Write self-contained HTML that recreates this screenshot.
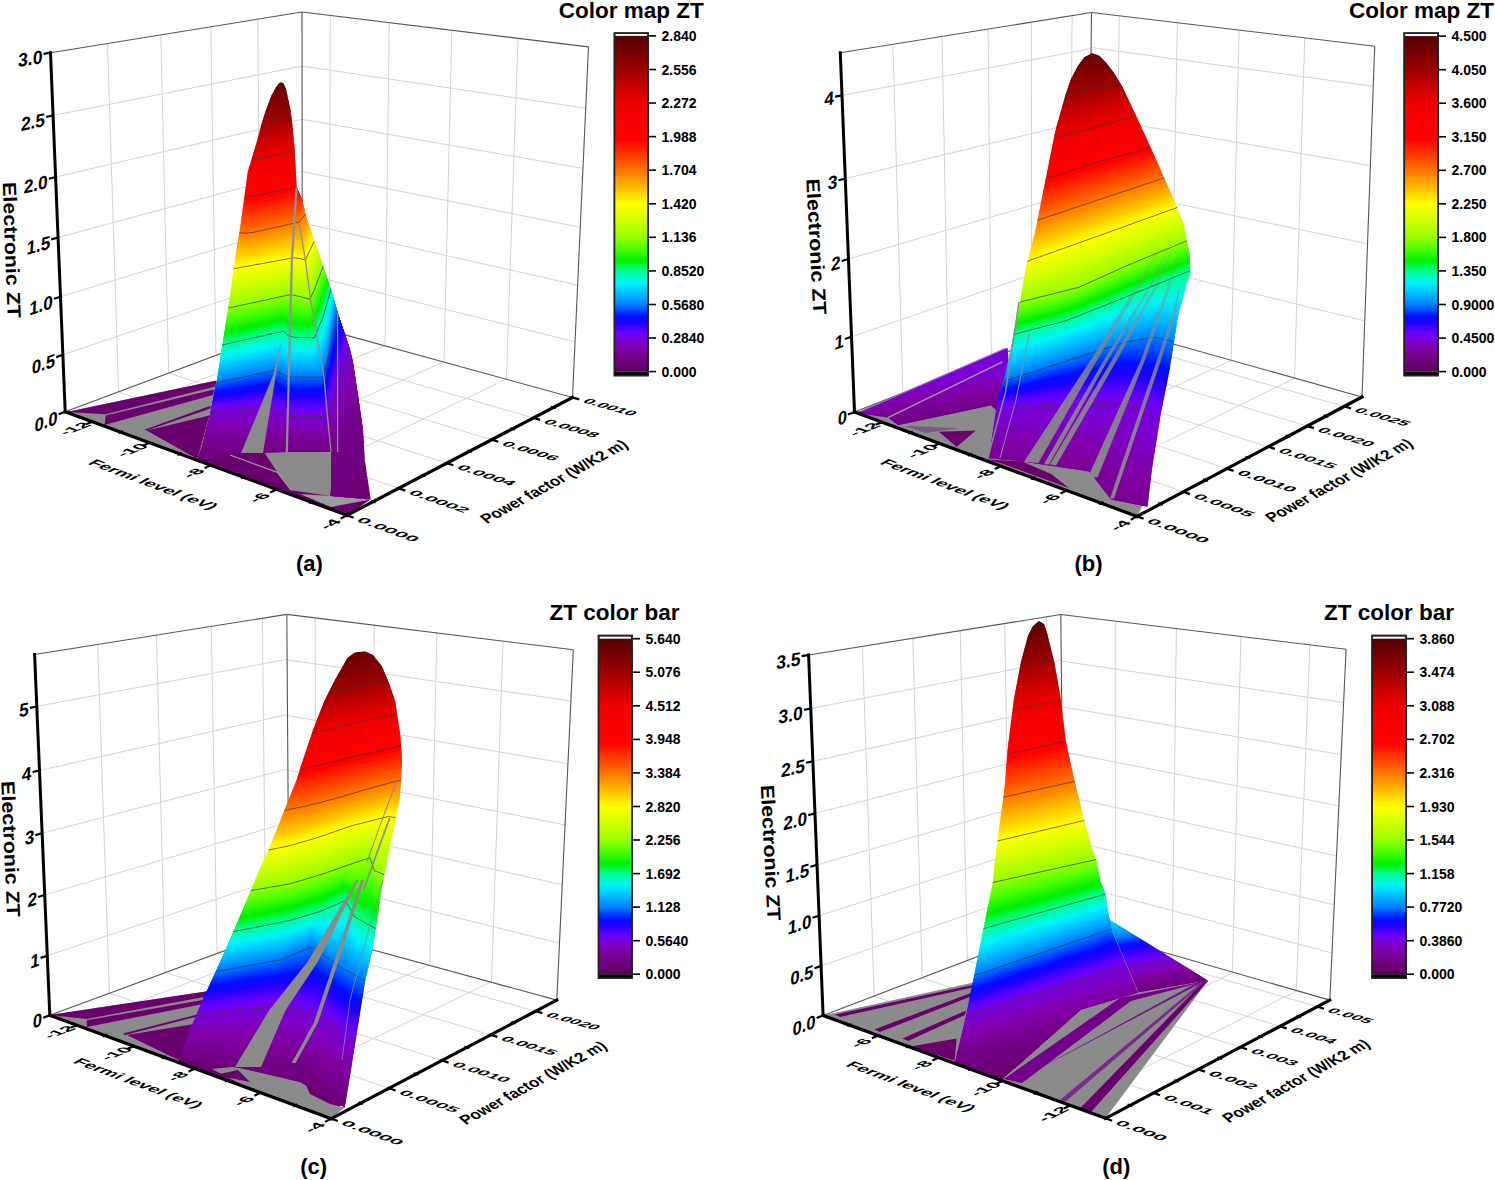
<!DOCTYPE html>
<html><head><meta charset="utf-8"><style>
html,body{margin:0;padding:0;background:#fff;width:1495px;height:1180px;overflow:hidden}
svg{display:block}
</style></head><body>
<svg width="1495" height="1180" viewBox="0 0 1495 1180">
<defs><clipPath id="cp1"><polygon points="197.0,461.0 202.0,446.4 210.5,412.5 217.3,378.6 222.4,344.7 229.2,302.4 234.2,265.0 240.2,227.6 244.4,197.1 247.8,171.7 252.9,154.7 258.0,138.0 261.4,124.2 266.0,110.0 271.5,95.4 275.5,88.0 279.0,83.2 281.0,82.2 283.5,83.5 286.0,89.0 288.5,100.5 290.5,110.0 291.9,120.8 294.4,146.3 295.8,171.7 296.6,187.0 302.0,198.8 305.4,214.3 310.0,228.0 314.3,241.0 318.5,252.0 323.2,266.4 327.0,278.0 330.8,289.3 334.0,300.0 337.6,312.5 343.5,330.0 349.5,348.0 352.9,361.7 358.0,395.6 363.0,429.5 364.7,460.0 370.7,499.5 331.0,496.0 331.0,452.0 286.8,452.0 241.0,453.0"/></clipPath><linearGradient id="acb" x1="0" y1="1" x2="0" y2="0"><stop offset="0.000" stop-color="#5a005c"/><stop offset="0.030" stop-color="#6e0078"/><stop offset="0.070" stop-color="#8000a8"/><stop offset="0.100" stop-color="#7a00e0"/><stop offset="0.120" stop-color="#6000ff"/><stop offset="0.145" stop-color="#2000ff"/><stop offset="0.165" stop-color="#0010ff"/><stop offset="0.200" stop-color="#0080ff"/><stop offset="0.235" stop-color="#00c0ff"/><stop offset="0.265" stop-color="#00f4f8"/><stop offset="0.300" stop-color="#00ff90"/><stop offset="0.330" stop-color="#00f000"/><stop offset="0.360" stop-color="#40ff00"/><stop offset="0.400" stop-color="#98ff00"/><stop offset="0.450" stop-color="#d0ff00"/><stop offset="0.500" stop-color="#ffff00"/><stop offset="0.550" stop-color="#ffb800"/><stop offset="0.600" stop-color="#ff7400"/><stop offset="0.650" stop-color="#ff3400"/><stop offset="0.690" stop-color="#ff0000"/><stop offset="0.800" stop-color="#ee0000"/><stop offset="0.850" stop-color="#c80000"/><stop offset="0.900" stop-color="#9c0000"/><stop offset="0.950" stop-color="#780000"/><stop offset="1.000" stop-color="#560000"/></linearGradient><linearGradient id="stripeB" gradientUnits="userSpaceOnUse" x1="0" y1="245" x2="0" y2="470"><stop offset="0" stop-color="#8b8b8b" stop-opacity="0.1"/><stop offset="0.3" stop-color="#8b8b8b" stop-opacity="0.55"/><stop offset="0.6" stop-color="#8b8b8b" stop-opacity="0.85"/><stop offset="1" stop-color="#8b8b8b" stop-opacity="0.95"/></linearGradient><linearGradient id="zg1" gradientUnits="userSpaceOnUse" x1="930.0" y1="382.0" x2="938.0" y2="430.0"><stop offset="0.000" stop-color="#7b00d4"/><stop offset="0.017" stop-color="#7c00d1"/><stop offset="0.033" stop-color="#7c00cf"/><stop offset="0.050" stop-color="#7c00cc"/><stop offset="0.067" stop-color="#7c00ca"/><stop offset="0.083" stop-color="#7d00c8"/><stop offset="0.100" stop-color="#7d00c5"/><stop offset="0.117" stop-color="#7d00c3"/><stop offset="0.133" stop-color="#7d00c1"/><stop offset="0.150" stop-color="#7e00be"/><stop offset="0.167" stop-color="#7e00bc"/><stop offset="0.183" stop-color="#7e00b9"/><stop offset="0.200" stop-color="#7e00b7"/><stop offset="0.217" stop-color="#7f00b5"/><stop offset="0.233" stop-color="#7f00b2"/><stop offset="0.250" stop-color="#7f00b0"/><stop offset="0.267" stop-color="#7f00ae"/><stop offset="0.283" stop-color="#8000ab"/><stop offset="0.300" stop-color="#8000a9"/><stop offset="0.317" stop-color="#8000a7"/><stop offset="0.333" stop-color="#7f00a6"/><stop offset="0.350" stop-color="#7e00a4"/><stop offset="0.367" stop-color="#7e00a3"/><stop offset="0.383" stop-color="#7d00a1"/><stop offset="0.400" stop-color="#7d00a0"/><stop offset="0.417" stop-color="#7c009f"/><stop offset="0.433" stop-color="#7c009d"/><stop offset="0.450" stop-color="#7b009c"/><stop offset="0.467" stop-color="#7b009a"/><stop offset="0.483" stop-color="#7a0099"/><stop offset="0.500" stop-color="#7a0098"/><stop offset="0.517" stop-color="#790096"/><stop offset="0.533" stop-color="#790095"/><stop offset="0.550" stop-color="#780094"/><stop offset="0.567" stop-color="#780092"/><stop offset="0.583" stop-color="#770091"/><stop offset="0.600" stop-color="#77008f"/><stop offset="0.617" stop-color="#76008e"/><stop offset="0.633" stop-color="#76008d"/><stop offset="0.650" stop-color="#75008b"/><stop offset="0.667" stop-color="#75008a"/><stop offset="0.683" stop-color="#740089"/><stop offset="0.700" stop-color="#740087"/><stop offset="0.717" stop-color="#730086"/><stop offset="0.733" stop-color="#730085"/><stop offset="0.750" stop-color="#720083"/><stop offset="0.767" stop-color="#720082"/><stop offset="0.783" stop-color="#710080"/><stop offset="0.800" stop-color="#71007f"/><stop offset="0.817" stop-color="#70007e"/><stop offset="0.833" stop-color="#70007c"/><stop offset="0.850" stop-color="#6f007b"/><stop offset="0.867" stop-color="#6f007a"/><stop offset="0.883" stop-color="#6e0078"/><stop offset="0.900" stop-color="#6d0077"/><stop offset="0.917" stop-color="#6d0076"/><stop offset="0.933" stop-color="#6c0075"/><stop offset="0.950" stop-color="#6b0074"/><stop offset="0.967" stop-color="#6a0073"/><stop offset="0.983" stop-color="#6a0072"/><stop offset="1.000" stop-color="#690071"/></linearGradient><clipPath id="cp2"><polygon points="988.8,458.3 997.6,403.3 1006.4,370.2 1015.3,326.0 1019.7,304.0 1023.7,280.0 1026.8,263.7 1034.9,233.2 1041.0,202.7 1047.1,172.2 1055.2,131.5 1065.4,94.9 1071.0,79.0 1077.6,66.4 1084.0,57.5 1091.9,53.2 1099.0,55.5 1106.0,62.4 1114.0,73.0 1122.4,86.8 1138.6,121.3 1159.0,166.0 1173.2,198.6 1183.4,223.0 1189.5,253.5 1190.5,273.9 1187.2,282.0 1178.3,315.0 1169.5,370.2 1160.7,414.3 1151.9,469.4 1147.5,506.8 1111.0,499.5 1089.3,471.5 1022.0,461.4"/></clipPath><linearGradient id="bcb" x1="0" y1="1" x2="0" y2="0"><stop offset="0.000" stop-color="#5a005c"/><stop offset="0.030" stop-color="#6e0078"/><stop offset="0.070" stop-color="#8000a8"/><stop offset="0.100" stop-color="#7a00e0"/><stop offset="0.120" stop-color="#6000ff"/><stop offset="0.145" stop-color="#2000ff"/><stop offset="0.165" stop-color="#0010ff"/><stop offset="0.200" stop-color="#0080ff"/><stop offset="0.235" stop-color="#00c0ff"/><stop offset="0.265" stop-color="#00f4f8"/><stop offset="0.300" stop-color="#00ff90"/><stop offset="0.330" stop-color="#00f000"/><stop offset="0.360" stop-color="#40ff00"/><stop offset="0.400" stop-color="#98ff00"/><stop offset="0.450" stop-color="#d0ff00"/><stop offset="0.500" stop-color="#ffff00"/><stop offset="0.550" stop-color="#ffb800"/><stop offset="0.600" stop-color="#ff7400"/><stop offset="0.650" stop-color="#ff3400"/><stop offset="0.690" stop-color="#ff0000"/><stop offset="0.800" stop-color="#ee0000"/><stop offset="0.850" stop-color="#c80000"/><stop offset="0.900" stop-color="#9c0000"/><stop offset="0.950" stop-color="#780000"/><stop offset="1.000" stop-color="#560000"/></linearGradient><clipPath id="cp3"><polygon points="179.0,1059.6 190.0,1030.0 203.4,998.6 223.7,953.9 244.0,907.1 260.0,868.5 269.2,848.6 284.4,810.5 296.6,780.0 300.3,768.0 313.0,730.0 324.0,701.7 336.0,678.0 347.8,657.6 355.0,652.5 364.7,651.5 373.0,655.0 381.7,666.0 389.0,683.0 395.3,701.7 400.3,735.6 402.0,760.0 401.1,780.0 399.6,799.8 394.2,825.8 388.1,856.3 382.0,886.8 377.5,917.3 372.9,947.8 365.1,981.3 356.9,1032.2 348.8,1083.0 344.7,1107.4 300.0,1082.0 240.0,1068.0"/></clipPath><linearGradient id="ccb" x1="0" y1="1" x2="0" y2="0"><stop offset="0.000" stop-color="#5a005c"/><stop offset="0.030" stop-color="#6e0078"/><stop offset="0.070" stop-color="#8000a8"/><stop offset="0.100" stop-color="#7a00e0"/><stop offset="0.120" stop-color="#6000ff"/><stop offset="0.145" stop-color="#2000ff"/><stop offset="0.165" stop-color="#0010ff"/><stop offset="0.200" stop-color="#0080ff"/><stop offset="0.235" stop-color="#00c0ff"/><stop offset="0.265" stop-color="#00f4f8"/><stop offset="0.300" stop-color="#00ff90"/><stop offset="0.330" stop-color="#00f000"/><stop offset="0.360" stop-color="#40ff00"/><stop offset="0.400" stop-color="#98ff00"/><stop offset="0.450" stop-color="#d0ff00"/><stop offset="0.500" stop-color="#ffff00"/><stop offset="0.550" stop-color="#ffb800"/><stop offset="0.600" stop-color="#ff7400"/><stop offset="0.650" stop-color="#ff3400"/><stop offset="0.690" stop-color="#ff0000"/><stop offset="0.800" stop-color="#ee0000"/><stop offset="0.850" stop-color="#c80000"/><stop offset="0.900" stop-color="#9c0000"/><stop offset="0.950" stop-color="#780000"/><stop offset="1.000" stop-color="#560000"/></linearGradient><linearGradient id="zg2" gradientUnits="userSpaceOnUse" x1="1150.0" y1="995.0" x2="1134.6" y2="918.1"><stop offset="0.000" stop-color="#6b0074"/><stop offset="0.017" stop-color="#6d0076"/><stop offset="0.033" stop-color="#6e0079"/><stop offset="0.050" stop-color="#6f007b"/><stop offset="0.067" stop-color="#70007e"/><stop offset="0.083" stop-color="#710081"/><stop offset="0.100" stop-color="#720084"/><stop offset="0.117" stop-color="#730086"/><stop offset="0.133" stop-color="#740089"/><stop offset="0.150" stop-color="#75008c"/><stop offset="0.167" stop-color="#77008f"/><stop offset="0.183" stop-color="#780091"/><stop offset="0.200" stop-color="#790096"/><stop offset="0.217" stop-color="#7b009a"/><stop offset="0.233" stop-color="#7d009f"/><stop offset="0.250" stop-color="#7e00a4"/><stop offset="0.267" stop-color="#8000a9"/><stop offset="0.283" stop-color="#7f00b0"/><stop offset="0.300" stop-color="#7e00b8"/><stop offset="0.317" stop-color="#7e00bf"/><stop offset="0.333" stop-color="#7d00c6"/><stop offset="0.350" stop-color="#7c00ce"/><stop offset="0.367" stop-color="#7b00d5"/><stop offset="0.383" stop-color="#7a00dd"/><stop offset="0.400" stop-color="#7800e3"/><stop offset="0.417" stop-color="#7400e8"/><stop offset="0.433" stop-color="#6f00ed"/><stop offset="0.450" stop-color="#6b00f1"/><stop offset="0.467" stop-color="#6700f6"/><stop offset="0.483" stop-color="#6300fb"/><stop offset="0.500" stop-color="#5e00ff"/><stop offset="0.517" stop-color="#5600ff"/><stop offset="0.533" stop-color="#4d00ff"/><stop offset="0.550" stop-color="#4500ff"/><stop offset="0.567" stop-color="#3d00ff"/><stop offset="0.583" stop-color="#3500ff"/><stop offset="0.600" stop-color="#2d00ff"/><stop offset="0.617" stop-color="#2300ff"/><stop offset="0.633" stop-color="#1a03ff"/><stop offset="0.650" stop-color="#1207ff"/><stop offset="0.667" stop-color="#0a0bff"/><stop offset="0.683" stop-color="#020fff"/><stop offset="0.700" stop-color="#001bff"/><stop offset="0.717" stop-color="#002bff"/><stop offset="0.733" stop-color="#003bff"/><stop offset="0.750" stop-color="#004bff"/><stop offset="0.767" stop-color="#005bff"/><stop offset="0.783" stop-color="#006bff"/><stop offset="0.800" stop-color="#007bff"/><stop offset="0.817" stop-color="#0086ff"/><stop offset="0.833" stop-color="#008dff"/><stop offset="0.850" stop-color="#0094ff"/><stop offset="0.867" stop-color="#009bff"/><stop offset="0.883" stop-color="#00a2ff"/><stop offset="0.900" stop-color="#00a9ff"/><stop offset="0.917" stop-color="#00b1ff"/><stop offset="0.933" stop-color="#00b8ff"/><stop offset="0.950" stop-color="#00bfff"/><stop offset="0.967" stop-color="#00c6fe"/><stop offset="0.983" stop-color="#00ccfd"/><stop offset="1.000" stop-color="#00d3fc"/></linearGradient><clipPath id="cp4"><polygon points="955.4,1060.4 966.4,1014.2 975.2,970.1 984.0,926.0 992.9,882.0 994.9,861.0 999.6,825.4 1004.4,789.8 1007.9,747.1 1013.9,699.6 1021.0,661.7 1028.1,635.6 1033.0,626.0 1038.8,620.9 1044.0,624.0 1047.1,633.2 1054.2,661.7 1060.1,694.9 1066.0,742.3 1075.5,785.0 1085.0,823.0 1092.1,849.1 1096.4,860.0 1100.0,880.0 1105.2,893.0 1109.6,919.5 1112.5,932.7 1138.0,992.7 1081.0,1009.8 1001.7,1080.3 955.4,1062.0"/></clipPath><linearGradient id="dcb" x1="0" y1="1" x2="0" y2="0"><stop offset="0.000" stop-color="#5a005c"/><stop offset="0.030" stop-color="#6e0078"/><stop offset="0.070" stop-color="#8000a8"/><stop offset="0.100" stop-color="#7a00e0"/><stop offset="0.120" stop-color="#6000ff"/><stop offset="0.145" stop-color="#2000ff"/><stop offset="0.165" stop-color="#0010ff"/><stop offset="0.200" stop-color="#0080ff"/><stop offset="0.235" stop-color="#00c0ff"/><stop offset="0.265" stop-color="#00f4f8"/><stop offset="0.300" stop-color="#00ff90"/><stop offset="0.330" stop-color="#00f000"/><stop offset="0.360" stop-color="#40ff00"/><stop offset="0.400" stop-color="#98ff00"/><stop offset="0.450" stop-color="#d0ff00"/><stop offset="0.500" stop-color="#ffff00"/><stop offset="0.550" stop-color="#ffb800"/><stop offset="0.600" stop-color="#ff7400"/><stop offset="0.650" stop-color="#ff3400"/><stop offset="0.690" stop-color="#ff0000"/><stop offset="0.800" stop-color="#ee0000"/><stop offset="0.850" stop-color="#c80000"/><stop offset="0.900" stop-color="#9c0000"/><stop offset="0.950" stop-color="#780000"/><stop offset="1.000" stop-color="#560000"/></linearGradient></defs>
<rect width="1495" height="1180" fill="#fff"/>
<line x1="118.6" y1="391.8" x2="107.5" y2="43.5" stroke="#d4d4d4" stroke-width="1"/>
<line x1="118.6" y1="391.8" x2="398.7" y2="488.3" stroke="#d4d4d4" stroke-width="1"/>
<line x1="168.7" y1="373.1" x2="160.8" y2="34.9" stroke="#d4d4d4" stroke-width="1"/>
<line x1="168.8" y1="373.1" x2="446.8" y2="463.2" stroke="#d4d4d4" stroke-width="1"/>
<line x1="215.9" y1="355.4" x2="210.8" y2="26.8" stroke="#d4d4d4" stroke-width="1"/>
<line x1="215.9" y1="355.4" x2="491.6" y2="439.8" stroke="#d4d4d4" stroke-width="1"/>
<line x1="260.3" y1="338.8" x2="257.8" y2="19.2" stroke="#d4d4d4" stroke-width="1"/>
<line x1="260.4" y1="338.8" x2="533.4" y2="417.9" stroke="#d4d4d4" stroke-width="1"/>
<line x1="62.9" y1="354.8" x2="302.3" y2="273.4" stroke="#d4d4d4" stroke-width="1"/>
<line x1="302.3" y1="273.4" x2="575.0" y2="341.9" stroke="#d4d4d4" stroke-width="1"/>
<line x1="60.5" y1="296.7" x2="302.2" y2="222.9" stroke="#d4d4d4" stroke-width="1"/>
<line x1="302.2" y1="222.9" x2="577.6" y2="285.2" stroke="#d4d4d4" stroke-width="1"/>
<line x1="58.1" y1="237.5" x2="302.2" y2="171.5" stroke="#d4d4d4" stroke-width="1"/>
<line x1="302.2" y1="171.6" x2="580.3" y2="227.3" stroke="#d4d4d4" stroke-width="1"/>
<line x1="55.6" y1="177.1" x2="302.1" y2="119.2" stroke="#d4d4d4" stroke-width="1"/>
<line x1="302.1" y1="119.3" x2="583.0" y2="168.4" stroke="#d4d4d4" stroke-width="1"/>
<line x1="53.1" y1="115.5" x2="302.1" y2="66.1" stroke="#d4d4d4" stroke-width="1"/>
<line x1="302.1" y1="66.1" x2="585.7" y2="108.2" stroke="#d4d4d4" stroke-width="1"/>
<line x1="329.1" y1="330.5" x2="330.3" y2="15.4" stroke="#d4d4d4" stroke-width="1"/>
<line x1="92.4" y1="421.8" x2="329.0" y2="330.4" stroke="#d4d4d4" stroke-width="1"/>
<line x1="385.0" y1="345.9" x2="389.3" y2="22.6" stroke="#d4d4d4" stroke-width="1"/>
<line x1="149.7" y1="442.8" x2="384.6" y2="345.8" stroke="#d4d4d4" stroke-width="1"/>
<line x1="444.0" y1="362.1" x2="451.8" y2="30.2" stroke="#d4d4d4" stroke-width="1"/>
<line x1="210.9" y1="465.3" x2="443.5" y2="362.0" stroke="#d4d4d4" stroke-width="1"/>
<line x1="506.4" y1="379.3" x2="518.0" y2="38.3" stroke="#d4d4d4" stroke-width="1"/>
<line x1="276.5" y1="489.4" x2="506.1" y2="379.2" stroke="#d4d4d4" stroke-width="1"/>
<line x1="50.5" y1="52.7" x2="302.0" y2="12.0" stroke="#555" stroke-width="1.1"/>
<line x1="302.0" y1="12.0" x2="588.5" y2="46.9" stroke="#555" stroke-width="1.1"/>
<line x1="588.5" y1="46.9" x2="572.5" y2="397.5" stroke="#555" stroke-width="1.1"/>
<line x1="302.0" y1="12.0" x2="302.3" y2="323.1" stroke="#555" stroke-width="1.1"/>
<line x1="65.2" y1="411.8" x2="302.3" y2="323.1" stroke="#555" stroke-width="1.1"/>
<line x1="302.3" y1="323.1" x2="572.5" y2="397.5" stroke="#555" stroke-width="1.1"/>
<polygon points="66.0,412.0 216.5,380.5 220.0,396.0 200.0,461.3" fill="#8b8b8b"/>
<polygon points="67.0,412.0 216.5,380.5 215.3,386.5 105.7,414.2" fill="#6a006e"/>
<polygon points="105.7,415.6 214.0,389.5 213.0,395.0 104.5,425.0" fill="#6a006e"/>
<polygon points="144.3,429.8 210.5,405.7 210.5,408.5 146.7,430.5" fill="#6a006e"/>
<polygon points="146.7,430.5 209.3,415.4 197.3,459.0" fill="#6a006e"/>
<polygon points="197.0,461.3 241.0,445.0 331.0,445.0 340.0,450.0 340.0,496.0 370.7,499.5 347.0,515.3" fill="#6a006e"/>
<polygon points="262.0,449.0 277.5,472.4 291.0,490.2 330.0,496.1 336.0,449.0" fill="#8b8b8b"/>
<polygon points="300.0,494.0 331.0,496.0 370.7,499.5 331.0,507.0" fill="#9c9c9c"/>
<polyline points="230.0,455.0 277.5,472.4 291.0,490.2" fill="none" stroke="#9c9c9c" stroke-width="1.2" stroke-linejoin="round"/>
<g clip-path="url(#cp1)" fill="none" stroke-linejoin="round"><polyline points="191,88 200,86 205,86 214,84 221,83 231,82 236,81 240,80 245,80 253,78 260,77 265,77 275,75 283,74 288,73 294,72 299,71 305,71 310,70 314,69 323,68 328,67 334,66 340,65 349,64 355,63 365,62 372,61 377,60" stroke="#580000" stroke-width="4.2"/><polyline points="191,90 200,89 205,88 214,87 221,86 231,84 236,84 240,83 245,82 253,81 260,80 265,79 275,78 283,76 288,76 294,75 299,74 305,73 310,73 314,72 323,71 328,70 334,69 340,68 349,67 355,66 365,64 372,63 377,63" stroke="#5c0000" stroke-width="4.2"/><polyline points="191,93 200,91 205,91 214,89 221,88 231,87 236,86 240,85 245,85 253,84 260,83 265,82 275,80 283,79 288,78 294,78 299,77 305,76 310,75 314,75 323,73 328,73 334,72 340,71 349,69 355,69 365,67 372,66 377,65" stroke="#600000" stroke-width="4.2"/><polyline points="191,95 200,94 205,93 214,92 221,91 231,89 236,89 240,88 245,87 253,86 260,85 265,84 275,83 283,82 288,81 294,80 299,80 305,79 310,78 314,77 323,76 328,75 334,74 340,74 349,72 355,71 365,70 372,69 377,68" stroke="#640000" stroke-width="4.2"/><polyline points="191,98 200,96 205,96 214,94 221,93 231,92 236,91 240,91 245,90 253,89 260,88 265,87 275,86 283,84 288,84 294,83 299,82 305,81 310,81 314,80 323,79 328,78 334,77 340,76 349,75 355,74 365,73 372,72 377,71" stroke="#680000" stroke-width="4.2"/><polyline points="191,100 200,99 205,98 214,97 221,96 231,95 236,94 240,93 245,93 253,91 260,90 265,90 275,88 283,87 288,86 294,86 299,85 305,84 310,83 314,83 323,81 328,81 334,80 340,79 349,78 355,77 365,75 372,74 377,74" stroke="#6c0000" stroke-width="4.2"/><polyline points="191,103 200,102 205,101 214,100 221,99 231,97 236,96 240,96 245,95 253,94 260,93 265,92 275,91 283,90 288,89 294,88 299,88 305,87 310,86 314,85 323,84 328,83 334,83 340,82 349,80 355,80 365,78 372,77 377,76" stroke="#700000" stroke-width="4.2"/><polyline points="191,105 200,104 205,103 214,102 221,101 231,100 236,99 240,98 245,98 253,97 260,96 265,95 275,94 283,92 288,92 294,91 299,90 305,89 310,89 314,88 323,87 328,86 334,85 340,84 349,83 355,82 365,81 372,80 377,79" stroke="#740000" stroke-width="4.2"/><polyline points="191,108 200,107 205,106 214,105 221,104 231,102 236,102 240,101 245,100 253,99 260,98 265,98 275,96 283,95 288,94 294,94 299,93 305,92 310,91 314,91 323,89 328,89 334,88 340,87 349,86 355,85 365,84 372,83 377,82" stroke="#780000" stroke-width="4.2"/><polyline points="191,110 200,109 205,109 214,107 221,106 231,105 236,104 240,104 245,103 253,102 260,101 265,100 275,99 283,98 288,97 294,96 299,96 305,95 310,94 314,93 323,92 328,92 334,91 340,90 349,89 355,88 365,86 372,85 377,85" stroke="#7c0000" stroke-width="4.2"/><polyline points="191,113 200,112 205,111 214,110 221,109 231,108 236,107 240,106 245,106 253,105 260,104 265,103 275,101 283,100 288,100 294,99 299,98 305,97 310,97 314,96 323,95 328,94 334,93 340,93 349,91 355,91 365,89 372,88 377,88" stroke="#800000" stroke-width="4.2"/><polyline points="191,116 200,114 205,114 214,112 221,112 231,110 236,109 240,109 245,108 253,107 260,106 265,106 275,104 283,103 288,102 294,102 299,101 305,100 310,99 314,99 323,98 328,97 334,96 340,95 349,94 355,93 365,92 372,91 377,90" stroke="#850000" stroke-width="4.2"/><polyline points="191,118 200,117 205,116 214,115 221,114 231,113 236,112 240,111 245,111 253,110 260,109 265,108 275,107 283,106 288,105 294,104 299,104 305,103 310,102 314,101 323,100 328,100 334,99 340,98 349,97 355,96 365,95 372,94 377,93" stroke="#890000" stroke-width="4.2"/><polyline points="191,121 200,119 205,119 214,118 221,117 231,115 236,115 240,114 245,113 253,112 260,111 265,111 275,109 283,108 288,108 294,107 299,106 305,105 310,105 314,104 323,103 328,102 334,102 340,101 349,100 355,99 365,97 372,96 377,96" stroke="#8d0000" stroke-width="4.2"/><polyline points="191,123 200,122 205,121 214,120 221,119 231,118 236,117 240,117 245,116 253,115 260,114 265,113 275,112 283,111 288,110 294,110 299,109 305,108 310,107 314,107 323,106 328,105 334,104 340,103 349,102 355,101 365,100 372,99 377,99" stroke="#910000" stroke-width="4.2"/><polyline points="191,126 200,125 205,124 214,123 221,122 231,120 236,120 240,119 245,119 253,118 260,117 265,116 275,115 283,114 288,113 294,112 299,112 305,111 310,110 314,110 323,108 328,108 334,107 340,106 349,105 355,104 365,103 372,102 377,101" stroke="#960000" stroke-width="4.2"/><polyline points="191,128 200,127 205,126 214,125 221,124 231,123 236,122 240,122 245,121 253,120 260,119 265,119 275,117 283,116 288,116 294,115 299,114 305,113 310,113 314,112 323,111 328,111 334,110 340,109 349,108 355,107 365,106 372,105 377,104" stroke="#9a0000" stroke-width="4.2"/><polyline points="191,130 200,129 205,128 214,127 221,127 231,125 236,125 240,124 245,124 253,123 260,122 265,121 275,120 283,119 288,118 294,118 299,117 305,116 310,115 314,115 323,114 328,113 334,112 340,111 349,110 355,109 365,108 372,107 377,106" stroke="#9f0000" stroke-width="4.3"/><polyline points="191,131 200,130 205,130 214,129 221,128 231,127 236,127 240,126 245,126 253,125 260,125 265,124 275,123 283,121 288,121 294,120 299,119 305,118 310,118 314,117 323,116 328,115 334,114 340,114 349,112 355,111 365,110 372,109 377,108" stroke="#a50000" stroke-width="4.3"/><polyline points="191,132 200,131 205,131 214,130 221,130 231,129 236,129 240,129 245,128 253,128 260,127 265,127 275,125 283,124 288,123 294,123 299,122 305,121 310,120 314,120 323,118 328,118 334,117 340,116 349,114 355,114 365,112 372,111 377,110" stroke="#ac0000" stroke-width="4.3"/><polyline points="191,133 200,132 205,132 214,132 221,132 231,131 236,131 240,131 245,131 253,130 260,130 265,129 275,128 283,127 288,126 294,125 299,124 305,123 310,123 314,122 323,121 328,120 334,119 340,118 349,117 355,116 365,114 372,113 377,112" stroke="#b20000" stroke-width="4.3"/><polyline points="191,133 200,133 205,133 214,133 221,133 231,133 236,133 240,133 245,133 253,133 260,133 265,132 275,131 283,129 288,128 294,128 299,127 305,126 310,125 314,124 323,123 328,122 334,121 340,120 349,119 355,118 365,116 372,115 377,114" stroke="#b80000" stroke-width="4.3"/><polyline points="191,134 200,135 205,135 214,135 221,135 231,135 236,135 240,135 245,135 253,136 260,136 265,135 275,133 283,132 288,131 294,130 299,129 305,128 310,127 314,127 323,125 328,124 334,123 340,122 349,121 355,120 365,118 372,117 377,116" stroke="#bf0000" stroke-width="4.3"/><polyline points="191,135 200,136 205,136 214,136 221,137 231,137 236,137 240,138 245,138 253,138 260,138 265,138 275,136 283,134 288,133 294,133 299,132 305,131 310,130 314,129 323,127 328,127 334,126 340,125 349,123 355,122 365,120 372,119 377,118" stroke="#c50000" stroke-width="4.3"/><polyline points="191,136 200,137 205,137 214,138 221,138 231,139 236,139 240,140 245,140 253,141 260,141 265,140 275,138 283,137 288,136 294,135 299,134 305,133 310,132 314,131 323,130 328,129 334,128 340,127 349,125 355,124 365,122 372,121 377,120" stroke="#cb0000" stroke-width="4.3"/><polyline points="191,137 200,138 205,138 214,139 221,140 231,141 236,142 240,142 245,142 253,143 260,144 265,143 275,141 283,140 288,139 294,138 299,137 305,135 310,135 314,134 323,132 328,131 334,130 340,129 349,127 355,126 365,124 372,123 377,122" stroke="#d00000" stroke-width="4.3"/><polyline points="191,138 200,139 205,140 214,141 221,142 231,143 236,144 240,144 245,145 253,146 260,147 265,146 275,144 283,142 288,141 294,140 299,139 305,138 310,137 314,136 323,134 328,134 334,132 340,131 349,129 355,128 365,126 372,125 377,124" stroke="#d60000" stroke-width="4.3"/><polyline points="191,139 200,140 205,141 214,142 221,143 231,145 236,146 240,146 245,147 253,148 260,149 265,148 275,146 283,145 288,144 294,143 299,142 305,140 310,139 314,138 323,137 328,136 334,135 340,133 349,132 355,130 365,128 372,127 377,126" stroke="#db0000" stroke-width="4.3"/><polyline points="191,140 200,141 205,142 214,144 221,145 231,147 236,148 240,149 245,150 253,151 260,152 265,151 275,149 283,147 288,146 294,145 299,144 305,143 310,142 314,141 323,139 328,138 334,137 340,136 349,134 355,132 365,130 372,129 377,128" stroke="#e00000" stroke-width="4.3"/><polyline points="191,141 200,142 205,143 214,145 221,147 231,149 236,150 240,151 245,152 253,153 260,155 265,154 275,152 283,150 288,149 294,148 299,146 305,145 310,144 314,143 323,141 328,140 334,139 340,138 349,136 355,134 365,132 372,131 377,130" stroke="#e60000" stroke-width="4.3"/><polyline points="191,141 200,144 205,145 214,147 221,148 231,151 236,152 240,153 245,154 253,156 260,158 265,157 275,154 283,152 288,151 294,150 299,149 305,148 310,147 314,146 323,144 328,143 334,141 340,140 349,138 355,137 365,134 372,133 377,132" stroke="#eb0000" stroke-width="4.3"/><polyline points="191,143 200,146 205,147 214,149 221,151 231,153 236,154 240,155 245,157 253,159 260,160 265,159 275,157 283,155 288,154 294,153 299,151 305,150 310,149 314,148 323,146 328,145 334,143 340,142 349,140 355,139 365,136 372,135 377,134" stroke="#ef0000" stroke-width="4.2"/><polyline points="191,147 200,149 205,150 214,152 221,154 231,156 236,157 240,158 245,159 253,161 260,163 265,161 275,159 283,157 288,156 294,155 299,154 305,152 310,151 314,150 323,148 328,147 334,146 340,144 349,142 355,141 365,138 372,137 377,135" stroke="#f00000" stroke-width="4.2"/><polyline points="191,150 200,152 205,153 214,155 221,156 231,159 236,160 240,161 245,162 253,164 260,165 265,164 275,162 283,160 288,159 294,157 299,156 305,155 310,153 314,152 323,150 328,149 334,148 340,146 349,144 355,143 365,140 372,138 377,137" stroke="#f10000" stroke-width="4.2"/><polyline points="191,153 200,155 205,156 214,158 221,159 231,162 236,163 240,164 245,165 253,166 260,167 265,166 275,164 283,162 288,161 294,160 299,159 305,157 310,156 314,155 323,152 328,151 334,150 340,148 349,146 355,144 365,142 372,140 377,139" stroke="#f20000" stroke-width="4.2"/><polyline points="191,156 200,158 205,159 214,161 221,162 231,164 236,165 240,166 245,167 253,169 260,170 265,169 275,166 283,165 288,163 294,162 299,161 305,159 310,158 314,157 323,155 328,154 334,152 340,150 349,148 355,146 365,144 372,142 377,141" stroke="#f30000" stroke-width="4.2"/><polyline points="191,159 200,161 205,162 214,164 221,165 231,167 236,168 240,169 245,170 253,172 260,172 265,171 275,169 283,167 288,166 294,165 299,163 305,162 310,160 314,159 323,157 328,156 334,154 340,152 349,150 355,148 365,146 372,144 377,143" stroke="#f40000" stroke-width="4.2"/><polyline points="191,162 200,164 205,165 214,167 221,168 231,170 236,171 240,172 245,173 253,174 260,175 265,173 275,171 283,169 288,168 294,167 299,166 305,164 310,163 314,162 323,159 328,158 334,156 340,154 349,152 355,150 365,148 372,146 377,144" stroke="#f50000" stroke-width="4.2"/><polyline points="191,165 200,167 205,168 214,170 221,171 231,173 236,174 240,174 245,175 253,177 260,177 265,176 275,174 283,172 288,171 294,169 299,168 305,166 310,165 314,164 323,161 328,160 334,158 340,157 349,154 355,152 365,150 372,148 377,146" stroke="#f60000" stroke-width="4.2"/><polyline points="191,169 200,170 205,171 214,173 221,174 231,176 236,176 240,177 245,178 253,179 260,179 265,178 275,176 283,174 288,173 294,172 299,170 305,169 310,167 314,166 323,163 328,162 334,160 340,159 349,156 355,154 365,151 372,149 377,148" stroke="#f70000" stroke-width="4.2"/><polyline points="191,172 200,173 205,174 214,176 221,177 231,178 236,179 240,180 245,181 253,182 260,182 265,181 275,178 283,177 288,175 294,174 299,173 305,171 310,170 314,168 323,166 328,164 334,162 340,161 349,158 355,156 365,153 372,151 377,150" stroke="#f80000" stroke-width="4.2"/><polyline points="191,175 200,176 205,177 214,178 221,180 231,181 236,182 240,183 245,183 253,185 260,184 265,183 275,181 283,179 288,178 294,177 299,175 305,173 310,172 314,171 323,168 328,167 334,165 340,163 349,160 355,158 365,155 372,153 377,152" stroke="#f90000" stroke-width="4.2"/><polyline points="191,178 200,179 205,180 214,181 221,182 231,184 236,185 240,185 245,186 253,187 260,186 265,185 275,183 283,181 288,180 294,179 299,178 305,176 310,174 314,173 323,170 328,169 334,167 340,165 349,162 355,160 365,157 372,155 377,153" stroke="#fa0000" stroke-width="4.2"/><polyline points="191,181 200,182 205,183 214,184 221,185 231,187 236,187 240,188 245,189 253,190 260,189 265,188 275,186 283,184 288,183 294,182 299,180 305,178 310,177 314,175 323,172 328,171 334,169 340,167 349,164 355,162 365,159 372,157 377,155" stroke="#fb0000" stroke-width="4.2"/><polyline points="191,184 200,185 205,186 214,187 221,188 231,189 236,190 240,191 245,191 253,192 260,191 265,190 275,188 283,186 288,185 294,184 299,182 305,180 310,179 314,177 323,175 328,173 334,171 340,169 349,166 355,164 365,161 372,159 377,157" stroke="#fc0000" stroke-width="4.2"/><polyline points="191,187 200,189 205,189 214,190 221,191 231,192 236,193 240,193 245,194 253,195 260,194 265,193 275,190 283,189 288,187 294,186 299,185 305,183 310,181 314,180 323,177 328,175 334,173 340,171 349,168 355,166 365,163 372,160 377,159" stroke="#fd0000" stroke-width="4.2"/><polyline points="191,190 200,191 205,192 214,193 221,194 231,195 236,196 240,196 245,197 253,198 260,196 265,195 275,193 283,191 288,190 294,189 299,187 305,185 310,183 314,181 323,178 328,176 334,174 340,171 349,168 355,165 365,161 372,158 377,156" stroke="#fe0000" stroke-width="4.3"/><polyline points="191,193 200,194 205,195 214,196 221,197 231,198 236,198 240,199 245,199 253,200 260,199 265,198 275,195 283,194 288,192 294,191 299,190 305,187 310,185 314,182 323,178 328,176 334,172 340,169 349,164 355,161 365,156 372,153 377,150" stroke="#ff0100" stroke-width="4.3"/><polyline points="191,196 200,197 205,197 214,198 221,199 231,200 236,201 240,202 245,202 253,203 260,201 265,200 275,198 283,196 288,195 294,194 299,192 305,189 310,186 314,184 323,178 328,175 334,171 340,167 349,161 355,158 365,151 372,147 377,144" stroke="#ff0a00" stroke-width="4.3"/><polyline points="191,198 200,200 205,200 214,201 221,202 231,203 236,204 240,204 245,205 253,205 260,204 265,203 275,201 283,199 288,198 294,196 299,195 305,191 310,188 314,185 323,178 328,175 334,170 340,165 349,158 355,154 365,146 372,141 377,137" stroke="#ff1300" stroke-width="4.3"/><polyline points="191,201 200,202 205,203 214,204 221,205 231,206 236,206 240,207 245,208 253,208 260,206 265,205 275,203 283,201 288,200 294,199 299,198 305,194 310,190 314,186 323,178 328,174 334,168 340,163 349,155 355,150 365,141 372,135 377,131" stroke="#ff1d00" stroke-width="4.3"/><polyline points="191,204 200,205 205,206 214,207 221,207 231,209 236,209 240,210 245,210 253,211 260,209 265,208 275,206 283,204 288,203 294,202 299,200 305,196 310,191 314,187 323,178 328,174 334,167 340,161 349,152 355,146 365,136 372,129 377,125" stroke="#ff2600" stroke-width="4.3"/><polyline points="191,207 200,208 205,208 214,209 221,210 231,211 236,212 240,212 245,213 253,213 260,212 265,210 275,208 283,206 288,205 294,204 299,203 305,198 310,193 314,188 323,178 328,173 334,166 340,159 349,149 355,142 365,131 372,123 377,118" stroke="#ff2f00" stroke-width="4.3"/><polyline points="191,209 200,210 205,211 214,212 221,213 231,214 236,215 240,215 245,216 253,216 260,214 265,213 275,211 283,209 288,208 294,207 299,205 305,200 310,194 314,189 323,178 328,173 334,165 340,157 349,146 355,139 365,126 372,118 377,112" stroke="#ff3900" stroke-width="4.3"/><polyline points="191,212 200,213 205,214 214,215 221,215 231,217 236,217 240,218 245,218 253,218 260,217 265,216 275,213 283,211 288,210 294,209 299,208 305,202 310,196 314,190 323,178 328,172 334,163 340,155 349,143 355,135 365,121 372,112 377,105" stroke="#ff4200" stroke-width="4.3"/><polyline points="191,215 200,216 205,216 214,217 221,218 231,219 236,220 240,221 245,221 253,221 260,219 265,218 275,216 283,214 288,213 294,212 299,210 305,205 310,198 314,191 323,178 328,172 334,162 340,153 349,140 355,131 365,116 372,106 377,99" stroke="#ff4b00" stroke-width="4.3"/><polyline points="191,217 200,218 205,219 214,220 221,221 231,222 236,223 240,223 245,224 253,223 260,222 265,221 275,218 283,217 288,215 294,214 299,213 305,207 310,199 314,192 323,178 328,171 334,161 340,151 349,137 355,127 365,111 372,100 377,93" stroke="#ff5400" stroke-width="4.3"/><polyline points="191,220 200,221 205,222 214,223 221,224 231,225 236,225 240,226 245,227 253,226 260,224 265,223 275,221 283,219 288,218 294,217 299,216 305,209 310,201 314,194 323,178 328,171 334,160 340,149 349,134 355,123 365,106 372,94 377,86" stroke="#ff5d00" stroke-width="4.3"/><polyline points="191,223 200,224 205,224 214,226 221,226 231,228 236,228 240,229 245,229 253,229 260,227 265,226 275,224 283,222 288,221 294,219 299,218 305,211 310,203 314,195 323,178 328,170 334,158 340,147 349,131 355,120 365,101 372,88 377,80" stroke="#ff6600" stroke-width="4.3"/><polyline points="191,226 200,227 205,227 214,228 221,229 231,230 236,231 240,231 245,232 253,231 260,230 265,229 275,226 283,224 288,223 294,222 299,221 305,213 310,204 314,196 323,178 328,170 334,157 340,145 349,128 355,116 365,96 372,83 377,73" stroke="#ff6f00" stroke-width="4.3"/><polyline points="191,228 200,229 205,230 214,231 221,232 231,233 236,233 240,234 245,234 253,233 260,232 265,231 275,228 283,227 288,225 294,224 299,223 305,216 310,206 314,198 323,180 328,171 334,158 340,145 349,127 355,115 365,95 372,80 377,71" stroke="#ff7800" stroke-width="4.2"/><polyline points="191,231 200,232 205,233 214,233 221,234 231,235 236,235 240,236 245,236 253,235 260,234 265,233 275,230 283,229 288,227 294,226 299,225 305,218 310,209 314,200 323,182 328,173 334,160 340,147 349,129 355,116 365,96 372,82 377,72" stroke="#ff8000" stroke-width="4.2"/><polyline points="191,234 200,235 205,235 214,236 221,236 231,237 236,238 240,238 245,238 253,237 260,236 265,235 275,232 283,231 288,229 294,228 299,227 305,221 310,212 314,203 323,184 328,175 334,162 340,149 349,131 355,118 365,97 372,83 377,73" stroke="#ff8800" stroke-width="4.2"/><polyline points="191,237 200,238 205,238 214,238 221,239 231,239 236,240 240,240 245,240 253,239 260,238 265,237 275,234 283,233 288,231 294,230 299,230 305,224 310,214 314,206 323,187 328,178 334,164 340,151 349,132 355,120 365,99 372,84 377,74" stroke="#ff9000" stroke-width="4.2"/><polyline points="191,240 200,240 205,241 214,241 221,241 231,242 236,242 240,242 245,242 253,241 260,240 265,239 275,236 283,235 288,233 294,232 299,232 305,226 310,217 314,208 323,189 328,180 334,166 340,153 349,134 355,121 365,100 372,85 377,75" stroke="#ff9800" stroke-width="4.2"/><polyline points="191,243 200,243 205,243 214,243 221,244 231,244 236,244 240,244 245,244 253,243 260,242 265,241 275,238 283,237 288,236 294,234 299,234 305,229 310,220 314,211 323,192 328,182 334,168 340,155 349,136 355,123 365,102 372,86 377,76" stroke="#ffa000" stroke-width="4.2"/><polyline points="191,246 200,246 205,246 214,246 221,246 231,246 236,246 240,246 245,246 253,245 260,244 265,243 275,240 283,239 288,238 294,236 299,236 305,232 310,222 314,213 323,194 328,185 334,170 340,157 349,138 355,125 365,103 372,88 377,77" stroke="#ffa800" stroke-width="4.2"/><polyline points="191,249 200,249 205,249 214,248 221,248 231,248 236,248 240,248 245,248 253,247 260,245 265,244 275,242 283,241 288,240 294,238 299,238 305,234 310,225 314,216 323,196 328,187 334,173 340,159 349,140 355,126 365,104 372,89 377,79" stroke="#ffb000" stroke-width="4.2"/><polyline points="191,252 200,251 205,251 214,251 221,251 231,250 236,250 240,250 245,250 253,249 260,247 265,246 275,244 283,243 288,242 294,241 299,240 305,237 310,228 314,219 323,199 328,189 334,175 340,161 349,141 355,128 365,106 372,90 377,80" stroke="#ffb800" stroke-width="4.2"/><polyline points="191,255 200,254 205,254 214,253 221,253 231,253 236,252 240,252 245,252 253,251 260,249 265,248 275,246 283,245 288,244 294,243 299,242 305,240 310,230 314,221 323,201 328,192 334,177 340,163 349,143 355,130 365,107 372,91 377,81" stroke="#ffc000" stroke-width="4.2"/><polyline points="191,258 200,257 205,257 214,256 221,256 231,255 236,254 240,254 245,254 253,253 260,251 265,250 275,248 283,247 288,246 294,245 299,245 305,243 310,233 314,224 323,204 328,194 334,179 340,165 349,145 355,131 365,109 372,93 377,82" stroke="#ffc900" stroke-width="4.2"/><polyline points="191,260 200,260 205,259 214,258 221,258 231,257 236,257 240,256 245,256 253,255 260,253 265,252 275,250 283,249 288,248 294,247 299,247 305,245 310,236 314,227 323,206 328,196 334,181 340,167 349,147 355,133 365,110 372,94 377,83" stroke="#ffd100" stroke-width="4.2"/><polyline points="191,263 200,262 205,262 214,261 221,260 231,259 236,259 240,258 245,258 253,257 260,255 265,254 275,252 283,251 288,250 294,249 299,249 305,248 310,238 314,229 323,208 328,198 334,183 340,169 349,149 355,135 365,111 372,95 377,84" stroke="#ffd900" stroke-width="4.2"/><polyline points="191,266 200,265 205,265 214,264 221,263 231,261 236,261 240,260 245,260 253,258 260,257 265,256 275,254 283,253 288,252 294,251 299,251 305,251 310,241 314,232 323,211 328,201 334,186 340,171 349,150 355,136 365,113 372,96 377,85" stroke="#ffe200" stroke-width="4.2"/><polyline points="191,269 200,268 205,267 214,266 221,265 231,264 236,263 240,262 245,262 253,260 260,259 265,258 275,256 283,255 288,254 294,253 299,253 305,253 310,244 314,234 323,213 328,203 334,188 340,173 349,152 355,138 365,114 372,98 377,86" stroke="#ffea00" stroke-width="4.2"/><polyline points="191,272 200,271 205,270 214,269 221,267 231,266 236,265 240,264 245,264 253,262 260,261 265,260 275,258 283,257 288,256 294,255 299,255 305,256 310,246 314,237 323,216 328,205 334,190 340,175 349,154 355,140 365,116 372,99 377,88" stroke="#fff200" stroke-width="4.2"/><polyline points="191,275 200,273 205,273 214,271 221,270 231,268 236,267 240,266 245,266 253,264 260,263 265,262 275,260 283,259 288,258 294,257 299,257 305,259 310,249 314,240 323,218 328,208 334,192 340,177 349,156 355,141 365,117 372,100 377,89" stroke="#fffb00" stroke-width="4.2"/><polyline points="191,278 200,276 205,275 214,273 221,272 231,270 236,269 240,269 245,268 253,266 260,265 265,264 275,262 283,261 288,260 294,259 299,259 305,261 310,252 314,242 323,221 328,210 334,194 340,180 349,158 355,143 365,119 372,102 377,90" stroke="#fcff00" stroke-width="4.3"/><polyline points="191,280 200,278 205,277 214,276 221,274 231,272 236,271 240,271 245,270 253,268 260,267 265,266 275,264 283,263 288,262 294,261 299,262 305,263 310,254 314,245 323,223 328,213 334,197 340,182 349,160 355,145 365,121 372,103 377,92" stroke="#f7ff00" stroke-width="4.3"/><polyline points="191,282 200,280 205,279 214,278 221,276 231,275 236,274 240,273 245,272 253,270 260,269 265,268 275,266 283,265 288,264 294,263 299,264 305,265 310,257 314,248 323,226 328,215 334,199 340,184 349,162 355,147 365,122 372,105 377,93" stroke="#f2ff00" stroke-width="4.3"/><polyline points="191,284 200,282 205,282 214,280 221,279 231,277 236,276 240,275 245,274 253,272 260,271 265,270 275,268 283,267 288,266 294,265 299,266 305,267 310,260 314,250 323,228 328,218 334,202 340,187 349,164 355,149 365,124 372,107 377,95" stroke="#edff00" stroke-width="4.3"/><polyline points="191,286 200,285 205,284 214,282 221,281 231,279 236,278 240,277 245,276 253,275 260,273 265,272 275,270 283,269 288,268 294,267 299,268 305,270 310,262 314,253 323,231 328,220 334,204 340,189 349,166 355,151 365,126 372,109 377,97" stroke="#e8ff00" stroke-width="4.3"/><polyline points="191,289 200,287 205,286 214,284 221,283 231,281 236,280 240,279 245,278 253,277 260,275 265,274 275,272 283,271 288,270 294,269 299,270 305,272 310,265 314,256 323,234 328,223 334,206 340,191 349,169 355,153 365,128 372,110 377,99" stroke="#e2ff00" stroke-width="4.3"/><polyline points="191,291 200,289 205,288 214,286 221,285 231,283 236,282 240,281 245,280 253,279 260,277 265,276 275,274 283,273 288,272 294,271 299,272 305,274 310,268 314,259 323,236 328,225 334,209 340,194 349,171 355,155 365,130 372,112 377,100" stroke="#ddff00" stroke-width="4.3"/><polyline points="191,293 200,291 205,290 214,288 221,287 231,285 236,284 240,283 245,282 253,281 260,280 265,279 275,276 283,275 288,274 294,273 299,274 305,276 310,271 314,261 323,239 328,228 334,211 340,196 349,173 355,158 365,132 372,114 377,102" stroke="#d8ff00" stroke-width="4.3"/><polyline points="191,295 200,293 205,292 214,291 221,289 231,287 236,286 240,285 245,284 253,283 260,282 265,281 275,279 283,277 288,276 294,275 299,276 305,278 310,273 314,264 323,242 328,230 334,214 340,198 349,175 355,160 365,134 372,116 377,104" stroke="#d3ff00" stroke-width="4.3"/><polyline points="191,297 200,296 205,295 214,293 221,291 231,289 236,288 240,288 245,287 253,285 260,284 265,283 275,281 283,279 288,278 294,277 299,278 305,280 310,276 314,267 323,244 328,233 334,216 340,201 349,177 355,162 365,136 372,118 377,105" stroke="#cdff00" stroke-width="4.3"/><polyline points="191,300 200,298 205,297 214,295 221,294 231,292 236,291 240,290 245,289 253,287 260,286 265,285 275,283 283,281 288,280 294,279 299,281 305,282 310,279 314,269 323,247 328,236 334,219 340,203 349,179 355,164 365,138 372,119 377,107" stroke="#c7ff00" stroke-width="4.3"/><polyline points="191,302 200,300 205,299 214,297 221,296 231,294 236,293 240,292 245,291 253,289 260,288 265,287 275,285 283,283 288,282 294,282 299,283 305,284 310,282 314,272 323,249 328,238 334,221 340,205 349,182 355,166 365,140 372,121 377,109" stroke="#c0ff00" stroke-width="4.3"/><polyline points="191,304 200,302 205,301 214,299 221,298 231,296 236,295 240,294 245,293 253,291 260,290 265,289 275,287 283,285 288,284 294,284 299,285 305,286 310,284 314,275 323,252 328,241 334,223 340,208 349,184 355,168 365,142 372,123 377,111" stroke="#baff00" stroke-width="4.3"/><polyline points="191,306 200,304 205,303 214,301 221,300 231,298 236,297 240,296 245,295 253,293 260,292 265,291 275,289 283,287 288,286 294,286 299,287 305,289 310,287 314,277 323,255 328,243 334,226 340,210 349,186 355,170 365,143 372,125 377,112" stroke="#b4ff00" stroke-width="4.3"/><polyline points="191,308 200,307 205,305 214,304 221,302 231,300 236,299 240,298 245,297 253,295 260,294 265,293 275,291 283,289 288,288 294,288 299,289 305,291 310,290 314,280 323,257 328,246 334,228 340,212 349,188 355,172 365,145 372,127 377,114" stroke="#aeff00" stroke-width="4.3"/><polyline points="191,311 200,309 205,308 214,306 221,304 231,302 236,301 240,300 245,299 253,298 260,296 265,295 275,293 283,291 288,290 294,290 299,291 305,293 310,292 314,283 323,260 328,248 334,231 340,215 349,190 355,174 365,147 372,128 377,116" stroke="#a8ff00" stroke-width="4.3"/><polyline points="191,313 200,311 205,310 214,308 221,306 231,304 236,303 240,302 245,301 253,300 260,298 265,297 275,295 283,293 288,292 294,292 299,293 305,295 310,295 314,285 323,262 328,251 334,233 340,217 349,193 355,176 365,149 372,130 377,117" stroke="#a1ff00" stroke-width="4.3"/><polyline points="191,315 200,313 205,312 214,310 221,309 231,306 236,305 240,304 245,303 253,302 260,300 265,299 275,297 283,295 288,294 294,294 299,295 305,297 310,298 314,288 323,265 328,253 334,236 340,219 349,195 355,178 365,151 372,132 377,119" stroke="#9bff00" stroke-width="4.3"/><polyline points="191,317 200,315 205,314 214,312 221,311 231,308 236,307 240,306 245,305 253,304 260,302 265,301 275,299 283,297 288,296 294,296 299,298 305,299 310,300 314,291 323,268 328,256 334,238 340,221 349,197 355,180 365,152 372,133 377,120" stroke="#92ff00" stroke-width="4.4"/><polyline points="191,319 200,317 205,316 214,314 221,313 231,310 236,309 240,308 245,307 253,306 260,304 265,303 275,301 283,299 288,298 294,298 299,300 305,301 310,302 314,294 323,271 328,259 334,240 340,223 349,198 355,181 365,153 372,134 377,121" stroke="#86ff00" stroke-width="4.4"/><polyline points="191,321 200,319 205,318 214,316 221,315 231,312 236,311 240,310 245,309 253,308 260,306 265,305 275,303 283,301 288,301 294,301 299,302 305,304 310,305 314,296 323,273 328,261 334,243 340,225 349,200 355,183 365,154 372,134 377,121" stroke="#79ff00" stroke-width="4.4"/><polyline points="191,323 200,321 205,320 214,318 221,317 231,314 236,313 240,312 245,311 253,310 260,308 265,307 275,305 283,303 288,303 294,303 299,304 305,306 310,307 314,299 323,276 328,264 334,245 340,227 349,201 355,184 365,155 372,135 377,121" stroke="#6dff00" stroke-width="4.4"/><polyline points="191,325 200,323 205,322 214,320 221,319 231,316 236,315 240,314 245,313 253,312 260,310 265,309 275,307 283,305 288,305 294,306 299,307 305,308 310,309 314,302 323,279 328,266 334,247 340,230 349,203 355,185 365,156 372,136 377,122" stroke="#61ff00" stroke-width="4.4"/><polyline points="191,327 200,325 205,324 214,322 221,321 231,318 236,317 240,316 245,315 253,314 260,312 265,311 275,309 283,307 288,307 294,308 299,309 305,310 310,311 314,304 323,282 328,269 334,249 340,232 349,205 355,187 365,157 372,136 377,122" stroke="#55ff00" stroke-width="4.4"/><polyline points="191,329 200,327 205,326 214,324 221,323 231,320 236,319 240,318 245,317 253,315 260,314 265,313 275,311 283,309 288,310 294,310 299,311 305,312 310,313 314,307 323,285 328,271 334,252 340,234 349,206 355,188 365,158 372,137 377,123" stroke="#49ff00" stroke-width="4.4"/><polyline points="191,331 200,329 205,328 214,326 221,325 231,322 236,321 240,320 245,319 253,317 260,316 265,315 275,313 283,311 288,312 294,313 299,313 305,315 310,315 314,310 323,287 328,274 334,254 340,236 349,208 355,190 365,159 372,137 377,123" stroke="#3cfe00" stroke-width="4.4"/><polyline points="191,333 200,331 205,330 214,328 221,326 231,324 236,323 240,322 245,321 253,319 260,318 265,317 275,315 283,313 288,314 294,315 299,316 305,317 310,317 314,312 323,290 328,277 334,256 340,238 349,210 355,191 365,160 372,138 377,123" stroke="#31fb00" stroke-width="4.4"/><polyline points="191,335 200,333 205,332 214,330 221,328 231,326 236,325 240,324 245,323 253,321 260,320 265,319 275,316 283,315 288,316 294,317 299,318 305,319 310,320 314,315 323,293 328,279 334,259 340,240 349,211 355,192 365,161 372,139 377,124" stroke="#25f900" stroke-width="4.4"/><polyline points="191,337 200,335 205,334 214,332 221,330 231,328 236,327 240,326 245,325 253,323 260,322 265,321 275,318 283,317 288,319 294,320 299,320 305,321 310,322 314,318 323,296 328,282 334,261 340,242 349,213 355,194 365,162 372,139 377,124" stroke="#19f600" stroke-width="4.4"/><polyline points="191,339 200,337 205,336 214,334 221,332 231,330 236,329 240,328 245,327 253,325 260,324 265,323 275,320 283,319 288,321 294,322 299,323 305,323 310,324 314,320 323,299 328,284 334,263 340,244 349,214 355,195 365,163 372,140 377,125" stroke="#0df300" stroke-width="4.4"/><polyline points="191,341 200,339 205,338 214,336 221,334 231,332 236,331 240,330 245,329 253,327 260,326 265,325 275,322 283,320 288,323 294,324 299,325 305,326 310,326 314,323 323,301 328,287 334,265 340,246 349,216 355,196 365,163 372,140 377,125" stroke="#01f000" stroke-width="4.4"/><polyline points="191,343 200,341 205,340 214,338 221,336 231,334 236,333 240,332 245,331 253,329 260,328 265,327 275,324 283,322 288,325 294,327 299,327 305,328 310,328 314,326 323,304 328,290 334,268 340,248 349,218 355,198 365,164 372,141 377,125" stroke="#00f218" stroke-width="4.4"/><polyline points="191,345 200,343 205,342 214,340 221,338 231,336 236,335 240,334 245,333 253,331 260,330 265,329 275,326 283,324 288,328 294,329 299,329 305,330 310,330 314,328 323,307 328,292 334,270 340,250 349,219 355,199 365,165 372,142 377,126" stroke="#00f533" stroke-width="4.4"/><polyline points="191,347 200,345 205,344 214,342 221,340 231,338 236,337 240,336 245,335 253,333 260,332 265,331 275,328 283,326 288,330 294,331 299,332 305,332 310,332 314,331 323,310 328,295 334,272 340,252 349,221 355,200 365,166 372,142 377,126" stroke="#00f84d" stroke-width="4.4"/><polyline points="191,349 200,347 205,346 214,344 221,342 231,340 236,339 240,338 245,337 253,335 260,334 265,332 275,330 283,328 288,332 294,334 299,334 305,334 310,335 314,334 323,313 328,297 334,275 340,254 349,223 355,202 365,167 372,143 377,127" stroke="#00fb68" stroke-width="4.4"/><polyline points="191,351 200,349 205,348 214,346 221,344 231,342 236,341 240,340 245,339 253,337 260,336 265,334 275,332 283,330 288,334 294,336 299,336 305,337 310,337 314,337 323,315 328,300 334,277 340,256 349,224 355,203 365,168 372,144 377,127" stroke="#00fe83" stroke-width="4.4"/><polyline points="191,353 200,351 205,350 214,348 221,346 231,344 236,343 240,342 245,341 253,339 260,337 265,336 275,334 283,332 288,337 294,338 299,338 305,339 310,339 314,339 323,318 328,303 334,279 340,258 349,226 355,204 365,169 372,144 377,127" stroke="#00fe97" stroke-width="4.3"/><polyline points="191,354 200,352 205,351 214,349 221,348 231,346 236,344 240,343 245,342 253,341 260,339 265,338 275,336 283,334 288,338 294,340 299,340 305,340 310,340 314,341 323,321 328,305 334,281 340,260 349,227 355,206 365,169 372,144 377,127" stroke="#00fda4" stroke-width="4.3"/><polyline points="191,356 200,354 205,353 214,351 221,349 231,347 236,346 240,345 245,344 253,342 260,341 265,340 275,337 283,336 288,340 294,342 299,342 305,342 310,342 314,342 323,324 328,308 334,284 340,262 349,229 355,207 365,170 372,144 377,127" stroke="#00fbb2" stroke-width="4.3"/><polyline points="191,358 200,356 205,355 214,353 221,351 231,349 236,348 240,347 245,346 253,344 260,342 265,341 275,339 283,338 288,342 294,344 299,344 305,344 310,344 314,344 323,326 328,311 334,286 340,264 349,230 355,208 365,170 372,144 377,127" stroke="#00fabf" stroke-width="4.3"/><polyline points="191,359 200,357 205,356 214,354 221,353 231,351 236,349 240,348 245,347 253,346 260,344 265,343 275,341 283,340 288,344 294,345 299,345 305,346 310,346 314,346 323,329 328,313 334,288 340,266 349,232 355,209 365,171 372,144 377,127" stroke="#00f9cd" stroke-width="4.3"/><polyline points="191,361 200,359 205,358 214,356 221,354 231,352 236,351 240,350 245,349 253,347 260,346 265,345 275,342 283,342 288,346 294,347 299,347 305,347 310,348 314,348 323,332 328,316 334,291 340,268 349,233 355,210 365,171 372,145 377,127" stroke="#00f7da" stroke-width="4.3"/><polyline points="191,363 200,361 205,360 214,358 221,356 231,354 236,353 240,352 245,351 253,349 260,347 265,346 275,344 283,344 288,348 294,349 299,349 305,349 310,349 314,349 323,335 328,319 334,293 340,270 349,234 355,211 365,172 372,145 377,126" stroke="#00f6e8" stroke-width="4.3"/><polyline points="191,364 200,362 205,361 214,359 221,358 231,356 236,354 240,353 245,352 253,351 260,349 265,348 275,346 283,346 288,350 294,351 299,351 305,351 310,351 314,351 323,337 328,321 334,295 340,272 349,236 355,212 365,173 372,145 377,126" stroke="#00f4f5" stroke-width="4.3"/><polyline points="191,366 200,364 205,363 214,361 221,359 231,357 236,356 240,355 245,354 253,352 260,351 265,350 275,347 283,348 288,352 294,353 299,353 305,353 310,353 314,353 323,340 328,324 334,298 340,273 349,237 355,213 365,173 372,145 377,126" stroke="#00eef9" stroke-width="4.3"/><polyline points="191,368 200,366 205,365 214,363 221,361 231,359 236,358 240,357 245,356 253,354 260,352 265,351 275,349 283,350 288,353 294,354 299,354 305,355 310,355 314,355 323,343 328,327 334,300 340,275 349,239 355,214 365,174 372,145 377,126" stroke="#00e6fa" stroke-width="4.3"/><polyline points="191,369 200,367 205,366 214,364 221,363 231,361 236,359 240,358 245,357 253,356 260,354 265,353 275,351 283,352 288,355 294,356 299,356 305,356 310,356 314,357 323,345 328,329 334,302 340,277 349,240 355,215 365,174 372,145 377,126" stroke="#00defb" stroke-width="4.3"/><polyline points="191,371 200,369 205,368 214,366 221,364 231,362 236,361 240,360 245,359 253,357 260,356 265,355 275,352 283,354 288,357 294,358 299,358 305,358 310,358 314,358 323,348 328,332 334,305 340,279 349,242 355,217 365,175 372,145 377,126" stroke="#00d6fc" stroke-width="4.3"/><polyline points="191,373 200,371 205,370 214,368 221,366 231,364 236,363 240,362 245,361 253,359 260,358 265,356 275,354 283,356 288,359 294,360 299,360 305,360 310,360 314,360 323,351 328,335 334,307 340,281 349,243 355,218 365,175 372,146 377,126" stroke="#00cefd" stroke-width="4.3"/><polyline points="191,374 200,372 205,371 214,369 221,368 231,366 236,364 240,364 245,362 253,361 260,359 265,358 275,356 283,358 288,361 294,362 299,362 305,362 310,362 314,362 323,354 328,337 334,309 340,283 349,245 355,219 365,176 372,146 377,125" stroke="#00c6fe" stroke-width="4.3"/><polyline points="191,376 200,374 205,373 214,371 221,369 231,367 236,366 240,365 245,364 253,362 260,361 265,360 275,358 283,360 288,363 294,363 299,363 305,364 310,364 314,364 323,356 328,340 334,311 340,285 349,246 355,220 365,176 372,146 377,125" stroke="#00beff" stroke-width="4.3"/><polyline points="191,378 200,376 205,375 214,373 221,371 231,369 236,368 240,367 245,366 253,364 260,363 265,361 275,359 283,362 288,365 294,365 299,365 305,365 310,365 314,365 323,359 328,343 334,314 340,287 349,248 355,221 365,177 372,146 377,125" stroke="#00b6ff" stroke-width="4.3"/><polyline points="191,379 200,377 205,376 214,374 221,373 231,371 236,369 240,369 245,367 253,366 260,364 265,363 275,361 283,364 288,367 294,367 299,367 305,367 310,367 314,367 323,362 328,345 334,316 340,289 349,249 355,222 365,177 372,146 377,125" stroke="#00aeff" stroke-width="4.3"/><polyline points="191,381 200,379 205,378 214,376 221,374 231,372 236,371 240,370 245,369 253,367 260,366 265,365 275,363 283,366 288,369 294,369 299,369 305,369 310,369 314,369 323,365 328,348 334,318 340,291 349,250 355,223 365,178 372,146 377,125" stroke="#00a5ff" stroke-width="4.3"/><polyline points="191,383 200,381 205,380 214,378 221,376 231,374 236,373 240,372 245,371 253,369 260,368 265,367 275,364 283,368 288,370 294,371 299,371 305,371 310,371 314,371 323,367 328,351 334,321 340,293 349,252 355,224 365,178 372,146 377,125" stroke="#009dff" stroke-width="4.3"/><polyline points="191,384 200,382 205,381 214,379 221,378 231,376 236,375 240,374 245,372 253,371 260,369 265,368 275,366 283,370 288,372 294,372 299,372 305,373 310,373 314,373 323,370 328,353 334,323 340,295 349,253 355,225 365,179 372,147 377,125" stroke="#0095ff" stroke-width="4.3"/><polyline points="191,386 200,384 205,383 214,381 221,379 231,377 236,376 240,375 245,374 253,372 260,371 265,370 275,368 283,371 288,374 294,374 299,374 305,374 310,374 314,374 323,373 328,356 334,325 340,297 349,255 355,227 365,180 372,147 377,125" stroke="#008cff" stroke-width="4.3"/><polyline points="191,388 200,386 205,385 214,383 221,381 231,379 236,378 240,377 245,376 253,374 260,373 265,372 275,369 283,373 288,376 294,376 299,376 305,376 310,376 314,376 323,376 328,359 334,328 340,299 349,256 355,228 365,180 372,147 377,124" stroke="#0084ff" stroke-width="4.3"/><polyline points="191,389 200,387 205,386 214,384 221,382 231,380 236,379 240,378 245,377 253,376 260,374 265,373 275,371 283,375 288,378 294,378 299,378 305,378 310,378 314,378 323,378 328,361 334,330 340,301 349,258 355,230 365,182 372,149 377,126" stroke="#007bff" stroke-width="4.3"/><polyline points="191,390 200,388 205,387 214,385 221,383 231,381 236,380 240,379 245,378 253,377 260,375 265,374 275,372 283,376 288,379 294,379 299,379 305,379 310,379 314,379 323,379 328,363 334,332 340,303 349,261 355,233 365,185 372,152 377,130" stroke="#0072ff" stroke-width="4.3"/><polyline points="191,390 200,388 205,387 214,386 221,384 231,382 236,381 240,380 245,379 253,378 260,376 265,375 275,373 283,377 288,380 294,380 299,380 305,380 310,380 314,380 323,380 328,364 334,334 340,306 349,264 355,236 365,189 372,156 377,134" stroke="#0068ff" stroke-width="4.3"/><polyline points="191,391 200,389 205,388 214,386 221,385 231,383 236,382 240,381 245,380 253,379 260,377 265,376 275,374 283,379 288,381 294,381 299,381 305,381 310,381 314,381 323,381 328,366 334,336 340,308 349,267 355,239 365,192 372,160 377,138" stroke="#005fff" stroke-width="4.3"/><polyline points="191,392 200,390 205,389 214,387 221,386 231,384 236,383 240,382 245,381 253,380 260,378 265,377 275,376 283,380 288,382 294,382 299,382 305,382 310,382 314,382 323,382 328,368 334,338 340,310 349,269 355,242 365,196 372,164 377,142" stroke="#0056ff" stroke-width="4.3"/><polyline points="191,393 200,391 205,390 214,388 221,387 231,385 236,384 240,383 245,382 253,381 260,379 265,378 275,377 283,381 288,383 294,383 299,383 305,383 310,383 314,383 323,383 328,369 334,340 340,313 349,272 355,245 365,199 372,167 377,146" stroke="#004cff" stroke-width="4.3"/><polyline points="191,393 200,392 205,391 214,389 221,388 231,386 236,385 240,384 245,383 253,382 260,380 265,379 275,378 283,382 288,384 294,384 299,385 305,385 310,385 314,385 323,385 328,371 334,342 340,315 349,275 355,248 365,203 372,171 377,150" stroke="#0043ff" stroke-width="4.3"/><polyline points="191,394 200,392 205,392 214,390 221,389 231,387 236,386 240,385 245,384 253,383 260,381 265,381 275,379 283,383 288,386 294,386 299,386 305,386 310,386 314,386 323,386 328,373 334,344 340,317 349,277 355,251 365,206 372,175 377,154" stroke="#0039ff" stroke-width="4.3"/><polyline points="191,395 200,393 205,392 214,391 221,390 231,388 236,387 240,386 245,385 253,384 260,383 265,382 275,381 283,385 288,387 294,387 299,387 305,387 310,387 314,387 323,387 328,374 334,346 340,319 349,280 355,254 365,209 372,178 377,158" stroke="#0030ff" stroke-width="4.3"/><polyline points="191,396 200,394 205,393 214,392 221,390 231,389 236,388 240,387 245,386 253,385 260,384 265,383 275,382 283,386 288,388 294,388 299,388 305,388 310,388 314,388 323,388 328,376 334,348 340,322 349,283 355,257 365,213 372,182 377,162" stroke="#0027ff" stroke-width="4.3"/><polyline points="191,396 200,395 205,394 214,392 221,391 231,390 236,389 240,388 245,387 253,386 260,385 265,384 275,383 283,387 288,389 294,389 299,389 305,389 310,389 314,389 323,389 328,378 334,350 340,324 349,286 355,260 365,216 372,186 377,166" stroke="#001dff" stroke-width="4.3"/><polyline points="191,397 200,396 205,395 214,393 221,392 231,390 236,390 240,389 245,388 253,387 260,386 265,385 275,384 283,388 288,390 294,390 299,390 305,390 310,390 314,390 323,390 328,379 334,352 340,326 349,288 355,263 365,220 372,190 377,169" stroke="#0014ff" stroke-width="4.3"/><polyline points="191,398 200,396 205,396 214,394 221,393 231,391 236,391 240,390 245,389 253,388 260,387 265,386 275,385 283,389 288,391 294,391 299,391 305,391 310,392 314,392 323,392 328,381 334,354 340,329 349,291 355,266 365,223 372,193 377,173" stroke="#030fff" stroke-width="4.3"/><polyline points="191,399 200,397 205,396 214,395 221,394 231,392 236,392 240,391 245,390 253,389 260,388 265,387 275,387 283,390 288,392 294,393 299,393 305,393 310,393 314,393 323,393 328,383 334,356 340,331 349,294 355,269 365,227 372,197 377,177" stroke="#080cff" stroke-width="4.3"/><polyline points="191,399 200,398 205,397 214,396 221,395 231,393 236,393 240,392 245,391 253,390 260,389 265,388 275,388 283,392 288,394 294,394 299,394 305,394 310,394 314,394 323,394 328,384 334,358 340,333 349,297 355,272 365,230 372,201 377,181" stroke="#0c0aff" stroke-width="4.3"/><polyline points="191,400 200,399 205,398 214,397 221,396 231,394 236,393 240,393 245,392 253,391 260,390 265,389 275,389 283,393 288,395 294,395 299,395 305,395 310,395 314,395 323,395 328,386 334,360 340,336 349,299 355,275 365,233 372,205 377,185" stroke="#1108ff" stroke-width="4.3"/><polyline points="191,401 200,400 205,399 214,398 221,397 231,395 236,394 240,394 245,393 253,392 260,391 265,390 275,390 283,394 288,396 294,396 299,396 305,396 310,396 314,396 323,396 328,388 334,362 340,338 349,302 355,278 365,237 372,208 377,189" stroke="#1605ff" stroke-width="4.3"/><polyline points="191,402 200,400 205,400 214,398 221,397 231,396 236,395 240,395 245,394 253,393 260,392 265,391 275,392 283,395 288,397 294,397 299,397 305,397 310,397 314,397 323,397 328,389 334,364 340,340 349,305 355,281 365,240 372,212 377,193" stroke="#1a03ff" stroke-width="4.3"/><polyline points="191,402 200,401 205,400 214,399 221,398 231,397 236,396 240,396 245,395 253,394 260,393 265,392 275,393 283,396 288,398 294,398 299,398 305,398 310,398 314,399 323,399 328,391 334,366 340,342 349,308 355,284 365,244 372,216 377,197" stroke="#1f00ff" stroke-width="4.3"/><polyline points="191,403 200,402 205,401 214,400 221,399 231,398 236,397 240,397 245,396 253,395 260,394 265,394 275,394 283,398 288,399 294,399 299,400 305,400 310,400 314,400 323,400 328,393 334,368 340,345 349,310 355,287 365,247 372,219 377,201" stroke="#2600ff" stroke-width="4.3"/><polyline points="191,404 200,403 205,402 214,401 221,400 231,399 236,398 240,398 245,397 253,396 260,395 265,395 275,395 283,399 288,401 294,401 299,401 305,401 310,401 314,401 323,401 328,394 334,370 340,347 349,313 355,290 365,250 372,223 377,205" stroke="#2e00ff" stroke-width="4.3"/><polyline points="191,405 200,404 205,403 214,402 221,401 231,400 236,399 240,399 245,398 253,397 260,396 265,396 275,396 283,400 288,402 294,402 299,402 305,402 310,402 314,402 323,402 328,396 334,372 340,349 349,316 355,293 365,254 372,227 377,209" stroke="#3500ff" stroke-width="4.3"/><polyline points="191,405 200,404 205,404 214,403 221,402 231,401 236,400 240,400 245,399 253,398 260,397 265,397 275,398 283,401 288,403 294,403 299,403 305,403 310,403 314,403 323,403 328,398 334,374 340,352 349,319 355,296 365,257 372,231 377,213" stroke="#3d00ff" stroke-width="4.3"/><polyline points="191,406 200,405 205,405 214,404 221,403 231,402 236,401 240,401 245,400 253,399 260,398 265,398 275,399 283,402 288,404 294,404 299,404 305,404 310,404 314,404 323,404 328,399 334,376 340,354 349,321 355,299 365,261 372,234 377,216" stroke="#4400ff" stroke-width="4.3"/><polyline points="191,407 200,406 205,405 214,404 221,404 231,403 236,402 240,402 245,401 253,400 260,399 265,399 275,400 283,403 288,405 294,405 299,405 305,405 310,405 314,405 323,406 328,401 334,378 340,356 349,324 355,302 365,264 372,238 377,220" stroke="#4c00ff" stroke-width="4.3"/><polyline points="191,408 200,407 205,406 214,405 221,405 231,404 236,403 240,403 245,402 253,401 260,401 265,400 275,401 283,405 288,406 294,406 299,406 305,407 310,407 314,407 323,407 328,403 334,380 340,358 349,327 355,305 365,268 372,242 377,224" stroke="#5300ff" stroke-width="4.3"/><polyline points="191,408 200,407 205,407 214,406 221,405 231,404 236,404 240,404 245,403 253,402 260,402 265,401 275,402 283,406 288,407 294,408 299,408 305,408 310,408 314,408 323,408 328,404 334,382 340,361 349,329 355,308 365,271 372,245 377,228" stroke="#5b00ff" stroke-width="4.3"/><polyline points="191,409 200,408 205,408 214,407 221,406 231,405 236,405 240,404 245,404 253,403 260,403 265,402 275,404 283,407 288,409 294,409 299,409 305,409 310,409 314,409 323,409 328,406 334,384 340,363 349,332 355,311 365,274 372,249 377,232" stroke="#6100fe" stroke-width="4.3"/><polyline points="191,410 200,409 205,409 214,408 221,407 231,406 236,406 240,405 245,405 253,404 260,404 265,403 275,405 283,408 288,410 294,410 299,410 305,410 310,410 314,410 323,410 328,408 334,386 340,365 349,335 355,314 365,278 372,253 377,236" stroke="#6500f9" stroke-width="4.3"/><polyline points="191,411 200,410 205,409 214,409 221,408 231,407 236,407 240,406 245,406 253,405 260,405 265,404 275,406 283,409 288,411 294,411 299,411 305,411 310,411 314,411 323,411 328,409 334,388 340,368 349,338 355,317 365,281 372,257 377,240" stroke="#6900f5" stroke-width="4.3"/><polyline points="191,411 200,411 205,410 214,410 221,409 231,408 236,408 240,407 245,407 253,406 260,406 265,405 275,407 283,411 288,412 294,412 299,412 305,412 310,412 314,412 323,413 328,411 334,390 340,370 349,340 355,320 365,285 372,260 377,244" stroke="#6d00f0" stroke-width="4.3"/><polyline points="191,412 200,411 205,411 214,410 221,410 231,409 236,409 240,408 245,408 253,407 260,407 265,407 275,409 283,412 288,413 294,413 299,413 305,413 310,414 314,414 323,414 328,413 334,392 340,372 349,343 355,323 365,288 372,264 377,248" stroke="#7000eb" stroke-width="4.3"/><polyline points="191,413 200,412 205,412 214,411 221,411 231,410 236,410 240,409 245,409 253,408 260,408 265,408 275,410 283,413 288,414 294,414 299,415 305,415 310,415 314,415 323,415 328,414 334,394 340,375 349,346 355,326 365,292 372,268 377,252" stroke="#7400e7" stroke-width="4.3"/><polyline points="191,414 200,413 205,413 214,412 221,412 231,411 236,411 240,410 245,410 253,409 260,409 265,409 275,411 283,414 288,415 294,416 299,416 305,416 310,416 314,416 323,416 328,416 334,396 340,377 349,349 355,329 365,295 372,271 377,256" stroke="#7800e2" stroke-width="4.3"/><polyline points="191,414 200,414 205,414 214,413 221,413 231,412 236,412 240,411 245,411 253,411 260,410 265,410 275,412 283,415 288,416 294,417 299,417 305,417 310,417 314,417 323,417 328,417 334,397 340,379 349,351 355,331 365,298 372,275 377,259" stroke="#7a00de" stroke-width="4.3"/><polyline points="191,415 200,415 205,415 214,414 221,414 231,413 236,413 240,412 245,412 253,412 260,411 265,411 275,413 283,416 288,417 294,418 299,418 305,418 310,418 314,418 323,418 328,418 334,399 340,381 349,353 355,334 365,301 372,278 377,263" stroke="#7a00db" stroke-width="4.3"/><polyline points="191,416 200,416 205,415 214,415 221,415 231,414 236,414 240,413 245,413 253,413 260,412 265,412 275,414 283,417 288,418 294,418 299,419 305,419 310,419 314,419 323,419 328,419 334,400 340,382 349,356 355,337 365,304 372,282 377,267" stroke="#7b00d8" stroke-width="4.3"/><polyline points="191,417 200,417 205,416 214,416 221,416 231,415 236,415 240,414 245,414 253,414 260,413 265,413 275,415 283,418 288,419 294,419 299,419 305,420 310,420 314,420 323,420 328,420 334,401 340,384 349,358 355,340 365,308 372,285 377,270" stroke="#7b00d5" stroke-width="4.3"/><polyline points="191,418 200,418 205,417 214,417 221,417 231,416 236,416 240,416 245,415 253,415 260,414 265,414 275,416 283,419 288,420 294,420 299,420 305,420 310,421 314,421 323,421 328,421 334,403 340,386 349,360 355,342 365,311 372,289 377,274" stroke="#7b00d2" stroke-width="4.3"/><polyline points="191,419 200,419 205,418 214,418 221,418 231,417 236,417 240,417 245,416 253,416 260,416 265,415 275,417 283,420 288,421 294,421 299,421 305,421 310,421 314,422 323,422 328,422 334,404 340,388 349,363 355,345 365,314 372,292 377,277" stroke="#7c00cf" stroke-width="4.3"/><polyline points="191,420 200,420 205,419 214,419 221,419 231,418 236,418 240,418 245,417 253,417 260,417 265,416 275,418 283,421 288,422 294,422 299,422 305,422 310,422 314,422 323,423 328,423 334,406 340,389 349,365 355,348 365,317 372,296 377,281" stroke="#7c00cc" stroke-width="4.3"/><polyline points="191,421 200,421 205,420 214,420 221,420 231,419 236,419 240,419 245,418 253,418 260,418 265,418 275,419 283,422 288,423 294,423 299,423 305,423 310,423 314,423 323,424 328,424 334,407 340,391 349,367 355,350 365,320 372,299 377,285" stroke="#7c00c9" stroke-width="4.3"/><polyline points="191,422 200,422 205,421 214,421 221,421 231,420 236,420 240,420 245,420 253,419 260,419 265,419 275,420 283,423 288,424 294,424 299,424 305,424 310,424 314,424 323,424 328,425 334,408 340,393 349,370 355,353 365,323 372,302 377,288" stroke="#7d00c6" stroke-width="4.3"/><polyline points="191,423 200,422 205,422 214,422 221,422 231,421 236,421 240,421 245,421 253,420 260,420 265,420 275,422 283,424 288,425 294,425 299,425 305,425 310,425 314,425 323,425 328,425 334,410 340,395 349,372 355,356 365,326 372,306 377,292" stroke="#7d00c3" stroke-width="4.3"/><polyline points="191,424 200,423 205,423 214,423 221,423 231,422 236,422 240,422 245,422 253,421 260,421 265,421 275,423 283,425 288,426 294,426 299,426 305,426 310,426 314,426 323,426 328,426 334,411 340,396 349,374 355,359 365,330 372,309 377,296" stroke="#7d00c0" stroke-width="4.3"/><polyline points="191,425 200,424 205,424 214,424 221,424 231,423 236,423 240,423 245,423 253,422 260,422 265,422 275,424 283,426 288,427 294,427 299,427 305,427 310,427 314,427 323,427 328,427 334,413 340,398 349,377 355,361 365,333 372,313 377,299" stroke="#7e00bd" stroke-width="4.3"/><polyline points="191,426 200,425 205,425 214,425 221,425 231,424 236,424 240,424 245,424 253,424 260,423 265,423 275,425 283,427 288,428 294,428 299,428 305,428 310,428 314,428 323,428 328,428 334,414 340,400 349,379 355,364 365,336 372,316 377,303" stroke="#7e00ba" stroke-width="4.3"/><polyline points="191,427 200,426 205,426 214,426 221,426 231,425 236,425 240,425 245,425 253,425 260,424 265,424 275,426 283,428 288,428 294,429 299,429 305,429 310,429 314,429 323,429 328,429 334,415 340,402 349,381 355,367 365,339 372,319 377,306" stroke="#7e00b7" stroke-width="4.3"/><polyline points="191,428 200,427 205,427 214,427 221,427 231,426 236,426 240,426 245,426 253,426 260,426 265,425 275,427 283,429 288,429 294,429 299,430 305,430 310,430 314,430 323,430 328,430 334,417 340,404 349,384 355,370 365,342 372,323 377,310" stroke="#7f00b4" stroke-width="4.3"/><polyline points="191,428 200,428 205,428 214,428 221,428 231,427 236,427 240,427 245,427 253,427 260,427 265,426 275,428 283,430 288,430 294,430 299,430 305,431 310,431 314,431 323,431 328,431 334,418 340,405 349,386 355,372 365,345 372,326 377,314" stroke="#7f00b0" stroke-width="4.3"/><polyline points="191,429 200,429 205,429 214,429 221,429 231,428 236,428 240,428 245,428 253,428 260,428 265,428 275,429 283,430 288,431 294,431 299,431 305,431 310,432 314,432 323,432 328,432 334,420 340,407 349,388 355,375 365,348 372,330 377,317" stroke="#7f00ad" stroke-width="4.3"/><polyline points="191,430 200,430 205,430 214,430 221,430 231,429 236,429 240,429 245,429 253,429 260,429 265,429 275,430 283,431 288,432 294,432 299,432 305,432 310,432 314,433 323,433 328,433 334,421 340,409 349,391 355,378 365,351 372,333 377,321" stroke="#8000aa" stroke-width="4.3"/><polyline points="191,431 200,431 205,431 214,431 221,431 231,430 236,430 240,430 245,430 253,430 260,430 265,430 275,431 283,432 288,433 294,433 299,433 305,433 310,433 314,433 323,434 328,434 334,422 340,411 349,393 355,380 365,355 372,336 377,324" stroke="#8000a8" stroke-width="4.3"/><polyline points="191,432 200,432 205,432 214,432 221,432 231,432 236,431 240,431 245,431 253,431 260,431 265,431 275,432 283,433 288,434 294,434 299,434 305,434 310,434 314,434 323,435 328,435 334,424 340,412 349,395 355,383 365,358 372,340 377,328" stroke="#7f00a6" stroke-width="4.3"/><polyline points="191,433 200,433 205,433 214,433 221,433 231,433 236,432 240,432 245,432 253,432 260,432 265,432 275,433 283,434 288,435 294,435 299,435 305,435 310,435 314,435 323,435 328,436 334,425 340,414 349,398 355,386 365,361 372,343 377,332" stroke="#7e00a4" stroke-width="4.3"/><polyline points="191,434 200,434 205,434 214,434 221,434 231,434 236,434 240,433 245,433 253,433 260,433 265,433 275,434 283,435 288,436 294,436 299,436 305,436 310,436 314,436 323,436 328,436 334,427 340,416 349,400 355,389 365,364 372,347 377,335" stroke="#7e00a2" stroke-width="4.3"/><polyline points="191,435 200,435 205,435 214,435 221,435 231,435 236,435 240,435 245,434 253,434 260,434 265,434 275,435 283,436 288,437 294,437 299,437 305,437 310,437 314,437 323,437 328,437 334,428 340,418 349,402 355,391 365,367 372,350 377,339" stroke="#7d00a0" stroke-width="4.3"/><polyline points="191,436 200,436 205,436 214,436 221,436 231,436 236,436 240,436 245,436 253,435 260,435 265,435 275,436 283,437 288,438 294,438 299,438 305,438 310,438 314,438 323,438 328,438 334,429 340,419 349,404 355,394 365,370 372,354 377,342" stroke="#7c009e" stroke-width="4.3"/><polyline points="191,437 200,437 205,437 214,437 221,437 231,437 236,437 240,437 245,437 253,437 260,437 265,436 275,437 283,438 288,439 294,439 299,439 305,439 310,439 314,439 323,439 328,439 334,431 340,421 349,407 355,397 365,373 372,357 377,346" stroke="#7b009c" stroke-width="4.3"/><polyline points="191,438 200,438 205,438 214,438 221,438 231,438 236,438 240,438 245,438 253,438 260,438 265,438 275,438 283,439 288,439 294,440 299,440 305,440 310,440 314,440 323,440 328,440 334,432 340,423 349,409 355,400 365,377 372,360 377,350" stroke="#7b009a" stroke-width="4.3"/><polyline points="191,439 200,439 205,439 214,439 221,439 231,439 236,439 240,439 245,439 253,439 260,439 265,439 275,439 283,440 288,440 294,440 299,441 305,441 310,441 314,441 323,441 328,441 334,434 340,425 349,411 355,402 365,380 372,364 377,353" stroke="#7a0098" stroke-width="4.3"/><polyline points="191,440 200,440 205,440 214,440 221,440 231,440 236,440 240,440 245,440 253,440 260,440 265,440 275,440 283,441 288,441 294,441 299,441 305,442 310,442 314,442 323,442 328,442 334,435 340,426 349,414 355,405 365,383 372,367 377,357" stroke="#790096" stroke-width="4.3"/><polyline points="191,441 200,441 205,441 214,441 221,441 231,441 236,441 240,441 245,441 253,441 260,441 265,441 275,441 283,442 288,442 294,442 299,442 305,442 310,443 314,443 323,443 328,443 334,436 340,428 349,416 355,408 365,386 372,371 377,360" stroke="#780094" stroke-width="4.3"/><polyline points="191,442 200,442 205,442 214,442 221,442 231,442 236,442 240,442 245,442 253,442 260,442 265,442 275,442 283,443 288,443 294,443 299,443 305,443 310,443 314,444 323,444 328,444 334,438 340,430 349,418 355,410 365,389 372,374 377,364" stroke="#780092" stroke-width="4.3"/><polyline points="191,442 200,443 205,443 214,443 221,443 231,443 236,443 240,443 245,443 253,443 260,443 265,443 275,444 283,444 288,444 294,444 299,444 305,444 310,444 314,444 323,445 328,445 334,439 340,432 349,421 355,413 365,392 372,377 377,368" stroke="#770090" stroke-width="4.3"/><polyline points="191,443 200,443 205,444 214,444 221,444 231,444 236,444 240,444 245,444 253,444 260,444 265,444 275,445 283,445 288,445 294,445 299,445 305,445 310,445 314,445 323,446 328,446 334,441 340,434 349,423 355,416 365,395 372,381 377,371" stroke="#76008e" stroke-width="4.3"/><polyline points="191,444 200,444 205,445 214,445 221,445 231,445 236,445 240,445 245,445 253,445 260,445 265,445 275,446 283,446 288,446 294,446 299,446 305,446 310,446 314,446 323,446 328,447 334,442 340,435 349,425 355,419 365,398 372,384 377,375" stroke="#75008c" stroke-width="4.3"/><polyline points="191,445 200,445 205,446 214,446 221,446 231,446 236,446 240,446 245,446 253,446 260,447 265,447 275,447 283,447 288,447 294,447 299,447 305,447 310,448 314,448 323,448 328,448 334,444 340,437 349,428 355,421 365,402 372,388 377,379" stroke="#75008b" stroke-width="4.3"/><polyline points="191,446 200,446 205,447 214,447 221,447 231,447 236,447 240,447 245,448 253,448 260,448 265,448 275,448 283,449 288,449 294,449 299,449 305,449 310,449 314,449 323,450 328,450 334,446 340,439 349,430 355,424 365,405 372,392 377,383" stroke="#75008a" stroke-width="4.3"/><polyline points="191,447 200,447 205,448 214,448 221,448 231,448 236,449 240,449 245,449 253,449 260,449 265,449 275,450 283,450 288,450 294,450 299,451 305,451 310,451 314,451 323,451 328,451 334,448 340,442 349,433 355,427 365,408 372,396 377,387" stroke="#740089" stroke-width="4.3"/><polyline points="191,448 200,448 205,449 214,449 221,449 231,450 236,450 240,450 245,450 253,450 260,451 265,451 275,451 283,452 288,452 294,452 299,452 305,452 310,453 314,453 323,453 328,453 334,450 340,444 349,435 355,430 365,412 372,399 377,391" stroke="#740088" stroke-width="4.3"/><polyline points="191,449 200,449 205,450 214,450 221,450 231,451 236,451 240,451 245,451 253,452 260,452 265,452 275,453 283,453 288,453 294,454 299,454 305,454 310,454 314,454 323,455 328,455 334,451 340,446 349,438 355,432 365,415 372,403 377,395" stroke="#740088" stroke-width="4.3"/><polyline points="191,450 200,450 205,451 214,451 221,451 231,452 236,452 240,452 245,453 253,453 260,453 265,454 275,454 283,455 288,455 294,455 299,455 305,456 310,456 314,456 323,457 328,457 334,453 340,448 349,440 355,435 365,419 372,407 377,399" stroke="#740087" stroke-width="4.3"/><polyline points="191,451 200,451 205,452 214,452 221,453 231,453 236,453 240,454 245,454 253,454 260,455 265,455 275,456 283,456 288,456 294,457 299,457 305,457 310,458 314,458 323,458 328,459 334,455 340,450 349,443 355,438 365,422 372,411 377,403" stroke="#730086" stroke-width="4.3"/><polyline points="191,452 200,452 205,453 214,453 221,454 231,454 236,455 240,455 245,455 253,456 260,456 265,456 275,457 283,458 288,458 294,458 299,459 305,459 310,459 314,460 323,460 328,460 334,457 340,453 349,445 355,441 365,425 372,415 377,408" stroke="#730085" stroke-width="4.3"/><polyline points="191,453 200,453 205,454 214,454 221,455 231,456 236,456 240,456 245,457 253,457 260,458 265,458 275,459 283,459 288,459 294,460 299,460 305,461 310,461 314,461 323,462 328,462 334,459 340,455 349,448 355,443 365,429 372,419 377,412" stroke="#730085" stroke-width="4.3"/><polyline points="191,454 200,454 205,455 214,455 221,456 231,457 236,457 240,457 245,458 253,458 260,459 265,459 275,460 283,461 288,461 294,461 299,462 305,462 310,463 314,463 323,464 328,464 334,461 340,457 349,450 355,446 365,432 372,422 377,416" stroke="#730084" stroke-width="4.3"/><polyline points="191,455 200,455 205,456 214,457 221,457 231,458 236,458 240,459 245,459 253,460 260,460 265,461 275,461 283,462 288,463 294,463 299,463 305,464 310,464 314,465 323,465 328,466 334,463 340,459 349,453 355,449 365,436 372,426 377,420" stroke="#720083" stroke-width="4.3"/><polyline points="191,456 200,456 205,457 214,458 221,458 231,459 236,460 240,460 245,460 253,461 260,462 265,462 275,463 283,464 288,464 294,465 299,465 305,466 310,466 314,466 323,467 328,467 334,465 340,461 349,455 355,452 365,439 372,430 377,424" stroke="#720083" stroke-width="4.3"/><polyline points="191,457 200,457 205,458 214,459 221,459 231,460 236,461 240,461 245,462 253,462 260,463 265,463 275,464 283,465 288,466 294,466 299,467 305,467 310,468 314,468 323,469 328,469 334,467 340,463 349,458 355,454 365,442 372,434 377,428" stroke="#720082" stroke-width="4.3"/><polyline points="191,458 200,458 205,459 214,460 221,460 231,461 236,462 240,462 245,463 253,464 260,464 265,465 275,466 283,467 288,467 294,468 299,468 305,469 310,469 314,470 323,471 328,471 334,469 340,466 349,460 355,457 365,446 372,438 377,432" stroke="#710081" stroke-width="4.3"/><polyline points="191,459 200,459 205,460 214,461 221,462 231,463 236,463 240,464 245,464 253,465 260,466 265,466 275,467 283,468 288,469 294,469 299,470 305,471 310,471 314,471 323,472 328,473 334,471 340,468 349,463 355,460 365,449 372,442 377,436" stroke="#710080" stroke-width="4.3"/><polyline points="191,459 200,460 205,461 214,462 221,463 231,464 236,464 240,465 245,465 253,466 260,467 265,468 275,469 283,470 288,470 294,471 299,471 305,472 310,473 314,473 323,474 328,475 334,473 340,470 349,465 355,462 365,452 372,445 377,441" stroke="#710080" stroke-width="4.3"/><polyline points="191,460 200,461 205,462 214,463 221,464 231,465 236,466 240,466 245,467 253,468 260,468 265,469 275,470 283,471 288,472 294,472 299,473 305,474 310,474 314,475 323,476 328,476 334,475 340,472 349,468 355,465 365,456 372,449 377,445" stroke="#71007f" stroke-width="4.3"/><polyline points="191,461 200,462 205,463 214,464 221,465 231,466 236,467 240,467 245,468 253,469 260,470 265,470 275,472 283,473 288,473 294,474 299,475 305,475 310,476 314,477 323,478 328,478 334,477 340,474 349,471 355,468 365,459 372,453 377,449" stroke="#70007e" stroke-width="4.3"/><polyline points="191,462 200,463 205,464 214,465 221,466 231,467 236,468 240,469 245,469 253,470 260,471 265,472 275,473 283,474 288,475 294,476 299,476 305,477 310,478 314,478 323,479 328,480 334,479 340,476 349,473 355,471 365,463 372,457 377,453" stroke="#70007e" stroke-width="4.3"/><polyline points="191,463 200,464 205,465 214,466 221,467 231,469 236,469 240,470 245,471 253,472 260,473 265,473 275,475 283,476 288,476 294,477 299,478 305,479 310,479 314,480 323,481 328,482 334,481 340,479 349,476 355,473 365,466 372,461 377,457" stroke="#70007d" stroke-width="4.3"/><polyline points="191,464 200,465 205,466 214,467 221,468 231,470 236,471 240,471 245,472 253,473 260,474 265,475 275,476 283,477 288,478 294,479 299,480 305,480 310,481 314,482 323,483 328,484 334,483 340,481 349,478 355,476 365,469 372,464 377,461" stroke="#70007c" stroke-width="4.3"/><polyline points="191,465 200,466 205,467 214,469 221,470 231,471 236,472 240,472 245,473 253,474 260,475 265,476 275,478 283,479 288,480 294,480 299,481 305,482 310,483 314,483 323,485 328,485 334,485 340,483 349,481 355,479 365,473 372,468 377,465" stroke="#6f007b" stroke-width="4.3"/><polyline points="191,466 200,467 205,468 214,470 221,471 231,472 236,473 240,474 245,474 253,476 260,477 265,477 275,479 283,480 288,481 294,482 299,483 305,484 310,484 314,485 323,486 328,487 334,487 340,485 349,483 355,482 365,476 372,472 377,470" stroke="#6f007b" stroke-width="4.3"/><polyline points="191,467 200,468 205,469 214,471 221,472 231,473 236,474 240,475 245,476 253,477 260,478 265,479 275,480 283,482 288,483 294,483 299,484 305,485 310,486 314,487 323,488 328,489 334,489 340,487 349,486 355,484 365,479 372,476 377,474" stroke="#6f007a" stroke-width="4.3"/><polyline points="191,468 200,469 205,470 214,472 221,473 231,475 236,475 240,476 245,477 253,478 260,479 265,480 275,482 283,483 288,484 294,485 299,486 305,487 310,488 314,488 323,490 328,491 334,490 340,490 349,488 355,487 365,483 372,480 377,478" stroke="#6e0079" stroke-width="4.3"/><polyline points="191,469 200,470 205,471 214,473 221,474 231,476 236,477 240,477 245,478 253,480 260,481 265,482 275,483 283,485 288,486 294,487 299,488 305,489 310,489 314,490 323,492 328,492 334,492 340,492 349,491 355,490 365,486 372,484 377,482" stroke="#6e0078" stroke-width="4.3"/><polyline points="191,470 200,471 205,472 214,474 221,475 231,477 236,478 240,479 245,480 253,481 260,482 265,483 275,485 283,486 288,487 294,488 299,489 305,490 310,491 314,492 323,493 328,494 334,494 340,494 349,493 355,493 365,490 372,487 377,486" stroke="#6e0078" stroke-width="4.3"/><polyline points="191,471 200,472 205,473 214,475 221,476 231,478 236,479 240,480 245,481 253,482 260,484 265,484 275,486 283,488 288,489 294,490 299,491 305,492 310,493 314,494 323,495 328,496 334,496 340,496 349,496 355,495 365,493 372,491 377,490" stroke="#6d0077" stroke-width="4.3"/><polyline points="191,472 200,473 205,474 214,476 221,477 231,479 236,480 240,481 245,482 253,484 260,485 265,486 275,488 283,489 288,490 294,491 299,492 305,494 310,494 314,495 323,497 328,498 334,498 340,498 349,498 355,498 365,496 372,495 377,494" stroke="#6d0077" stroke-width="4.3"/><polyline points="191,473 200,474 205,475 214,477 221,479 231,481 236,482 240,482 245,483 253,485 260,486 265,487 275,489 283,491 288,492 294,493 299,494 305,495 310,496 314,497 323,499 328,500 334,500 340,500 349,501 355,501 365,500 372,499 377,498" stroke="#6d0076" stroke-width="4.3"/><polyline points="191,474 200,475 205,477 214,478 221,480 231,482 236,483 240,484 245,485 253,486 260,488 265,489 275,491 283,492 288,493 294,495 299,496 305,497 310,498 314,499 323,501 328,501 334,502 340,503 349,503 355,504 365,503 372,503 377,503" stroke="#6c0076" stroke-width="4.3"/><polyline points="191,475 200,476 205,478 214,479 221,481 231,483 236,484 240,485 245,486 253,488 260,489 265,490 275,492 283,494 288,495 294,496 299,497 305,499 310,500 314,500 323,502 328,503 334,504 340,505 349,506 355,506 365,507 372,507 377,507" stroke="#6c0075" stroke-width="4.3"/><polyline points="191,476 200,477 205,479 214,480 221,482 231,484 236,485 240,486 245,487 253,489 260,490 265,491 275,494 283,495 288,497 294,498 299,499 305,500 310,501 314,502 323,504 328,505 334,506 340,507 349,508 355,509 365,510 372,510 377,511" stroke="#6b0074" stroke-width="4.3"/><polyline points="191,477 200,478 205,480 214,482 221,483 231,485 236,486 240,487 245,489 253,490 260,492 265,493 275,495 283,497 288,498 294,499 299,500 305,502 310,503 314,504 323,506 328,507 334,508 340,509 349,511 355,512 365,513 372,514 377,515" stroke="#6b0074" stroke-width="4.3"/><polyline points="191,477 200,479 205,481 214,483 221,484 231,487 236,488 240,489 245,490 253,492 260,493 265,494 275,497 283,498 288,500 294,501 299,502 305,503 310,505 314,506 323,508 328,509 334,510 340,511 349,513 355,515 365,517 372,518 377,519" stroke="#6b0073" stroke-width="4.3"/></g>
<g clip-path="url(#cp1)" fill="none" stroke="#383838" stroke-width="1.0" opacity="0.7"><polyline points="191.0,414.0 200.0,413.4 205.0,413.1 213.9,412.5 220.7,412.1 230.8,411.4 235.9,411.1 240.2,410.8 245.3,410.5 252.9,410.0 259.7,409.5 264.7,409.2 275.0,411.6 283.4,414.7 288.5,416.0 293.6,416.1 299.0,416.2 305.4,416.4 310.0,416.5 314.3,416.5 323.2,416.7 327.5,416.8 334.0,396.6 340.0,378.0 349.0,350.0 355.0,330.0 365.0,296.7 372.0,273.3 376.7,257.7"/><polyline points="191.0,388.5 200.0,386.5 205.0,385.4 213.9,383.5 220.7,382.0 230.8,379.8 235.9,378.7 240.2,377.8 245.3,376.7 252.9,375.0 259.7,373.5 264.7,372.4 275.0,370.2 283.4,374.4 288.5,377.0 293.6,377.0 299.0,377.0 305.4,377.0 310.0,377.0 314.3,377.0 323.2,377.0 327.5,360.1 334.0,328.8 340.0,300.0 349.0,256.9 355.0,228.2 365.0,180.4 372.0,146.9 376.7,124.4"/><polyline points="191.0,351.9 200.0,349.9 205.0,348.8 213.9,346.8 220.7,345.3 230.8,343.0 235.9,341.9 240.2,340.9 245.3,339.7 252.9,338.0 259.7,336.5 264.7,335.4 275.0,333.1 283.4,331.2 288.5,335.6 293.6,337.2 299.0,337.4 305.4,337.6 310.0,337.8 314.3,337.9 323.2,316.7 327.5,301.2 334.0,278.0 340.0,256.8 349.0,225.0 355.0,203.8 365.0,168.5 372.0,143.8 376.7,127.2"/><polyline points="191.0,316.1 200.0,314.2 205.0,313.1 213.9,311.2 220.7,309.7 230.8,307.5 235.9,306.4 240.2,305.5 245.3,304.4 252.9,302.7 259.7,301.3 264.7,300.2 275.0,297.9 283.4,296.1 288.5,295.0 293.6,295.0 299.0,296.4 305.4,298.1 310.0,299.3 314.3,289.5 323.2,266.4 327.5,254.6 334.0,236.8 340.0,220.4 349.0,195.8 355.0,179.4 365.0,152.0 372.0,132.8 376.7,120.0"/><polyline points="191.0,276.5 200.0,274.8 205.0,273.9 213.9,272.3 220.7,271.1 230.8,269.2 235.9,268.3 240.2,267.5 245.3,266.6 252.9,265.2 259.7,264.0 264.7,263.1 275.0,261.2 283.4,259.6 288.5,258.7 293.6,257.8 299.0,258.4 305.4,260.0 310.0,250.2 314.3,241.0 323.2,219.4 327.5,208.9 334.0,193.1 340.0,178.5 349.0,156.6 355.0,142.0 365.0,117.7 372.0,100.6 376.7,89.2"/><polyline points="191.0,226.9 200.0,227.9 205.0,228.5 213.9,229.6 220.7,230.4 230.8,231.6 235.9,232.2 240.2,232.7 245.3,233.3 252.9,232.4 259.7,230.9 264.7,229.8 275.0,227.5 283.4,225.6 288.5,224.4 293.6,223.3 299.0,222.0 305.4,214.3 310.0,205.0 314.3,196.3 323.2,178.3 327.5,169.6 334.0,156.5 340.0,144.3 349.0,126.2 355.0,114.0 365.0,93.8 372.0,79.7 376.7,70.2"/><polyline points="191.0,189.0 200.0,190.0 205.0,190.6 213.9,191.7 220.7,192.5 230.8,193.7 235.9,194.3 240.2,194.8 245.3,195.4 252.9,196.3 259.7,194.8 264.7,193.8 275.0,191.5 283.4,189.7 288.5,188.6 293.6,187.5 299.0,186.0 305.4,183.8 310.0,182.3 314.3,180.8 323.2,177.8 327.5,176.4 334.0,174.2 340.0,172.1 349.0,169.1 355.0,167.0 365.0,163.6 372.0,161.3 376.7,159.7"/><polyline points="191.0,141.8 200.0,144.1 205.0,145.3 213.9,147.6 220.7,149.3 230.8,151.8 235.9,153.1 240.2,154.1 245.3,155.4 252.9,157.3 259.7,159.0 264.7,157.9 275.0,155.6 283.4,153.7 288.5,152.5 293.6,151.4 299.0,150.2 305.4,148.8 310.0,147.7 314.3,146.8 323.2,144.8 327.5,143.8 334.0,142.3 340.0,141.0 349.0,139.0 355.0,137.6 365.0,135.4 372.0,133.8 376.7,132.8"/><polyline points="191.0,129.5 200.0,128.4 205.0,127.7 213.9,126.6 220.7,125.7 230.8,124.4 235.9,123.7 240.2,123.2 245.3,122.5 252.9,121.5 259.7,120.6 264.7,120.0 275.0,118.7 283.4,117.6 288.5,116.9 293.6,116.3 299.0,115.6 305.4,114.7 310.0,114.1 314.3,113.6 323.2,112.4 327.5,111.9 334.0,111.0 340.0,110.3 349.0,109.1 355.0,108.3 365.0,107.0 372.0,106.1 376.7,105.5"/></g>
<polygon points="281.7,339.7 273.2,375.3 241.0,453.0 263.0,453.0" fill="#8b8b8b"/>
<polyline points="296.6,187.0 291.9,260.0 286.8,452.0" fill="none" stroke="#909090" stroke-width="2.2" stroke-linejoin="round"/>
<polyline points="299.0,222.0 305.4,260.0 310.5,299.4 317.3,338.0 324.0,377.0 327.5,416.8 331.0,452.0" fill="none" stroke="#909090" stroke-width="1.3" stroke-linejoin="round"/>
<polyline points="337.6,312.5 337.6,452.0" fill="none" stroke="#909090" stroke-width="1.3" stroke-linejoin="round"/>
<line x1="50.5" y1="52.7" x2="65.2" y2="411.8" stroke="#000" stroke-width="3" stroke-linecap="square"/>
<line x1="65.2" y1="411.8" x2="347.0" y2="515.3" stroke="#000" stroke-width="3.2" stroke-linecap="square"/>
<line x1="347.0" y1="515.3" x2="572.5" y2="397.5" stroke="#000" stroke-width="3.2" stroke-linecap="square"/>
<line x1="65.2" y1="411.8" x2="58.6" y2="414.3" stroke="#000" stroke-width="2.2"/>
<text transform="matrix(0.871 -0.326 -0.060 0.998 57.2 423.8)" font-family="Liberation Sans" font-size="19" font-weight="bold" font-style="normal" text-anchor="end" fill="#000" dy="0">0.0</text>
<line x1="62.9" y1="354.8" x2="56.2" y2="357.1" stroke="#000" stroke-width="2.2"/>
<text transform="matrix(0.880 -0.300 -0.060 0.998 54.8 366.6)" font-family="Liberation Sans" font-size="19" font-weight="bold" font-style="normal" text-anchor="end" fill="#000" dy="0">0.5</text>
<line x1="60.5" y1="296.7" x2="53.8" y2="298.8" stroke="#000" stroke-width="2.2"/>
<text transform="matrix(0.889 -0.272 -0.060 0.998 52.4 308.2)" font-family="Liberation Sans" font-size="19" font-weight="bold" font-style="normal" text-anchor="end" fill="#000" dy="0">1.0</text>
<line x1="58.1" y1="237.5" x2="51.3" y2="239.4" stroke="#000" stroke-width="2.2"/>
<text transform="matrix(0.898 -0.243 -0.060 0.998 49.9 248.7)" font-family="Liberation Sans" font-size="19" font-weight="bold" font-style="normal" text-anchor="end" fill="#000" dy="0">1.5</text>
<line x1="55.6" y1="177.1" x2="48.8" y2="178.7" stroke="#000" stroke-width="2.2"/>
<text transform="matrix(0.905 -0.213 -0.060 0.998 47.3 188.1)" font-family="Liberation Sans" font-size="19" font-weight="bold" font-style="normal" text-anchor="end" fill="#000" dy="0">2.0</text>
<line x1="53.1" y1="115.5" x2="46.2" y2="116.9" stroke="#000" stroke-width="2.2"/>
<text transform="matrix(0.912 -0.181 -0.060 0.998 44.7 126.2)" font-family="Liberation Sans" font-size="19" font-weight="bold" font-style="normal" text-anchor="end" fill="#000" dy="0">2.5</text>
<line x1="50.5" y1="52.7" x2="43.6" y2="53.8" stroke="#000" stroke-width="2.2"/>
<text transform="matrix(0.918 -0.149 -0.060 0.998 42.1 63.1)" font-family="Liberation Sans" font-size="19" font-weight="bold" font-style="normal" text-anchor="end" fill="#000" dy="0">3.0</text>
<line x1="92.4" y1="421.8" x2="85.9" y2="424.3" stroke="#000" stroke-width="2.2"/>
<text transform="matrix(1.213 -0.468 0.892 0.328 74.7 428.6)" font-family="Liberation Sans" font-size="15" font-weight="bold" font-style="normal" text-anchor="middle" fill="#000" dy="5">-12</text>
<line x1="122.9" y1="431.2" x2="118.3" y2="433.1" stroke="#000" stroke-width="2.2"/>
<line x1="149.7" y1="442.8" x2="143.2" y2="445.5" stroke="#000" stroke-width="2.2"/>
<text transform="matrix(1.202 -0.496 0.892 0.328 132.1 450.1)" font-family="Liberation Sans" font-size="15" font-weight="bold" font-style="normal" text-anchor="middle" fill="#000" dy="5">-10</text>
<line x1="182.0" y1="452.9" x2="177.4" y2="454.9" stroke="#000" stroke-width="2.2"/>
<line x1="210.9" y1="465.3" x2="204.5" y2="468.1" stroke="#000" stroke-width="2.2"/>
<text transform="matrix(1.188 -0.528 0.892 0.328 193.5 473.0)" font-family="Liberation Sans" font-size="15" font-weight="bold" font-style="normal" text-anchor="middle" fill="#000" dy="5">-8</text>
<line x1="245.4" y1="476.1" x2="240.8" y2="478.2" stroke="#000" stroke-width="2.2"/>
<line x1="276.5" y1="489.4" x2="270.2" y2="492.4" stroke="#000" stroke-width="2.2"/>
<text transform="matrix(1.172 -0.563 0.892 0.328 259.3 497.6)" font-family="Liberation Sans" font-size="15" font-weight="bold" font-style="normal" text-anchor="middle" fill="#000" dy="5">-6</text>
<line x1="313.3" y1="501.0" x2="308.9" y2="503.2" stroke="#000" stroke-width="2.2"/>
<line x1="347.0" y1="515.3" x2="340.8" y2="518.5" stroke="#000" stroke-width="2.2"/>
<text transform="matrix(1.152 -0.602 0.892 0.328 330.2 524.1)" font-family="Liberation Sans" font-size="15" font-weight="bold" font-style="normal" text-anchor="middle" fill="#000" dy="5">-4</text>
<line x1="345.6" y1="514.8" x2="353.6" y2="517.7" stroke="#000" stroke-width="2.2"/>
<text transform="matrix(1.361 0.500 -0.753 0.394 355.6 520.8)" font-family="Liberation Sans" font-size="14" font-weight="bold" font-style="normal" text-anchor="start" fill="#000" dy="0">0.0000</text>
<line x1="371.0" y1="500.7" x2="375.7" y2="502.4" stroke="#000" stroke-width="2.2"/>
<line x1="397.3" y1="487.8" x2="405.3" y2="490.6" stroke="#000" stroke-width="2.2"/>
<text transform="matrix(1.321 0.455 -0.753 0.394 407.4 493.6)" font-family="Liberation Sans" font-size="14" font-weight="bold" font-style="normal" text-anchor="start" fill="#000" dy="0">0.0002</text>
<line x1="420.8" y1="474.7" x2="425.6" y2="476.3" stroke="#000" stroke-width="2.2"/>
<line x1="445.4" y1="462.7" x2="453.4" y2="465.3" stroke="#000" stroke-width="2.2"/>
<text transform="matrix(1.282 0.416 -0.753 0.394 455.5 468.3)" font-family="Liberation Sans" font-size="14" font-weight="bold" font-style="normal" text-anchor="start" fill="#000" dy="0">0.0004</text>
<line x1="467.2" y1="450.5" x2="471.9" y2="452.0" stroke="#000" stroke-width="2.2"/>
<line x1="490.1" y1="439.3" x2="498.2" y2="441.8" stroke="#000" stroke-width="2.2"/>
<text transform="matrix(1.245 0.381 -0.753 0.394 500.4 444.7)" font-family="Liberation Sans" font-size="14" font-weight="bold" font-style="normal" text-anchor="start" fill="#000" dy="0">0.0006</text>
<line x1="510.4" y1="428.0" x2="515.2" y2="429.4" stroke="#000" stroke-width="2.2"/>
<line x1="531.9" y1="417.5" x2="540.1" y2="419.9" stroke="#000" stroke-width="2.2"/>
<text transform="matrix(1.209 0.351 -0.753 0.394 542.2 422.7)" font-family="Liberation Sans" font-size="14" font-weight="bold" font-style="normal" text-anchor="start" fill="#000" dy="0">0.0008</text>
<line x1="550.8" y1="406.9" x2="555.7" y2="408.2" stroke="#000" stroke-width="2.2"/>
<line x1="571.1" y1="397.1" x2="579.2" y2="399.4" stroke="#000" stroke-width="2.2"/>
<text transform="matrix(1.175 0.324 -0.753 0.394 581.4 402.1)" font-family="Liberation Sans" font-size="14" font-weight="bold" font-style="normal" text-anchor="start" fill="#000" dy="0">0.0010</text>
<rect x="614.5" y="33.2" width="33.5" height="342.3" fill="#fff" stroke="#000" stroke-width="1.6"/>
<rect x="614.5" y="35.9" width="33.5" height="335.70000000000005" fill="url(#acb)"/>
<rect x="614.5" y="371.6" width="33.5" height="3.8999999999999773" fill="#000"/>
<rect x="614.5" y="33.2" width="33.5" height="342.3" fill="none" stroke="#222" stroke-width="1.6"/>
<line x1="648.0" y1="35.9" x2="656.0" y2="35.9" stroke="#000" stroke-width="1.6"/>
<text x="661.5" y="40.9" font-family="Liberation Sans" font-size="14" font-weight="bold">2.840</text>
<line x1="648.0" y1="69.5" x2="656.0" y2="69.5" stroke="#000" stroke-width="1.6"/>
<text x="661.5" y="74.5" font-family="Liberation Sans" font-size="14" font-weight="bold">2.556</text>
<line x1="648.0" y1="103.0" x2="656.0" y2="103.0" stroke="#000" stroke-width="1.6"/>
<text x="661.5" y="108.0" font-family="Liberation Sans" font-size="14" font-weight="bold">2.272</text>
<line x1="648.0" y1="136.6" x2="656.0" y2="136.6" stroke="#000" stroke-width="1.6"/>
<text x="661.5" y="141.6" font-family="Liberation Sans" font-size="14" font-weight="bold">1.988</text>
<line x1="648.0" y1="170.2" x2="656.0" y2="170.2" stroke="#000" stroke-width="1.6"/>
<text x="661.5" y="175.2" font-family="Liberation Sans" font-size="14" font-weight="bold">1.704</text>
<line x1="648.0" y1="203.8" x2="656.0" y2="203.8" stroke="#000" stroke-width="1.6"/>
<text x="661.5" y="208.8" font-family="Liberation Sans" font-size="14" font-weight="bold">1.420</text>
<line x1="648.0" y1="237.3" x2="656.0" y2="237.3" stroke="#000" stroke-width="1.6"/>
<text x="661.5" y="242.3" font-family="Liberation Sans" font-size="14" font-weight="bold">1.136</text>
<line x1="648.0" y1="270.9" x2="656.0" y2="270.9" stroke="#000" stroke-width="1.6"/>
<text x="661.5" y="275.9" font-family="Liberation Sans" font-size="14" font-weight="bold">0.8520</text>
<line x1="648.0" y1="304.5" x2="656.0" y2="304.5" stroke="#000" stroke-width="1.6"/>
<text x="661.5" y="309.5" font-family="Liberation Sans" font-size="14" font-weight="bold">0.5680</text>
<line x1="648.0" y1="338.0" x2="656.0" y2="338.0" stroke="#000" stroke-width="1.6"/>
<text x="661.5" y="343.0" font-family="Liberation Sans" font-size="14" font-weight="bold">0.2840</text>
<line x1="648.0" y1="371.6" x2="656.0" y2="371.6" stroke="#000" stroke-width="1.6"/>
<text x="661.5" y="376.6" font-family="Liberation Sans" font-size="14" font-weight="bold">0.000</text>
<text x="558.8" y="17.6" font-family="Liberation Sans" font-size="22.5" font-weight="bold">Color map ZT</text>
<text transform="translate(11.7,250) rotate(87.9) scale(1.13,1)" font-family="Liberation Sans" font-size="19" font-weight="bold" text-anchor="middle" dominant-baseline="central">Electronic ZT</text>
<text x="309.5" y="570.5" font-family="Liberation Sans" font-size="22" font-weight="bold" text-anchor="middle">(a)</text>
<text transform="matrix(1.050 0.391 -0.784 0.442 149.0 486.8)" font-family="Liberation Sans" font-size="16" font-weight="bold" font-style="normal" text-anchor="middle" fill="#000" dy="0">Fermi level (eV)</text>
<text transform="matrix(0.834 -0.455 0.751 0.661 558.0 485.2)" font-family="Liberation Sans" font-size="16" font-weight="bold" font-style="normal" text-anchor="middle" fill="#000" dy="0">Power factor (W/K2 m)</text>
<line x1="902.9" y1="392.9" x2="892.9" y2="44.3" stroke="#d4d4d4" stroke-width="1"/>
<line x1="901.8" y1="393.4" x2="1183.3" y2="491.8" stroke="#d4d4d4" stroke-width="1"/>
<line x1="948.4" y1="375.0" x2="942.1" y2="36.4" stroke="#d4d4d4" stroke-width="1"/>
<line x1="946.8" y1="375.6" x2="1227.0" y2="468.7" stroke="#d4d4d4" stroke-width="1"/>
<line x1="991.3" y1="358.1" x2="988.1" y2="29.0" stroke="#d4d4d4" stroke-width="1"/>
<line x1="989.6" y1="358.8" x2="1268.2" y2="446.8" stroke="#d4d4d4" stroke-width="1"/>
<line x1="1031.6" y1="342.2" x2="1031.4" y2="22.1" stroke="#d4d4d4" stroke-width="1"/>
<line x1="1030.3" y1="342.7" x2="1307.3" y2="426.1" stroke="#d4d4d4" stroke-width="1"/>
<line x1="1069.7" y1="327.2" x2="1072.1" y2="15.6" stroke="#d4d4d4" stroke-width="1"/>
<line x1="1069.2" y1="327.4" x2="1344.2" y2="406.4" stroke="#d4d4d4" stroke-width="1"/>
<line x1="851.5" y1="336.8" x2="1088.7" y2="255.0" stroke="#d4d4d4" stroke-width="1"/>
<line x1="1088.8" y1="253.1" x2="1364.8" y2="320.9" stroke="#d4d4d4" stroke-width="1"/>
<line x1="848.5" y1="259.0" x2="1089.5" y2="188.2" stroke="#d4d4d4" stroke-width="1"/>
<line x1="1089.5" y1="185.4" x2="1367.5" y2="243.8" stroke="#d4d4d4" stroke-width="1"/>
<line x1="845.3" y1="178.6" x2="1090.3" y2="119.4" stroke="#d4d4d4" stroke-width="1"/>
<line x1="1090.3" y1="116.9" x2="1370.4" y2="165.6" stroke="#d4d4d4" stroke-width="1"/>
<line x1="842.0" y1="95.4" x2="1091.1" y2="48.7" stroke="#d4d4d4" stroke-width="1"/>
<line x1="1091.1" y1="47.5" x2="1373.2" y2="86.3" stroke="#d4d4d4" stroke-width="1"/>
<line x1="1115.0" y1="327.6" x2="1119.3" y2="15.8" stroke="#d4d4d4" stroke-width="1"/>
<line x1="882.0" y1="422.2" x2="1115.2" y2="327.6" stroke="#d4d4d4" stroke-width="1"/>
<line x1="1171.3" y1="343.4" x2="1177.4" y2="22.7" stroke="#d4d4d4" stroke-width="1"/>
<line x1="939.7" y1="443.5" x2="1171.7" y2="343.5" stroke="#d4d4d4" stroke-width="1"/>
<line x1="1231.1" y1="360.2" x2="1239.1" y2="30.1" stroke="#d4d4d4" stroke-width="1"/>
<line x1="1001.1" y1="466.2" x2="1231.5" y2="360.3" stroke="#d4d4d4" stroke-width="1"/>
<line x1="1294.5" y1="378.0" x2="1304.7" y2="37.9" stroke="#d4d4d4" stroke-width="1"/>
<line x1="1066.7" y1="490.4" x2="1294.9" y2="378.1" stroke="#d4d4d4" stroke-width="1"/>
<line x1="840.3" y1="52.7" x2="1091.5" y2="12.5" stroke="#555" stroke-width="1.1"/>
<line x1="1091.5" y1="12.5" x2="1374.7" y2="46.2" stroke="#555" stroke-width="1.1"/>
<line x1="1374.7" y1="46.2" x2="1362.0" y2="397.0" stroke="#555" stroke-width="1.1"/>
<line x1="1091.5" y1="12.5" x2="1088.0" y2="320.0" stroke="#555" stroke-width="1.1"/>
<line x1="854.5" y1="412.0" x2="1088.0" y2="320.0" stroke="#555" stroke-width="1.1"/>
<line x1="1088.0" y1="320.0" x2="1362.0" y2="397.0" stroke="#555" stroke-width="1.1"/>
<polygon points="855.0,413.2 1007.6,347.8 1012.0,400.0 988.8,458.3 988.8,461.6" fill="url(#zg1)"/>
<polyline points="857.0,413.0 1005.0,348.5" fill="none" stroke="#a070d0" stroke-width="1.2" stroke-linejoin="round"/>
<polyline points="888.0,417.7 1002.5,361.8" fill="none" stroke="#9c9c9c" stroke-width="1.5" stroke-linejoin="round"/>
<polygon points="889.0,419.5 991.0,402.0 991.0,405.5 898.3,425.3" fill="#6e0088"/>
<polygon points="857.0,413.0 888.0,417.7 898.3,425.3 991.0,405.5 996.0,410.0 988.8,461.6 870.0,418.0" fill="#8b8b8b"/>
<polygon points="939.0,431.7 975.8,430.4 956.7,446.9" fill="#6a006e"/>
<polygon points="905.0,426.0 960.0,428.0 925.0,433.0" fill="#7a5a8a"/>
<polygon points="987.6,455.0 1022.0,457.0 1089.3,467.0 1111.0,495.0 1144.0,503.0 1137.0,516.4 988.0,461.6" fill="#8b8b8b"/>
<polygon points="987.6,459.5 1022.0,461.4 1051.2,474.0 1069.0,488.0 1000.0,463.0" fill="#6a006e"/>
<g clip-path="url(#cp2)" fill="none" stroke-linejoin="round"><polyline points="983,62 991,61 1007,58 1012,57 1022,56 1035,54 1041,53 1047,52 1055,50 1060,49 1065,48 1079,46 1092,44 1098,43 1102,42 1106,42 1118,40 1126,38 1135,37 1149,34 1154,33 1162,32 1174,30 1178,30 1183,29 1196,26" stroke="#580000" stroke-width="4.2"/><polyline points="983,65 991,64 1007,61 1012,60 1022,59 1035,56 1041,55 1047,54 1055,53 1060,52 1065,51 1079,49 1092,47 1098,45 1102,45 1106,44 1118,42 1126,41 1135,39 1149,37 1154,36 1162,35 1174,33 1178,32 1183,31 1196,29" stroke="#5c0000" stroke-width="4.2"/><polyline points="983,68 991,67 1007,64 1012,63 1022,61 1035,59 1041,58 1047,57 1055,56 1060,55 1065,54 1079,51 1092,49 1098,48 1102,47 1106,47 1118,45 1126,43 1135,42 1149,39 1154,38 1162,37 1174,35 1178,34 1183,34 1196,31" stroke="#5f0000" stroke-width="4.2"/><polyline points="983,71 991,70 1007,67 1012,66 1022,64 1035,62 1041,61 1047,60 1055,58 1060,57 1065,56 1079,54 1092,52 1098,51 1102,50 1106,49 1118,47 1126,46 1135,44 1149,42 1154,41 1162,40 1174,38 1178,37 1183,36 1196,34" stroke="#630000" stroke-width="4.2"/><polyline points="983,74 991,73 1007,70 1012,69 1022,67 1035,65 1041,64 1047,62 1055,61 1060,60 1065,59 1079,57 1092,54 1098,53 1102,52 1106,52 1118,50 1126,48 1135,47 1149,44 1154,43 1162,42 1174,40 1178,39 1183,38 1196,36" stroke="#670000" stroke-width="4.2"/><polyline points="983,77 991,76 1007,72 1012,72 1022,70 1035,67 1041,66 1047,65 1055,64 1060,63 1065,62 1079,59 1092,57 1098,56 1102,55 1106,54 1118,52 1126,51 1135,49 1149,47 1154,46 1162,45 1174,43 1178,42 1183,41 1196,38" stroke="#6b0000" stroke-width="4.2"/><polyline points="983,80 991,79 1007,75 1012,74 1022,73 1035,70 1041,69 1047,68 1055,66 1060,65 1065,64 1079,62 1092,59 1098,58 1102,58 1106,57 1118,55 1126,53 1135,52 1149,49 1154,48 1162,47 1174,45 1178,44 1183,43 1196,41" stroke="#6f0000" stroke-width="4.2"/><polyline points="983,83 991,81 1007,78 1012,77 1022,75 1035,73 1041,72 1047,71 1055,69 1060,68 1065,67 1079,64 1092,62 1098,61 1102,60 1106,59 1118,57 1126,56 1135,54 1149,52 1154,51 1162,50 1174,47 1178,47 1183,46 1196,43" stroke="#720000" stroke-width="4.2"/><polyline points="983,86 991,84 1007,81 1012,80 1022,78 1035,76 1041,74 1047,73 1055,72 1060,71 1065,70 1079,67 1092,64 1098,63 1102,63 1106,62 1118,60 1126,58 1135,57 1149,54 1154,53 1162,52 1174,50 1178,49 1183,48 1196,46" stroke="#760000" stroke-width="4.2"/><polyline points="983,89 991,87 1007,84 1012,83 1022,81 1035,78 1041,77 1047,76 1055,74 1060,73 1065,72 1079,70 1092,67 1098,66 1102,65 1106,64 1118,62 1126,61 1135,59 1149,57 1154,56 1162,54 1174,52 1178,51 1183,51 1196,48" stroke="#7a0000" stroke-width="4.2"/><polyline points="983,92 991,90 1007,87 1012,86 1022,84 1035,81 1041,80 1047,79 1055,77 1060,76 1065,75 1079,72 1092,70 1098,68 1102,68 1106,67 1118,65 1126,63 1135,62 1149,59 1154,58 1162,57 1174,55 1178,54 1183,53 1196,51" stroke="#7e0000" stroke-width="4.2"/><polyline points="983,95 991,93 1007,90 1012,89 1022,87 1035,84 1041,83 1047,81 1055,80 1060,79 1065,78 1079,75 1092,72 1098,71 1102,70 1106,70 1118,67 1126,66 1135,64 1149,62 1154,61 1162,59 1174,57 1178,56 1183,55 1196,53" stroke="#820000" stroke-width="4.2"/><polyline points="983,98 991,96 1007,93 1012,92 1022,90 1035,87 1041,85 1047,84 1055,83 1060,81 1065,80 1079,78 1092,75 1098,74 1102,73 1106,72 1118,70 1126,68 1135,67 1149,64 1154,63 1162,62 1174,60 1178,59 1183,58 1196,55" stroke="#860000" stroke-width="4.2"/><polyline points="983,101 991,99 1007,95 1012,94 1022,92 1035,89 1041,88 1047,87 1055,85 1060,84 1065,83 1079,80 1092,77 1098,76 1102,75 1106,75 1118,72 1126,71 1135,69 1149,67 1154,66 1162,64 1174,62 1178,61 1183,60 1196,58" stroke="#8a0000" stroke-width="4.2"/><polyline points="983,104 991,102 1007,98 1012,97 1022,95 1035,92 1041,91 1047,90 1055,88 1060,87 1065,86 1079,83 1092,80 1098,79 1102,78 1106,77 1118,75 1126,73 1135,72 1149,69 1154,68 1162,67 1174,64 1178,64 1183,63 1196,60" stroke="#8e0000" stroke-width="4.2"/><polyline points="983,107 991,105 1007,101 1012,100 1022,98 1035,95 1041,94 1047,92 1055,91 1060,89 1065,88 1079,85 1092,82 1098,81 1102,80 1106,80 1118,77 1126,76 1135,74 1149,72 1154,71 1162,69 1174,67 1178,66 1183,65 1196,63" stroke="#920000" stroke-width="4.2"/><polyline points="983,109 991,108 1007,104 1012,103 1022,101 1035,98 1041,96 1047,95 1055,93 1060,92 1065,91 1079,88 1092,85 1098,84 1102,83 1106,82 1118,80 1126,78 1135,77 1149,74 1154,73 1162,72 1174,69 1178,68 1183,68 1196,65" stroke="#960000" stroke-width="4.2"/><polyline points="983,112 991,111 1007,107 1012,106 1022,104 1035,101 1041,99 1047,98 1055,96 1060,95 1065,94 1079,91 1092,88 1098,86 1102,86 1106,85 1118,82 1126,81 1135,79 1149,77 1154,75 1162,74 1174,72 1178,71 1183,70 1196,67" stroke="#9a0000" stroke-width="4.2"/><polyline points="983,115 991,113 1007,110 1012,109 1022,106 1035,103 1041,102 1047,100 1055,99 1060,97 1065,96 1079,93 1092,90 1098,89 1102,88 1106,87 1118,85 1126,83 1135,82 1149,79 1154,78 1162,76 1174,74 1178,73 1183,72 1196,70" stroke="#9f0000" stroke-width="4.2"/><polyline points="983,118 991,116 1007,112 1012,111 1022,109 1035,106 1041,105 1047,103 1055,101 1060,100 1065,99 1079,96 1092,93 1098,91 1102,91 1106,90 1118,87 1126,86 1135,84 1149,81 1154,80 1162,79 1174,76 1178,75 1183,74 1196,72" stroke="#a50000" stroke-width="4.2"/><polyline points="983,121 991,119 1007,115 1012,114 1022,112 1035,109 1041,107 1047,106 1055,104 1060,103 1065,102 1079,98 1092,95 1098,94 1102,93 1106,92 1118,90 1126,88 1135,87 1149,84 1154,82 1162,81 1174,78 1178,77 1183,76 1196,74" stroke="#ab0000" stroke-width="4.2"/><polyline points="983,124 991,122 1007,118 1012,117 1022,115 1035,111 1041,110 1047,109 1055,107 1060,106 1065,104 1079,101 1092,98 1098,97 1102,96 1106,95 1118,92 1126,91 1135,89 1149,86 1154,85 1162,83 1174,81 1178,80 1183,79 1196,76" stroke="#b10000" stroke-width="4.2"/><polyline points="983,127 991,125 1007,121 1012,120 1022,117 1035,114 1041,113 1047,111 1055,109 1060,108 1065,107 1079,104 1092,101 1098,99 1102,98 1106,98 1118,95 1126,93 1135,91 1149,88 1154,87 1162,85 1174,83 1178,82 1183,81 1196,78" stroke="#b60000" stroke-width="4.2"/><polyline points="983,130 991,128 1007,124 1012,122 1022,120 1035,117 1041,115 1047,114 1055,112 1060,111 1065,110 1079,106 1092,103 1098,102 1102,101 1106,100 1118,97 1126,96 1135,94 1149,90 1154,89 1162,88 1174,85 1178,84 1183,83 1196,80" stroke="#bc0000" stroke-width="4.2"/><polyline points="983,132 991,130 1007,126 1012,125 1022,123 1035,120 1041,118 1047,117 1055,115 1060,114 1065,112 1079,109 1092,106 1098,104 1102,103 1106,103 1118,100 1126,98 1135,96 1149,93 1154,91 1162,90 1174,87 1178,86 1183,85 1196,82" stroke="#c20000" stroke-width="4.2"/><polyline points="983,135 991,133 1007,129 1012,128 1022,126 1035,122 1041,121 1047,119 1055,117 1060,116 1065,115 1079,112 1092,108 1098,107 1102,106 1106,105 1118,102 1126,100 1135,98 1149,95 1154,94 1162,92 1174,89 1178,88 1183,87 1196,84" stroke="#c80000" stroke-width="4.2"/><polyline points="983,138 991,136 1007,132 1012,131 1022,128 1035,125 1041,124 1047,122 1055,120 1060,119 1065,118 1079,114 1092,111 1098,110 1102,109 1106,108 1118,105 1126,103 1135,101 1149,97 1154,96 1162,94 1174,91 1178,90 1183,89 1196,86" stroke="#cd0000" stroke-width="4.2"/><polyline points="983,141 991,139 1007,135 1012,134 1022,131 1035,128 1041,126 1047,125 1055,123 1060,122 1065,120 1079,117 1092,114 1098,112 1102,111 1106,110 1118,107 1126,105 1135,103 1149,100 1154,98 1162,97 1174,94 1178,93 1183,91 1196,88" stroke="#d20000" stroke-width="4.2"/><polyline points="983,144 991,142 1007,138 1012,136 1022,134 1035,131 1041,129 1047,128 1055,126 1060,124 1065,123 1079,120 1092,116 1098,115 1102,114 1106,113 1118,110 1126,108 1135,106 1149,102 1154,101 1162,99 1174,96 1178,95 1183,93 1196,90" stroke="#d70000" stroke-width="4.2"/><polyline points="983,147 991,145 1007,140 1012,139 1022,137 1035,133 1041,132 1047,130 1055,128 1060,127 1065,126 1079,122 1092,119 1098,117 1102,116 1106,115 1118,112 1126,110 1135,108 1149,104 1154,103 1162,101 1174,98 1178,97 1183,96 1196,92" stroke="#dc0000" stroke-width="4.2"/><polyline points="983,149 991,147 1007,143 1012,142 1022,139 1035,136 1041,135 1047,133 1055,131 1060,130 1065,128 1079,125 1092,121 1098,120 1102,119 1106,118 1118,115 1126,113 1135,110 1149,107 1154,105 1162,103 1174,100 1178,99 1183,98 1196,94" stroke="#e10000" stroke-width="4.2"/><polyline points="983,152 991,150 1007,146 1012,145 1022,142 1035,139 1041,137 1047,136 1055,134 1060,132 1065,131 1079,128 1092,124 1098,122 1102,121 1106,120 1118,117 1126,115 1135,113 1149,109 1154,107 1162,106 1174,102 1178,101 1183,100 1196,96" stroke="#e60000" stroke-width="4.2"/><polyline points="983,155 991,153 1007,149 1012,147 1022,145 1035,142 1041,140 1047,138 1055,136 1060,135 1065,134 1079,130 1092,127 1098,125 1102,124 1106,123 1118,120 1126,117 1135,115 1149,111 1154,110 1162,108 1174,105 1178,103 1183,102 1196,98" stroke="#eb0000" stroke-width="4.2"/><polyline points="983,158 991,156 1007,152 1012,150 1022,148 1035,144 1041,143 1047,141 1055,139 1060,138 1065,136 1079,133 1092,129 1098,128 1102,127 1106,125 1118,122 1126,120 1135,118 1149,114 1154,112 1162,110 1174,107 1178,106 1183,104 1196,101" stroke="#ef0000" stroke-width="4.3"/><polyline points="983,161 991,159 1007,154 1012,153 1022,151 1035,147 1041,145 1047,144 1055,142 1060,140 1065,139 1079,135 1092,132 1098,130 1102,129 1106,128 1118,125 1126,122 1135,120 1149,116 1154,115 1162,113 1174,109 1178,108 1183,107 1196,103" stroke="#f00000" stroke-width="4.3"/><polyline points="983,164 991,162 1007,157 1012,156 1022,154 1035,150 1041,148 1047,147 1055,144 1060,143 1065,142 1079,138 1092,134 1098,133 1102,132 1106,131 1118,127 1126,125 1135,123 1149,119 1154,117 1162,115 1174,112 1178,111 1183,109 1196,106" stroke="#f10000" stroke-width="4.3"/><polyline points="983,167 991,165 1007,160 1012,159 1022,156 1035,153 1041,151 1047,149 1055,147 1060,146 1065,144 1079,141 1092,137 1098,135 1102,134 1106,133 1118,130 1126,128 1135,125 1149,121 1154,120 1162,118 1174,114 1178,113 1183,112 1196,108" stroke="#f20000" stroke-width="4.3"/><polyline points="983,170 991,168 1007,163 1012,162 1022,159 1035,156 1041,154 1047,152 1055,150 1060,149 1065,147 1079,143 1092,140 1098,138 1102,137 1106,136 1118,132 1126,130 1135,128 1149,124 1154,122 1162,120 1174,117 1178,116 1183,114 1196,111" stroke="#f30000" stroke-width="4.3"/><polyline points="983,173 991,171 1007,166 1012,165 1022,162 1035,158 1041,157 1047,155 1055,153 1060,151 1065,150 1079,146 1092,142 1098,140 1102,139 1106,138 1118,135 1126,133 1135,130 1149,126 1154,125 1162,123 1174,119 1178,118 1183,117 1196,113" stroke="#f40000" stroke-width="4.3"/><polyline points="983,176 991,174 1007,169 1012,168 1022,165 1035,161 1041,159 1047,158 1055,155 1060,154 1065,152 1079,149 1092,145 1098,143 1102,142 1106,141 1118,137 1126,135 1135,133 1149,129 1154,127 1162,125 1174,122 1178,121 1183,119 1196,116" stroke="#f50000" stroke-width="4.3"/><polyline points="983,179 991,177 1007,172 1012,171 1022,168 1035,164 1041,162 1047,160 1055,158 1060,157 1065,155 1079,151 1092,147 1098,145 1102,144 1106,143 1118,140 1126,138 1135,135 1149,131 1154,130 1162,128 1174,125 1178,123 1183,122 1196,118" stroke="#f60000" stroke-width="4.3"/><polyline points="983,182 991,180 1007,175 1012,174 1022,171 1035,167 1041,165 1047,163 1055,161 1060,159 1065,158 1079,154 1092,150 1098,148 1102,147 1106,146 1118,142 1126,140 1135,138 1149,134 1154,132 1162,130 1174,127 1178,126 1183,124 1196,121" stroke="#f70000" stroke-width="4.3"/><polyline points="983,185 991,183 1007,178 1012,176 1022,174 1035,170 1041,168 1047,166 1055,164 1060,162 1065,160 1079,156 1092,152 1098,151 1102,149 1106,148 1118,145 1126,143 1135,140 1149,136 1154,135 1162,133 1174,130 1178,128 1183,127 1196,123" stroke="#f80000" stroke-width="4.3"/><polyline points="983,188 991,186 1007,181 1012,179 1022,176 1035,172 1041,171 1047,169 1055,166 1060,165 1065,163 1079,159 1092,155 1098,153 1102,152 1106,151 1118,147 1126,145 1135,143 1149,139 1154,137 1162,135 1174,132 1178,131 1183,129 1196,126" stroke="#fa0000" stroke-width="4.3"/><polyline points="983,191 991,189 1007,184 1012,182 1022,179 1035,175 1041,173 1047,171 1055,169 1060,167 1065,166 1079,162 1092,158 1098,156 1102,155 1106,153 1118,150 1126,148 1135,145 1149,141 1154,140 1162,138 1174,135 1178,133 1183,132 1196,128" stroke="#fb0000" stroke-width="4.3"/><polyline points="983,194 991,192 1007,187 1012,185 1022,182 1035,178 1041,176 1047,174 1055,172 1060,170 1065,168 1079,164 1092,160 1098,158 1102,157 1106,156 1118,153 1126,150 1135,148 1149,144 1154,142 1162,140 1174,137 1178,136 1183,134 1196,131" stroke="#fc0000" stroke-width="4.3"/><polyline points="983,197 991,195 1007,190 1012,188 1022,185 1035,181 1041,179 1047,177 1055,174 1060,173 1065,171 1079,167 1092,163 1098,161 1102,160 1106,158 1118,155 1126,153 1135,151 1149,147 1154,145 1162,143 1174,140 1178,138 1183,137 1196,133" stroke="#fd0000" stroke-width="4.3"/><polyline points="983,200 991,198 1007,192 1012,191 1022,188 1035,184 1041,182 1047,180 1055,177 1060,176 1065,174 1079,170 1092,165 1098,163 1102,162 1106,161 1118,158 1126,155 1135,153 1149,149 1154,147 1162,145 1174,142 1178,141 1183,139 1196,136" stroke="#fe0000" stroke-width="4.3"/><polyline points="983,203 991,201 1007,195 1012,194 1022,191 1035,186 1041,184 1047,182 1055,180 1060,178 1065,177 1079,172 1092,168 1098,166 1102,165 1106,164 1118,160 1126,158 1135,156 1149,152 1154,150 1162,148 1174,145 1178,143 1183,142 1196,138" stroke="#ff0100" stroke-width="4.3"/><polyline points="983,206 991,203 1007,198 1012,196 1022,193 1035,189 1041,187 1047,185 1055,183 1060,181 1065,179 1079,175 1092,171 1098,169 1102,168 1106,166 1118,163 1126,161 1135,158 1149,154 1154,152 1162,150 1174,147 1178,146 1183,144 1196,140" stroke="#ff0a00" stroke-width="4.3"/><polyline points="983,209 991,206 1007,201 1012,199 1022,196 1035,192 1041,190 1047,188 1055,185 1060,184 1065,182 1079,178 1092,173 1098,171 1102,170 1106,169 1118,166 1126,163 1135,161 1149,157 1154,155 1162,153 1174,149 1178,148 1183,147 1196,143" stroke="#ff1300" stroke-width="4.3"/><polyline points="983,212 991,209 1007,204 1012,202 1022,199 1035,195 1041,193 1047,191 1055,188 1060,187 1065,185 1079,180 1092,176 1098,174 1102,173 1106,172 1118,168 1126,166 1135,163 1149,159 1154,157 1162,155 1174,152 1178,150 1183,149 1196,145" stroke="#ff1d00" stroke-width="4.3"/><polyline points="983,214 991,212 1007,206 1012,205 1022,202 1035,197 1041,195 1047,193 1055,191 1060,189 1065,188 1079,183 1092,179 1098,177 1102,176 1106,174 1118,171 1126,168 1135,166 1149,162 1154,160 1162,158 1174,154 1178,153 1183,151 1196,147" stroke="#ff2600" stroke-width="4.3"/><polyline points="983,217 991,215 1007,209 1012,208 1022,205 1035,200 1041,198 1047,196 1055,194 1060,192 1065,190 1079,186 1092,182 1098,180 1102,178 1106,177 1118,173 1126,171 1135,168 1149,164 1154,162 1162,160 1174,157 1178,155 1183,154 1196,150" stroke="#ff2f00" stroke-width="4.3"/><polyline points="983,220 991,217 1007,212 1012,210 1022,207 1035,203 1041,201 1047,199 1055,196 1060,195 1065,193 1079,189 1092,184 1098,182 1102,181 1106,180 1118,176 1126,174 1135,171 1149,167 1154,165 1162,163 1174,159 1178,158 1183,156 1196,152" stroke="#ff3900" stroke-width="4.3"/><polyline points="983,223 991,220 1007,215 1012,213 1022,210 1035,206 1041,204 1047,202 1055,199 1060,198 1065,196 1079,191 1092,187 1098,185 1102,184 1106,183 1118,179 1126,176 1135,174 1149,169 1154,167 1162,165 1174,161 1178,160 1183,159 1196,154" stroke="#ff4200" stroke-width="4.3"/><polyline points="983,226 991,223 1007,218 1012,216 1022,213 1035,209 1041,207 1047,205 1055,202 1060,200 1065,198 1079,194 1092,190 1098,188 1102,186 1106,185 1118,181 1126,179 1135,176 1149,172 1154,170 1162,168 1174,164 1178,162 1183,161 1196,157" stroke="#ff4b00" stroke-width="4.3"/><polyline points="983,229 991,226 1007,220 1012,219 1022,216 1035,211 1041,209 1047,207 1055,205 1060,203 1065,201 1079,197 1092,192 1098,190 1102,189 1106,188 1118,184 1126,182 1135,179 1149,174 1154,172 1162,170 1174,166 1178,165 1183,163 1196,159" stroke="#ff5400" stroke-width="4.3"/><polyline points="983,231 991,229 1007,223 1012,222 1022,218 1035,214 1041,212 1047,210 1055,207 1060,206 1065,204 1079,200 1092,195 1098,193 1102,192 1106,191 1118,187 1126,184 1135,181 1149,177 1154,175 1162,173 1174,169 1178,167 1183,166 1196,161" stroke="#ff5d00" stroke-width="4.3"/><polyline points="983,234 991,232 1007,226 1012,224 1022,221 1035,217 1041,215 1047,213 1055,210 1060,209 1065,207 1079,202 1092,198 1098,196 1102,195 1106,193 1118,189 1126,187 1135,184 1149,179 1154,177 1162,175 1174,171 1178,170 1183,168 1196,164" stroke="#ff6600" stroke-width="4.3"/><polyline points="983,237 991,234 1007,229 1012,227 1022,224 1035,220 1041,218 1047,216 1055,213 1060,211 1065,209 1079,205 1092,201 1098,199 1102,197 1106,196 1118,192 1126,189 1135,186 1149,182 1154,180 1162,178 1174,174 1178,172 1183,170 1196,166" stroke="#ff6f00" stroke-width="4.3"/><polyline points="983,240 991,237 1007,232 1012,230 1022,227 1035,222 1041,220 1047,218 1055,216 1060,214 1065,212 1079,208 1092,203 1098,201 1102,200 1106,199 1118,194 1126,192 1135,189 1149,184 1154,182 1162,180 1174,176 1178,174 1183,173 1196,168" stroke="#ff7900" stroke-width="4.2"/><polyline points="983,243 991,240 1007,234 1012,233 1022,230 1035,225 1041,223 1047,221 1055,218 1060,217 1065,215 1079,210 1092,206 1098,204 1102,202 1106,201 1118,197 1126,194 1135,192 1149,187 1154,185 1162,182 1174,178 1178,177 1183,175 1196,171" stroke="#ff8300" stroke-width="4.2"/><polyline points="983,245 991,243 1007,237 1012,235 1022,232 1035,228 1041,226 1047,224 1055,221 1060,219 1065,217 1079,213 1092,208 1098,206 1102,205 1106,204 1118,200 1126,197 1135,194 1149,189 1154,187 1162,185 1174,181 1178,179 1183,178 1196,173" stroke="#ff8c00" stroke-width="4.2"/><polyline points="983,248 991,245 1007,240 1012,238 1022,235 1035,230 1041,228 1047,226 1055,224 1060,222 1065,220 1079,216 1092,211 1098,209 1102,208 1106,206 1118,202 1126,199 1135,197 1149,192 1154,190 1162,187 1174,183 1178,182 1183,180 1196,175" stroke="#ff9600" stroke-width="4.2"/><polyline points="983,251 991,248 1007,243 1012,241 1022,238 1035,233 1041,231 1047,229 1055,226 1060,225 1065,223 1079,218 1092,214 1098,212 1102,210 1106,209 1118,205 1126,202 1135,199 1149,194 1154,192 1162,190 1174,186 1178,184 1183,182 1196,178" stroke="#ffa000" stroke-width="4.2"/><polyline points="983,254 991,251 1007,245 1012,244 1022,240 1035,236 1041,234 1047,232 1055,229 1060,227 1065,225 1079,221 1092,216 1098,214 1102,213 1106,211 1118,207 1126,205 1135,202 1149,197 1154,195 1162,192 1174,188 1178,187 1183,185 1196,180" stroke="#ffa900" stroke-width="4.2"/><polyline points="983,256 991,254 1007,248 1012,246 1022,243 1035,238 1041,236 1047,234 1055,232 1060,230 1065,228 1079,223 1092,219 1098,217 1102,215 1106,214 1118,210 1126,207 1135,204 1149,199 1154,197 1162,195 1174,191 1178,189 1183,187 1196,183" stroke="#ffb300" stroke-width="4.2"/><polyline points="983,259 991,256 1007,251 1012,249 1022,246 1035,241 1041,239 1047,237 1055,234 1060,232 1065,231 1079,226 1092,221 1098,219 1102,218 1106,217 1118,212 1126,210 1135,207 1149,202 1154,200 1162,197 1174,193 1178,191 1183,190 1196,185" stroke="#ffbd00" stroke-width="4.2"/><polyline points="983,262 991,259 1007,253 1012,252 1022,248 1035,244 1041,242 1047,240 1055,237 1060,235 1065,233 1079,229 1092,224 1098,222 1102,220 1106,219 1118,215 1126,212 1135,209 1149,204 1154,202 1162,200 1174,195 1178,194 1183,192 1196,187" stroke="#ffc700" stroke-width="4.2"/><polyline points="983,265 991,262 1007,256 1012,254 1022,251 1035,247 1041,244 1047,242 1055,240 1060,238 1065,236 1079,231 1092,227 1098,224 1102,223 1106,222 1118,217 1126,215 1135,212 1149,207 1154,205 1162,202 1174,198 1178,196 1183,195 1196,190" stroke="#ffd100" stroke-width="4.2"/><polyline points="983,268 991,265 1007,259 1012,257 1022,254 1035,249 1041,247 1047,245 1055,242 1060,240 1065,238 1079,234 1092,229 1098,227 1102,226 1106,224 1118,220 1126,217 1135,214 1149,209 1154,207 1162,205 1174,200 1178,199 1183,197 1196,192" stroke="#ffdc00" stroke-width="4.2"/><polyline points="983,270 991,267 1007,262 1012,260 1022,257 1035,252 1041,250 1047,248 1055,245 1060,243 1065,241 1079,236 1092,232 1098,230 1102,228 1106,227 1118,222 1126,220 1135,217 1149,212 1154,210 1162,207 1174,203 1178,201 1183,199 1196,195" stroke="#ffe600" stroke-width="4.2"/><polyline points="983,273 991,270 1007,264 1012,263 1022,259 1035,255 1041,252 1047,250 1055,247 1060,246 1065,244 1079,239 1092,234 1098,232 1102,231 1106,229 1118,225 1126,222 1135,219 1149,214 1154,212 1162,209 1174,205 1178,203 1183,202 1196,197" stroke="#fff000" stroke-width="4.2"/><polyline points="983,276 991,273 1007,267 1012,265 1022,262 1035,257 1041,255 1047,253 1055,250 1060,248 1065,246 1079,242 1092,237 1098,235 1102,233 1106,232 1118,227 1126,225 1135,222 1149,216 1154,214 1162,212 1174,208 1178,206 1183,204 1196,199" stroke="#fffa00" stroke-width="4.2"/><polyline points="983,278 991,275 1007,270 1012,268 1022,265 1035,260 1041,258 1047,256 1055,253 1060,251 1065,249 1079,244 1092,240 1098,237 1102,236 1106,235 1118,230 1126,227 1135,224 1149,219 1154,217 1162,214 1174,210 1178,208 1183,207 1196,202" stroke="#fcff00" stroke-width="4.3"/><polyline points="983,280 991,278 1007,272 1012,270 1022,267 1035,262 1041,260 1047,258 1055,255 1060,254 1065,252 1079,247 1092,242 1098,240 1102,239 1106,237 1118,233 1126,230 1135,227 1149,221 1154,219 1162,217 1174,212 1178,211 1183,209 1196,204" stroke="#f6ff00" stroke-width="4.3"/><polyline points="983,283 991,280 1007,274 1012,273 1022,269 1035,265 1041,263 1047,261 1055,258 1060,256 1065,254 1079,250 1092,245 1098,243 1102,241 1106,240 1118,235 1126,232 1135,229 1149,224 1154,222 1162,219 1174,215 1178,213 1183,211 1196,206" stroke="#f0ff00" stroke-width="4.3"/><polyline points="983,285 991,282 1007,276 1012,275 1022,272 1035,267 1041,265 1047,263 1055,261 1060,259 1065,257 1079,253 1092,248 1098,245 1102,244 1106,242 1118,238 1126,235 1135,232 1149,226 1154,224 1162,221 1174,217 1178,215 1183,213 1196,208" stroke="#eaff00" stroke-width="4.3"/><polyline points="983,287 991,284 1007,279 1012,277 1022,274 1035,270 1041,268 1047,266 1055,263 1060,262 1065,260 1079,255 1092,250 1098,248 1102,247 1106,245 1118,240 1126,237 1135,234 1149,229 1154,227 1162,224 1174,219 1178,218 1183,216 1196,211" stroke="#e5ff00" stroke-width="4.3"/><polyline points="983,289 991,286 1007,281 1012,280 1022,277 1035,272 1041,270 1047,268 1055,266 1060,264 1065,262 1079,258 1092,253 1098,251 1102,249 1106,248 1118,243 1126,240 1135,236 1149,231 1154,229 1162,226 1174,222 1178,220 1183,218 1196,213" stroke="#dfff00" stroke-width="4.3"/><polyline points="983,291 991,289 1007,283 1012,282 1022,279 1035,275 1041,273 1047,271 1055,268 1060,267 1065,265 1079,261 1092,256 1098,253 1102,252 1106,250 1118,245 1126,242 1135,239 1149,234 1154,231 1162,229 1174,224 1178,222 1183,220 1196,215" stroke="#d9ff00" stroke-width="4.3"/><polyline points="983,293 991,291 1007,286 1012,284 1022,281 1035,277 1041,275 1047,273 1055,271 1060,270 1065,268 1079,264 1092,258 1098,256 1102,254 1106,253 1118,248 1126,245 1135,241 1149,236 1154,234 1162,231 1174,226 1178,225 1183,223 1196,218" stroke="#d3ff00" stroke-width="4.3"/><polyline points="983,295 991,293 1007,288 1012,287 1022,284 1035,280 1041,278 1047,276 1055,274 1060,272 1065,271 1079,267 1092,261 1098,259 1102,257 1106,255 1118,250 1126,247 1135,244 1149,238 1154,236 1162,233 1174,229 1178,227 1183,225 1196,220" stroke="#ccff00" stroke-width="4.3"/><polyline points="983,298 991,295 1007,290 1012,289 1022,286 1035,282 1041,280 1047,279 1055,276 1060,275 1065,273 1079,269 1092,264 1098,261 1102,260 1106,258 1118,253 1126,250 1135,246 1149,241 1154,239 1162,236 1174,231 1178,229 1183,227 1196,222" stroke="#c6ff00" stroke-width="4.3"/><polyline points="983,300 991,297 1007,293 1012,291 1022,289 1035,285 1041,283 1047,281 1055,279 1060,277 1065,276 1079,272 1092,267 1098,264 1102,262 1106,261 1118,256 1126,252 1135,249 1149,243 1154,241 1162,238 1174,233 1178,232 1183,230 1196,224" stroke="#beff00" stroke-width="4.3"/><polyline points="983,302 991,300 1007,295 1012,294 1022,291 1035,287 1041,285 1047,284 1055,282 1060,280 1065,279 1079,275 1092,269 1098,267 1102,265 1106,263 1118,258 1126,255 1135,251 1149,246 1154,243 1162,241 1174,236 1178,234 1183,232 1196,227" stroke="#b7ff00" stroke-width="4.3"/><polyline points="983,304 991,302 1007,297 1012,296 1022,293 1035,290 1041,288 1047,286 1055,284 1060,283 1065,281 1079,278 1092,272 1098,269 1102,268 1106,266 1118,261 1126,257 1135,254 1149,248 1154,246 1162,243 1174,238 1178,236 1183,234 1196,229" stroke="#b0ff00" stroke-width="4.3"/><polyline points="983,306 991,304 1007,300 1012,298 1022,296 1035,292 1041,291 1047,289 1055,287 1060,285 1065,284 1079,280 1092,275 1098,272 1102,270 1106,269 1118,263 1126,260 1135,256 1149,251 1154,248 1162,245 1174,240 1178,239 1183,237 1196,231" stroke="#aaff00" stroke-width="4.3"/><polyline points="983,308 991,306 1007,302 1012,301 1022,298 1035,295 1041,293 1047,291 1055,289 1060,288 1065,287 1079,283 1092,277 1098,275 1102,273 1106,271 1118,266 1126,262 1135,259 1149,253 1154,251 1162,248 1174,243 1178,241 1183,239 1196,233" stroke="#a3ff00" stroke-width="4.3"/><polyline points="983,310 991,308 1007,304 1012,303 1022,301 1035,297 1041,296 1047,294 1055,292 1060,291 1065,289 1079,286 1092,280 1098,277 1102,276 1106,274 1118,268 1126,265 1135,261 1149,255 1154,253 1162,250 1174,245 1178,243 1183,241 1196,236" stroke="#9bff00" stroke-width="4.3"/><polyline points="983,313 991,311 1007,307 1012,305 1022,303 1035,300 1041,298 1047,297 1055,295 1060,293 1065,292 1079,289 1092,283 1098,280 1102,278 1106,276 1118,271 1126,267 1135,264 1149,258 1154,256 1162,253 1174,248 1178,246 1183,244 1196,238" stroke="#8fff00" stroke-width="4.1"/><polyline points="983,315 991,313 1007,309 1012,308 1022,306 1035,302 1041,301 1047,299 1055,297 1060,296 1065,294 1079,291 1092,285 1098,282 1102,281 1106,279 1118,273 1126,270 1135,266 1149,260 1154,258 1162,255 1174,250 1178,248 1183,246 1196,241" stroke="#7cff00" stroke-width="4.1"/><polyline points="983,318 991,316 1007,312 1012,311 1022,308 1035,305 1041,303 1047,302 1055,300 1060,298 1065,297 1079,293 1092,287 1098,285 1102,283 1106,281 1118,276 1126,273 1135,269 1149,263 1154,261 1162,258 1174,253 1178,251 1183,249 1196,243" stroke="#6aff00" stroke-width="4.1"/><polyline points="983,321 991,319 1007,314 1012,313 1022,311 1035,307 1041,306 1047,304 1055,302 1060,301 1065,300 1079,296 1092,290 1098,287 1102,286 1106,284 1118,278 1126,275 1135,272 1149,266 1154,263 1162,260 1174,255 1178,253 1183,252 1196,246" stroke="#58ff00" stroke-width="4.1"/><polyline points="983,323 991,321 1007,317 1012,316 1022,313 1035,310 1041,308 1047,307 1055,305 1060,303 1065,302 1079,298 1092,292 1098,290 1102,288 1106,286 1118,281 1126,278 1135,274 1149,268 1154,266 1162,263 1174,258 1178,256 1183,254 1196,249" stroke="#46ff00" stroke-width="4.1"/><polyline points="983,326 991,324 1007,319 1012,318 1022,316 1035,312 1041,311 1047,309 1055,307 1060,306 1065,305 1079,300 1092,295 1098,292 1102,290 1106,289 1118,284 1126,280 1135,277 1149,271 1154,268 1162,266 1174,261 1178,259 1183,257 1196,251" stroke="#34fc00" stroke-width="4.1"/><polyline points="983,328 991,326 1007,322 1012,321 1022,318 1035,315 1041,313 1047,312 1055,310 1060,308 1065,307 1079,303 1092,297 1098,295 1102,293 1106,291 1118,286 1126,283 1135,279 1149,273 1154,271 1162,268 1174,263 1178,261 1183,259 1196,254" stroke="#22f800" stroke-width="4.1"/><polyline points="983,331 991,329 1007,325 1012,323 1022,321 1035,317 1041,316 1047,314 1055,312 1060,311 1065,310 1079,305 1092,300 1098,297 1102,295 1106,294 1118,289 1126,285 1135,282 1149,276 1154,274 1162,271 1174,266 1178,264 1183,262 1196,256" stroke="#10f400" stroke-width="4.1"/><polyline points="983,334 991,331 1007,327 1012,326 1022,323 1035,320 1041,318 1047,317 1055,315 1060,314 1065,312 1079,308 1092,302 1098,300 1102,298 1106,296 1118,291 1126,288 1135,284 1149,279 1154,276 1162,273 1174,268 1178,266 1183,265 1196,259" stroke="#00f004" stroke-width="4.1"/><polyline points="983,336 991,334 1007,330 1012,328 1022,326 1035,323 1041,321 1047,319 1055,317 1060,316 1065,315 1079,310 1092,304 1098,302 1102,300 1106,299 1118,294 1126,290 1135,287 1149,281 1154,279 1162,276 1174,271 1178,269 1183,267 1196,262" stroke="#00f52c" stroke-width="4.1"/><polyline points="983,339 991,337 1007,332 1012,331 1022,329 1035,325 1041,324 1047,322 1055,320 1060,319 1065,317 1079,312 1092,307 1098,304 1102,303 1106,301 1118,296 1126,293 1135,290 1149,284 1154,281 1162,278 1174,274 1178,272 1183,270 1196,264" stroke="#00f954" stroke-width="4.1"/><polyline points="983,341 991,339 1007,335 1012,334 1022,331 1035,328 1041,326 1047,324 1055,322 1060,321 1065,320 1079,315 1092,309 1098,307 1102,305 1106,304 1118,299 1126,296 1135,292 1149,286 1154,284 1162,281 1174,276 1178,274 1183,272 1196,267" stroke="#00fd7c" stroke-width="4.1"/><polyline points="983,343 991,341 1007,337 1012,336 1022,333 1035,330 1041,328 1047,327 1055,324 1060,323 1065,322 1079,317 1092,311 1098,309 1102,307 1106,306 1118,301 1126,298 1135,294 1149,289 1154,286 1162,283 1174,279 1178,277 1183,275 1196,270" stroke="#00fe96" stroke-width="4.3"/><polyline points="983,345 991,343 1007,339 1012,337 1022,335 1035,331 1041,330 1047,328 1055,326 1060,325 1065,323 1079,318 1092,313 1098,311 1102,309 1106,307 1118,303 1126,300 1135,296 1149,291 1154,288 1162,286 1174,281 1178,279 1183,278 1196,273" stroke="#00fda1" stroke-width="4.3"/><polyline points="983,347 991,345 1007,340 1012,339 1022,337 1035,333 1041,331 1047,330 1055,328 1060,326 1065,325 1079,320 1092,315 1098,312 1102,311 1106,309 1118,304 1126,301 1135,298 1149,292 1154,290 1162,288 1174,284 1178,282 1183,280 1196,276" stroke="#00fcad" stroke-width="4.3"/><polyline points="983,349 991,347 1007,342 1012,341 1022,338 1035,335 1041,333 1047,331 1055,329 1060,328 1065,326 1079,321 1092,316 1098,314 1102,312 1106,311 1118,306 1126,303 1135,300 1149,294 1154,292 1162,290 1174,286 1178,285 1183,283 1196,279" stroke="#00fbb8" stroke-width="4.3"/><polyline points="983,350 991,348 1007,344 1012,342 1022,340 1035,336 1041,335 1047,333 1055,331 1060,329 1065,328 1079,323 1092,318 1098,316 1102,314 1106,312 1118,308 1126,305 1135,302 1149,296 1154,294 1162,292 1174,289 1178,287 1183,286 1196,282" stroke="#00fac3" stroke-width="4.3"/><polyline points="983,352 991,350 1007,345 1012,344 1022,342 1035,338 1041,336 1047,335 1055,332 1060,331 1065,330 1079,325 1092,319 1098,317 1102,316 1106,314 1118,309 1126,306 1135,303 1149,298 1154,296 1162,294 1174,291 1178,290 1183,289 1196,285" stroke="#00f8cf" stroke-width="4.3"/><polyline points="983,354 991,352 1007,347 1012,346 1022,343 1035,340 1041,338 1047,336 1055,334 1060,333 1065,331 1079,326 1092,321 1098,319 1102,317 1106,316 1118,311 1126,308 1135,305 1149,300 1154,298 1162,297 1174,294 1178,292 1183,291 1196,288" stroke="#00f7da" stroke-width="4.3"/><polyline points="983,356 991,353 1007,349 1012,347 1022,345 1035,341 1041,339 1047,338 1055,336 1060,334 1065,333 1079,328 1092,323 1098,320 1102,319 1106,317 1118,313 1126,310 1135,307 1149,302 1154,300 1162,299 1174,296 1178,295 1183,294 1196,291" stroke="#00f6e6" stroke-width="4.3"/><polyline points="983,357 991,355 1007,350 1012,349 1022,346 1035,343 1041,341 1047,339 1055,337 1060,336 1065,334 1079,329 1092,324 1098,322 1102,321 1106,319 1118,315 1126,312 1135,309 1149,304 1154,302 1162,301 1174,299 1178,298 1183,297 1196,294" stroke="#00f5f1" stroke-width="4.3"/><polyline points="983,359 991,357 1007,352 1012,351 1022,348 1035,344 1041,343 1047,341 1055,339 1060,337 1065,336 1079,331 1092,326 1098,324 1102,322 1106,321 1118,316 1126,313 1135,311 1149,306 1154,304 1162,303 1174,301 1178,300 1183,299 1196,297" stroke="#00f1f8" stroke-width="4.3"/><polyline points="983,361 991,359 1007,354 1012,352 1022,350 1035,346 1041,344 1047,343 1055,340 1060,339 1065,337 1079,333 1092,328 1098,325 1102,324 1106,322 1118,318 1126,315 1135,312 1149,308 1154,306 1162,305 1174,304 1178,303 1183,302 1196,300" stroke="#00ebf9" stroke-width="4.3"/><polyline points="983,363 991,360 1007,356 1012,354 1022,351 1035,348 1041,346 1047,344 1055,342 1060,340 1065,339 1079,334 1092,329 1098,327 1102,326 1106,324 1118,320 1126,317 1135,314 1149,310 1154,308 1162,307 1174,306 1178,305 1183,305 1196,303" stroke="#00e4fa" stroke-width="4.3"/><polyline points="983,364 991,362 1007,357 1012,356 1022,353 1035,349 1041,347 1047,346 1055,343 1060,342 1065,340 1079,336 1092,331 1098,329 1102,327 1106,326 1118,321 1126,319 1135,316 1149,312 1154,310 1162,310 1174,309 1178,308 1183,308 1196,306" stroke="#00ddfb" stroke-width="4.3"/><polyline points="983,366 991,364 1007,359 1012,358 1022,355 1035,351 1041,349 1047,347 1055,345 1060,344 1065,342 1079,337 1092,333 1098,330 1102,329 1106,327 1118,323 1126,320 1135,318 1149,314 1154,312 1162,312 1174,311 1178,311 1183,310 1196,310" stroke="#00d7fc" stroke-width="4.3"/><polyline points="983,368 991,366 1007,361 1012,359 1022,356 1035,353 1041,351 1047,349 1055,347 1060,345 1065,344 1079,339 1092,334 1098,332 1102,331 1106,329 1118,325 1126,322 1135,320 1149,316 1154,314 1162,314 1174,313 1178,313 1183,313 1196,313" stroke="#00d0fd" stroke-width="4.3"/><polyline points="983,370 991,367 1007,362 1012,361 1022,358 1035,354 1041,352 1047,351 1055,348 1060,347 1065,345 1079,340 1092,336 1098,334 1102,332 1106,331 1118,327 1126,324 1135,322 1149,318 1154,316 1162,316 1174,316 1178,316 1183,316 1196,316" stroke="#00c9fe" stroke-width="4.3"/><polyline points="983,371 991,369 1007,364 1012,363 1022,360 1035,356 1041,354 1047,352 1055,350 1060,348 1065,347 1079,342 1092,337 1098,335 1102,334 1106,333 1118,328 1126,326 1135,323 1149,320 1154,318 1162,318 1174,318 1178,318 1183,319 1196,319" stroke="#00c3ff" stroke-width="4.3"/><polyline points="983,373 991,371 1007,366 1012,364 1022,361 1035,357 1041,356 1047,354 1055,351 1060,350 1065,348 1079,344 1092,339 1098,337 1102,336 1106,334 1118,330 1126,327 1135,325 1149,322 1154,320 1162,320 1174,321 1178,321 1183,321 1196,322" stroke="#00bcff" stroke-width="4.3"/><polyline points="983,375 991,372 1007,367 1012,366 1022,363 1035,359 1041,357 1047,355 1055,353 1060,351 1065,350 1079,345 1092,341 1098,339 1102,337 1106,336 1118,332 1126,329 1135,327 1149,324 1154,322 1162,323 1174,323 1178,324 1183,324 1196,325" stroke="#00b5ff" stroke-width="4.3"/><polyline points="983,377 991,374 1007,369 1012,368 1022,365 1035,361 1041,359 1047,357 1055,355 1060,353 1065,351 1079,347 1092,342 1098,340 1102,339 1106,338 1118,333 1126,331 1135,329 1149,326 1154,324 1162,325 1174,326 1178,326 1183,327 1196,328" stroke="#00aeff" stroke-width="4.3"/><polyline points="983,378 991,376 1007,371 1012,369 1022,366 1035,362 1041,360 1047,358 1055,356 1060,355 1065,353 1079,348 1092,344 1098,342 1102,341 1106,339 1118,335 1126,332 1135,331 1149,327 1154,326 1162,327 1174,328 1178,329 1183,329 1196,331" stroke="#00a7ff" stroke-width="4.3"/><polyline points="983,380 991,378 1007,372 1012,371 1022,368 1035,364 1041,362 1047,360 1055,358 1060,356 1065,354 1079,350 1092,346 1098,344 1102,342 1106,341 1118,337 1126,334 1135,332 1149,329 1154,328 1162,329 1174,331 1178,331 1183,332 1196,334" stroke="#00a0ff" stroke-width="4.3"/><polyline points="983,382 991,379 1007,374 1012,373 1022,370 1035,366 1041,364 1047,362 1055,359 1060,358 1065,356 1079,352 1092,347 1098,345 1102,344 1106,343 1118,338 1126,336 1135,334 1149,331 1154,330 1162,331 1174,333 1178,334 1183,335 1196,337" stroke="#0099ff" stroke-width="4.3"/><polyline points="983,384 991,381 1007,376 1012,374 1022,371 1035,367 1041,365 1047,363 1055,361 1060,359 1065,358 1079,353 1092,349 1098,347 1102,346 1106,344 1118,340 1126,338 1135,336 1149,333 1154,332 1162,334 1174,336 1178,337 1183,338 1196,340" stroke="#0092ff" stroke-width="4.3"/><polyline points="983,385 991,383 1007,377 1012,376 1022,373 1035,369 1041,367 1047,365 1055,362 1060,361 1065,359 1079,355 1092,350 1098,348 1102,347 1106,346 1118,342 1126,339 1135,338 1149,335 1154,334 1162,336 1174,338 1178,339 1183,340 1196,343" stroke="#008bff" stroke-width="4.3"/><polyline points="983,387 991,384 1007,379 1012,378 1022,375 1035,370 1041,368 1047,366 1055,364 1060,362 1065,361 1079,356 1092,352 1098,350 1102,349 1106,348 1118,344 1126,341 1135,340 1149,337 1154,336 1162,338 1174,341 1178,342 1183,343 1196,346" stroke="#0084ff" stroke-width="4.3"/><polyline points="983,388 991,386 1007,380 1012,379 1022,376 1035,372 1041,370 1047,368 1055,365 1060,364 1065,362 1079,358 1092,354 1098,352 1102,351 1106,349 1118,345 1126,343 1135,342 1149,339 1154,339 1162,340 1174,343 1178,345 1183,346 1196,349" stroke="#007bff" stroke-width="4.4"/><polyline points="983,389 991,387 1007,381 1012,380 1022,377 1035,373 1041,371 1047,369 1055,367 1060,365 1065,364 1079,360 1092,356 1098,354 1102,352 1106,351 1118,347 1126,345 1135,344 1149,342 1154,341 1162,343 1174,346 1178,347 1183,349 1196,352" stroke="#0070ff" stroke-width="4.4"/><polyline points="983,390 991,387 1007,382 1012,381 1022,378 1035,374 1041,372 1047,371 1055,368 1060,367 1065,365 1079,361 1092,357 1098,355 1102,354 1106,353 1118,349 1126,347 1135,346 1149,345 1154,344 1162,346 1174,349 1178,350 1183,352 1196,355" stroke="#0065ff" stroke-width="4.4"/><polyline points="983,391 991,388 1007,383 1012,382 1022,379 1035,375 1041,374 1047,372 1055,370 1060,368 1065,367 1079,363 1092,359 1098,357 1102,356 1106,355 1118,351 1126,349 1135,348 1149,347 1154,347 1162,348 1174,352 1178,353 1183,354 1196,358" stroke="#005bff" stroke-width="4.4"/><polyline points="983,391 991,389 1007,384 1012,383 1022,380 1035,377 1041,375 1047,373 1055,371 1060,370 1065,368 1079,364 1092,361 1098,359 1102,358 1106,357 1118,353 1126,351 1135,351 1149,350 1154,349 1162,351 1174,355 1178,356 1183,357 1196,361" stroke="#0050ff" stroke-width="4.4"/><polyline points="983,392 991,390 1007,385 1012,384 1022,381 1035,378 1041,376 1047,374 1055,372 1060,371 1065,370 1079,366 1092,362 1098,361 1102,360 1106,359 1118,355 1126,353 1135,353 1149,352 1154,352 1162,354 1174,357 1178,359 1183,360 1196,364" stroke="#0045ff" stroke-width="4.4"/><polyline points="983,393 991,391 1007,386 1012,385 1022,383 1035,379 1041,377 1047,376 1055,374 1060,372 1065,371 1079,368 1092,364 1098,363 1102,362 1106,361 1118,357 1126,355 1135,355 1149,355 1154,354 1162,357 1174,360 1178,362 1183,363 1196,367" stroke="#003bff" stroke-width="4.4"/><polyline points="983,394 991,392 1007,387 1012,386 1022,384 1035,380 1041,379 1047,377 1055,375 1060,374 1065,372 1079,369 1092,366 1098,364 1102,363 1106,362 1118,359 1126,357 1135,357 1149,357 1154,357 1162,359 1174,363 1178,364 1183,366 1196,370" stroke="#0030ff" stroke-width="4.4"/><polyline points="983,395 991,393 1007,388 1012,387 1022,385 1035,381 1041,380 1047,378 1055,376 1060,375 1065,374 1079,371 1092,368 1098,366 1102,365 1106,364 1118,361 1126,359 1135,360 1149,360 1154,360 1162,362 1174,366 1178,367 1183,369 1196,373" stroke="#0025ff" stroke-width="4.4"/><polyline points="983,395 991,393 1007,389 1012,388 1022,386 1035,383 1041,381 1047,380 1055,378 1060,377 1065,375 1079,372 1092,369 1098,368 1102,367 1106,366 1118,363 1126,362 1135,362 1149,362 1154,362 1162,365 1174,369 1178,370 1183,372 1196,376" stroke="#001bff" stroke-width="4.4"/><polyline points="983,396 991,394 1007,390 1012,389 1022,387 1035,384 1041,382 1047,381 1055,379 1060,378 1065,377 1079,374 1092,371 1098,370 1102,369 1106,368 1118,365 1126,364 1135,364 1149,365 1154,365 1162,367 1174,371 1178,373 1183,374 1196,379" stroke="#0010ff" stroke-width="4.4"/><polyline points="983,397 991,395 1007,391 1012,390 1022,388 1035,385 1041,384 1047,382 1055,381 1060,380 1065,378 1079,376 1092,373 1098,372 1102,371 1106,370 1118,367 1126,366 1135,366 1149,367 1154,368 1162,370 1174,374 1178,376 1183,377 1196,382" stroke="#050dff" stroke-width="4.4"/><polyline points="983,398 991,396 1007,392 1012,391 1022,389 1035,386 1041,385 1047,384 1055,382 1060,381 1065,380 1079,377 1092,375 1098,373 1102,373 1106,372 1118,369 1126,368 1135,369 1149,370 1154,370 1162,373 1174,377 1178,379 1183,380 1196,385" stroke="#0b0bff" stroke-width="4.4"/><polyline points="983,398 991,397 1007,393 1012,392 1022,390 1035,388 1041,386 1047,385 1055,383 1060,382 1065,381 1079,379 1092,376 1098,375 1102,374 1106,374 1118,371 1126,370 1135,371 1149,372 1154,373 1162,376 1174,380 1178,381 1183,383 1196,388" stroke="#1008ff" stroke-width="4.4"/><polyline points="983,399 991,398 1007,394 1012,393 1022,391 1035,389 1041,388 1047,386 1055,385 1060,384 1065,383 1079,380 1092,378 1098,377 1102,376 1106,375 1118,373 1126,372 1135,373 1149,375 1154,376 1162,378 1174,383 1178,384 1183,386 1196,391" stroke="#1505ff" stroke-width="4.4"/><polyline points="983,400 991,398 1007,395 1012,394 1022,393 1035,390 1041,389 1047,388 1055,386 1060,385 1065,384 1079,382 1092,380 1098,379 1102,378 1106,377 1118,375 1126,374 1135,375 1149,378 1154,378 1162,381 1174,385 1178,387 1183,389 1196,394" stroke="#1b03ff" stroke-width="4.4"/><polyline points="983,401 991,399 1007,396 1012,395 1022,394 1035,391 1041,390 1047,389 1055,387 1060,387 1065,386 1079,384 1092,381 1098,380 1102,380 1106,379 1118,377 1126,376 1135,377 1149,380 1154,381 1162,384 1174,388 1178,390 1183,392 1196,397" stroke="#2000ff" stroke-width="4.4"/><polyline points="983,402 991,400 1007,397 1012,396 1022,395 1035,392 1041,391 1047,390 1055,389 1060,388 1065,387 1079,385 1092,383 1098,382 1102,382 1106,381 1118,379 1126,378 1135,380 1149,383 1154,384 1162,386 1174,391 1178,393 1183,394 1196,400" stroke="#2900ff" stroke-width="4.4"/><polyline points="983,402 991,401 1007,398 1012,397 1022,396 1035,394 1041,393 1047,392 1055,390 1060,389 1065,389 1079,387 1092,385 1098,384 1102,383 1106,383 1118,381 1126,380 1135,382 1149,385 1154,386 1162,389 1174,394 1178,396 1183,397 1196,403" stroke="#3100ff" stroke-width="4.4"/><polyline points="983,403 991,402 1007,399 1012,398 1022,397 1035,395 1041,394 1047,393 1055,392 1060,391 1065,390 1079,388 1092,387 1098,386 1102,385 1106,385 1118,383 1126,382 1135,384 1149,388 1154,389 1162,392 1174,397 1178,398 1183,400 1196,406" stroke="#3a00ff" stroke-width="4.4"/><polyline points="983,404 991,403 1007,400 1012,399 1022,398 1035,396 1041,395 1047,394 1055,393 1060,392 1065,392 1079,390 1092,388 1098,388 1102,387 1106,387 1118,385 1126,384 1135,386 1149,390 1154,392 1162,395 1174,399 1178,401 1183,403 1196,408" stroke="#4200ff" stroke-width="4.4"/><polyline points="983,405 991,404 1007,401 1012,400 1022,399 1035,397 1041,396 1047,395 1055,394 1060,394 1065,393 1079,392 1092,390 1098,389 1102,389 1106,388 1118,387 1126,386 1135,389 1149,393 1154,394 1162,397 1174,402 1178,404 1183,406 1196,411" stroke="#4b00ff" stroke-width="4.4"/><polyline points="983,406 991,404 1007,402 1012,402 1022,400 1035,398 1041,398 1047,397 1055,396 1060,395 1065,395 1079,393 1092,392 1098,391 1102,391 1106,390 1118,389 1126,388 1135,391 1149,395 1154,397 1162,400 1174,405 1178,407 1183,409 1196,414" stroke="#5300ff" stroke-width="4.4"/><polyline points="983,406 991,405 1007,403 1012,403 1022,401 1035,400 1041,399 1047,398 1055,397 1060,397 1065,396 1079,395 1092,394 1098,393 1102,393 1106,392 1118,391 1126,390 1135,393 1149,398 1154,400 1162,403 1174,408 1178,410 1183,412 1196,417" stroke="#5c00ff" stroke-width="4.4"/><polyline points="983,407 991,406 1007,404 1012,404 1022,402 1035,401 1041,400 1047,399 1055,398 1060,398 1065,398 1079,396 1092,395 1098,395 1102,394 1106,394 1118,393 1126,392 1135,395 1149,400 1154,402 1162,405 1174,410 1178,412 1183,415 1196,420" stroke="#6200fc" stroke-width="4.4"/><polyline points="983,408 991,407 1007,405 1012,405 1022,404 1035,402 1041,401 1047,401 1055,400 1060,399 1065,399 1079,398 1092,397 1098,397 1102,396 1106,396 1118,395 1126,394 1135,398 1149,403 1154,405 1162,408 1174,413 1178,415 1183,417 1196,423" stroke="#6600f7" stroke-width="4.4"/><polyline points="983,409 991,408 1007,406 1012,406 1022,405 1035,403 1041,403 1047,402 1055,401 1060,401 1065,400 1079,400 1092,399 1098,398 1102,398 1106,398 1118,397 1126,397 1135,400 1149,405 1154,408 1162,411 1174,416 1178,418 1183,420 1196,426" stroke="#6b00f2" stroke-width="4.4"/><polyline points="983,409 991,409 1007,407 1012,407 1022,406 1035,404 1041,404 1047,403 1055,403 1060,402 1065,402 1079,401 1092,400 1098,400 1102,400 1106,400 1118,399 1126,399 1135,402 1149,408 1154,410 1162,414 1174,419 1178,421 1183,423 1196,429" stroke="#6f00ed" stroke-width="4.4"/><polyline points="983,410 991,410 1007,408 1012,408 1022,407 1035,406 1041,405 1047,405 1055,404 1060,404 1065,403 1079,403 1092,402 1098,402 1102,402 1106,402 1118,401 1126,401 1135,404 1149,411 1154,413 1162,416 1174,422 1178,424 1183,426 1196,432" stroke="#7300e8" stroke-width="4.4"/><polyline points="983,411 991,410 1007,409 1012,409 1022,408 1035,407 1041,406 1047,406 1055,405 1060,405 1065,405 1079,404 1092,404 1098,404 1102,404 1106,403 1118,403 1126,403 1135,407 1149,413 1154,416 1162,419 1174,424 1178,427 1183,429 1196,435" stroke="#7800e3" stroke-width="4.4"/><polyline points="983,412 991,411 1007,410 1012,410 1022,409 1035,408 1041,408 1047,407 1055,407 1060,407 1065,407 1079,406 1092,406 1098,406 1102,406 1106,406 1118,405 1126,405 1135,409 1149,416 1154,418 1162,422 1174,427 1178,429 1183,432 1196,438" stroke="#7a00df" stroke-width="4.2"/><polyline points="983,413 991,413 1007,412 1012,411 1022,411 1035,410 1041,409 1047,409 1055,409 1060,408 1065,408 1079,408 1092,408 1098,408 1102,408 1106,408 1118,408 1126,408 1135,412 1149,418 1154,421 1162,424 1174,430 1178,432 1183,434 1196,441" stroke="#7a00dc" stroke-width="4.2"/><polyline points="983,415 991,414 1007,413 1012,413 1022,412 1035,411 1041,411 1047,411 1055,410 1060,410 1065,410 1079,410 1092,410 1098,410 1102,410 1106,410 1118,410 1126,410 1135,414 1149,421 1154,424 1162,427 1174,433 1178,435 1183,437 1196,443" stroke="#7b00da" stroke-width="4.2"/><polyline points="983,416 991,415 1007,415 1012,414 1022,414 1035,413 1041,413 1047,412 1055,412 1060,412 1065,412 1079,412 1092,412 1098,412 1102,412 1106,412 1118,413 1126,413 1135,417 1149,424 1154,426 1162,430 1174,435 1178,437 1183,440 1196,446" stroke="#7b00d8" stroke-width="4.2"/><polyline points="983,417 991,417 1007,416 1012,416 1022,415 1035,415 1041,414 1047,414 1055,414 1060,414 1065,414 1079,413 1092,414 1098,414 1102,415 1106,415 1118,415 1126,416 1135,420 1149,426 1154,429 1162,432 1174,438 1178,440 1183,442 1196,449" stroke="#7b00d5" stroke-width="4.2"/><polyline points="983,418 991,418 1007,417 1012,417 1022,417 1035,416 1041,416 1047,416 1055,415 1060,415 1065,415 1079,415 1092,416 1098,417 1102,417 1106,417 1118,418 1126,419 1135,423 1149,429 1154,432 1162,435 1174,441 1178,443 1183,445 1196,451" stroke="#7b00d3" stroke-width="4.2"/><polyline points="983,420 991,419 1007,419 1012,419 1022,418 1035,418 1041,418 1047,417 1055,417 1060,417 1065,417 1079,417 1092,418 1098,419 1102,419 1106,419 1118,421 1126,421 1135,425 1149,432 1154,435 1162,438 1174,443 1178,446 1183,448 1196,454" stroke="#7c00d0" stroke-width="4.2"/><polyline points="983,421 991,421 1007,420 1012,420 1022,420 1035,419 1041,419 1047,419 1055,419 1060,419 1065,419 1079,419 1092,420 1098,421 1102,421 1106,422 1118,423 1126,424 1135,428 1149,435 1154,437 1162,441 1174,446 1178,448 1183,451 1196,457" stroke="#7c00ce" stroke-width="4.2"/><polyline points="983,422 991,422 1007,422 1012,422 1022,421 1035,421 1041,421 1047,421 1055,420 1060,420 1065,420 1079,421 1092,422 1098,423 1102,424 1106,424 1118,426 1126,427 1135,431 1149,437 1154,440 1162,443 1174,449 1178,451 1183,453 1196,459" stroke="#7c00cc" stroke-width="4.2"/><polyline points="983,424 991,423 1007,423 1012,423 1022,423 1035,423 1041,422 1047,422 1055,422 1060,422 1065,422 1079,422 1092,424 1098,425 1102,426 1106,426 1118,428 1126,429 1135,433 1149,440 1154,443 1162,446 1174,451 1178,454 1183,456 1196,462" stroke="#7c00c9" stroke-width="4.2"/><polyline points="983,425 991,425 1007,425 1012,425 1022,424 1035,424 1041,424 1047,424 1055,424 1060,424 1065,424 1079,424 1092,426 1098,427 1102,428 1106,429 1118,431 1126,432 1135,436 1149,443 1154,445 1162,449 1174,454 1178,456 1183,459 1196,465" stroke="#7d00c7" stroke-width="4.2"/><polyline points="983,426 991,426 1007,426 1012,426 1022,426 1035,426 1041,426 1047,426 1055,426 1060,426 1065,426 1079,426 1092,428 1098,430 1102,430 1106,431 1118,433 1126,435 1135,439 1149,445 1154,448 1162,451 1174,457 1178,459 1183,461 1196,468" stroke="#7d00c4" stroke-width="4.2"/><polyline points="983,428 991,427 1007,427 1012,427 1022,427 1035,427 1041,427 1047,427 1055,427 1060,427 1065,427 1079,428 1092,430 1098,432 1102,433 1106,433 1118,436 1126,437 1135,441 1149,448 1154,451 1162,454 1174,460 1178,462 1183,464 1196,470" stroke="#7d00c2" stroke-width="4.2"/><polyline points="983,429 991,429 1007,429 1012,429 1022,429 1035,429 1041,429 1047,429 1055,429 1060,429 1065,429 1079,430 1092,433 1098,434 1102,435 1106,436 1118,438 1126,440 1135,444 1149,451 1154,453 1162,457 1174,462 1178,464 1183,467 1196,473" stroke="#7d00c0" stroke-width="4.2"/><polyline points="983,430 991,430 1007,430 1012,430 1022,430 1035,431 1041,431 1047,431 1055,431 1060,431 1065,431 1079,431 1092,435 1098,436 1102,437 1106,438 1118,441 1126,443 1135,447 1149,453 1154,456 1162,459 1174,465 1178,467 1183,469 1196,476" stroke="#7e00bd" stroke-width="4.2"/><polyline points="983,431 991,432 1007,432 1012,432 1022,432 1035,432 1041,432 1047,432 1055,432 1060,433 1065,433 1079,433 1092,437 1098,438 1102,439 1106,440 1118,444 1126,446 1135,450 1149,456 1154,459 1162,462 1174,468 1178,470 1183,472 1196,478" stroke="#7e00bb" stroke-width="4.2"/><polyline points="983,433 991,433 1007,433 1012,433 1022,433 1035,434 1041,434 1047,434 1055,434 1060,434 1065,434 1079,435 1092,439 1098,440 1102,442 1106,443 1118,446 1126,448 1135,452 1149,459 1154,462 1162,465 1174,470 1178,473 1183,475 1196,481" stroke="#7e00b9" stroke-width="4.2"/><polyline points="983,434 991,434 1007,435 1012,435 1022,435 1035,435 1041,435 1047,436 1055,436 1060,436 1065,436 1079,437 1092,441 1098,443 1102,444 1106,445 1118,449 1126,451 1135,455 1149,462 1154,464 1162,468 1174,473 1178,475 1183,477 1196,484" stroke="#7e00b6" stroke-width="4.2"/><polyline points="983,435 991,436 1007,436 1012,436 1022,436 1035,437 1041,437 1047,437 1055,437 1060,438 1065,438 1079,439 1092,443 1098,445 1102,446 1106,447 1118,451 1126,454 1135,458 1149,464 1154,467 1162,470 1174,476 1178,478 1183,480 1196,486" stroke="#7f00b4" stroke-width="4.2"/><polyline points="983,437 991,437 1007,437 1012,438 1022,438 1035,438 1041,439 1047,439 1055,439 1060,439 1065,440 1079,440 1092,445 1098,447 1102,448 1106,450 1118,454 1126,456 1135,460 1149,467 1154,470 1162,473 1174,478 1178,481 1183,483 1196,489" stroke="#7f00b1" stroke-width="4.2"/><polyline points="983,438 991,438 1007,439 1012,439 1022,439 1035,440 1041,440 1047,441 1055,441 1060,441 1065,441 1079,442 1092,447 1098,449 1102,450 1106,452 1118,456 1126,459 1135,463 1149,470 1154,472 1162,476 1174,481 1178,483 1183,486 1196,492" stroke="#7f00af" stroke-width="4.2"/><polyline points="983,439 991,440 1007,440 1012,441 1022,441 1035,442 1041,442 1047,442 1055,443 1060,443 1065,443 1079,444 1092,449 1098,451 1102,453 1106,454 1118,459 1126,462 1135,466 1149,472 1154,475 1162,478 1174,484 1178,486 1183,488 1196,495" stroke="#8000ad" stroke-width="4.2"/><polyline points="983,440 991,441 1007,442 1012,442 1022,443 1035,443 1041,444 1047,444 1055,444 1060,445 1065,445 1079,446 1092,451 1098,453 1102,455 1106,457 1118,461 1126,465 1135,468 1149,475 1154,478 1162,481 1174,487 1178,489 1183,491 1196,497" stroke="#8000aa" stroke-width="4.2"/><polyline points="983,442 991,442 1007,443 1012,443 1022,444 1035,445 1041,445 1047,446 1055,446 1060,446 1065,447 1079,448 1092,453 1098,456 1102,457 1106,459 1118,464 1126,467 1135,471 1149,478 1154,480 1162,484 1174,489 1178,491 1183,494 1196,500" stroke="#8000a8" stroke-width="4.2"/><polyline points="983,443 991,444 1007,445 1012,445 1022,446 1035,446 1041,447 1047,447 1055,448 1060,448 1065,448 1079,449 1092,455 1098,458 1102,459 1106,461 1118,467 1126,470 1135,474 1149,480 1154,483 1162,486 1174,492 1178,494 1183,496 1196,503" stroke="#7f00a6" stroke-width="4.2"/><polyline points="983,444 991,445 1007,446 1012,446 1022,447 1035,448 1041,448 1047,449 1055,449 1060,450 1065,450 1079,451 1092,457 1098,460 1102,462 1106,464 1118,469 1126,473 1135,477 1149,483 1154,486 1162,489 1174,495 1178,497 1183,499 1196,505" stroke="#7f00a5" stroke-width="4.2"/><polyline points="983,446 991,447 1007,448 1012,448 1022,449 1035,450 1041,450 1047,451 1055,451 1060,452 1065,452 1079,453 1092,459 1098,462 1102,464 1106,466 1118,472 1126,475 1135,479 1149,486 1154,489 1162,492 1174,497 1178,500 1183,502 1196,508" stroke="#7e00a3" stroke-width="4.2"/><polyline points="983,448 991,449 1007,450 1012,450 1022,451 1035,452 1041,452 1047,453 1055,453 1060,454 1065,454 1079,455 1092,462 1098,464 1102,466 1106,468 1118,474 1126,478 1135,482 1149,489 1154,491 1162,495 1174,500 1178,502 1183,505 1196,511" stroke="#7e00a1" stroke-width="4.2"/><polyline points="983,450 991,451 1007,452 1012,452 1022,453 1035,454 1041,455 1047,455 1055,456 1060,456 1065,456 1079,458 1092,464 1098,467 1102,469 1106,471 1118,477 1126,480 1135,484 1149,491 1154,494 1162,497 1174,503 1178,505 1183,508 1196,514" stroke="#7d00a0" stroke-width="4.2"/><polyline points="983,452 991,453 1007,454 1012,454 1022,455 1035,456 1041,457 1047,457 1055,458 1060,458 1065,459 1079,460 1092,466 1098,469 1102,471 1106,473 1118,479 1126,483 1135,487 1149,494 1154,497 1162,500 1174,506 1178,508 1183,510 1196,517" stroke="#7c009e" stroke-width="4.2"/><polyline points="983,454 991,455 1007,456 1012,456 1022,457 1035,458 1041,459 1047,459 1055,460 1060,460 1065,461 1079,462 1092,468 1098,471 1102,473 1106,475 1118,481 1126,485 1135,490 1149,497 1154,499 1162,503 1174,509 1178,511 1183,513 1196,520" stroke="#7c009c" stroke-width="4.2"/><polyline points="983,456 991,457 1007,458 1012,458 1022,459 1035,460 1041,461 1047,461 1055,462 1060,463 1065,463 1079,464 1092,471 1098,474 1102,476 1106,478 1118,484 1126,488 1135,492 1149,499 1154,502 1162,506 1174,512 1178,514 1183,516 1196,523" stroke="#7b009a" stroke-width="4.2"/><polyline points="983,458 991,459 1007,460 1012,460 1022,461 1035,462 1041,463 1047,464 1055,464 1060,465 1065,465 1079,466 1092,473 1098,476 1102,478 1106,480 1118,486 1126,490 1135,495 1149,502 1154,505 1162,508 1174,514 1178,517 1183,519 1196,526" stroke="#7a0098" stroke-width="4.2"/><polyline points="983,460 991,461 1007,462 1012,463 1022,463 1035,465 1041,465 1047,466 1055,466 1060,467 1065,467 1079,468 1092,475 1098,478 1102,480 1106,483 1118,489 1126,493 1135,497 1149,504 1154,507 1162,511 1174,517 1178,520 1183,522 1196,529" stroke="#7a0097" stroke-width="4.2"/><polyline points="983,462 991,463 1007,464 1012,465 1022,465 1035,467 1041,467 1047,468 1055,469 1060,469 1065,469 1079,471 1092,478 1098,481 1102,483 1106,485 1118,491 1126,495 1135,500 1149,507 1154,510 1162,514 1174,520 1178,522 1183,525 1196,532" stroke="#790095" stroke-width="4.2"/><polyline points="983,464 991,465 1007,466 1012,467 1022,468 1035,469 1041,469 1047,470 1055,471 1060,471 1065,472 1079,473 1092,480 1098,483 1102,485 1106,487 1118,494 1126,498 1135,502 1149,510 1154,513 1162,517 1174,523 1178,525 1183,528 1196,535" stroke="#780093" stroke-width="4.2"/><polyline points="983,466 991,467 1007,468 1012,469 1022,470 1035,471 1041,471 1047,472 1055,473 1060,473 1065,474 1079,475 1092,482 1098,485 1102,488 1106,490 1118,496 1126,500 1135,505 1149,512 1154,516 1162,519 1174,526 1178,528 1183,531 1196,538" stroke="#780091" stroke-width="4.2"/><polyline points="983,468 991,469 1007,470 1012,471 1022,472 1035,473 1041,474 1047,474 1055,475 1060,475 1065,476 1079,477 1092,484 1098,488 1102,490 1106,492 1118,499 1126,503 1135,507 1149,515 1154,518 1162,522 1174,528 1178,531 1183,534 1196,541" stroke="#770090" stroke-width="4.2"/><polyline points="983,470 991,471 1007,472 1012,473 1022,474 1035,475 1041,476 1047,476 1055,477 1060,478 1065,478 1079,480 1092,487 1098,490 1102,492 1106,494 1118,501 1126,505 1135,510 1149,518 1154,521 1162,525 1174,531 1178,534 1183,536 1196,544" stroke="#76008e" stroke-width="4.2"/><polyline points="983,472 991,473 1007,474 1012,475 1022,476 1035,477 1041,478 1047,478 1055,479 1060,480 1065,480 1079,482 1092,489 1098,492 1102,495 1106,497 1118,504 1126,508 1135,513 1149,520 1154,524 1162,528 1174,534 1178,537 1183,539 1196,547" stroke="#76008c" stroke-width="4.2"/><polyline points="983,474 991,475 1007,476 1012,477 1022,478 1035,479 1041,480 1047,481 1055,481 1060,482 1065,483 1079,484 1092,491 1098,495 1102,497 1106,499 1118,506 1126,510 1135,515 1149,523 1154,526 1162,530 1174,537 1178,540 1183,542 1196,550" stroke="#75008a" stroke-width="4.2"/></g>
<g clip-path="url(#cp2)" fill="none" stroke="#383838" stroke-width="1.0" opacity="0.7"><polyline points="982.8,411.4 990.8,410.8 1007.4,409.6 1012.2,409.2 1021.7,408.5 1034.9,407.5 1041.0,407.0 1047.1,406.6 1054.9,406.0 1060.0,405.8 1065.4,405.7 1078.6,405.2 1091.9,404.8 1098.0,404.6 1102.0,404.5 1106.0,404.3 1118.3,403.9 1126.0,403.7 1134.6,407.7 1148.8,414.3 1154.5,417.0 1161.6,420.3 1173.5,425.8 1178.2,428.0 1183.0,430.3 1196.5,436.6"/><polyline points="982.8,387.9 990.8,385.3 1007.4,380.0 1012.2,378.5 1021.7,375.4 1034.9,371.2 1041.0,369.2 1047.1,367.3 1054.9,364.8 1060.0,363.1 1065.4,361.4 1078.6,357.2 1091.9,352.9 1098.0,351.0 1102.0,349.7 1106.0,348.4 1118.3,344.5 1126.0,342.0 1134.6,340.6 1148.8,338.2 1154.5,337.2 1161.6,339.0 1173.5,342.0 1178.2,343.2 1183.0,344.4 1196.5,347.8"/><polyline points="982.8,342.6 990.8,340.5 1007.4,336.2 1012.2,334.9 1021.7,332.4 1034.9,328.9 1041.0,327.3 1047.1,325.7 1054.9,323.7 1060.0,322.4 1065.4,320.9 1078.6,315.8 1091.9,310.5 1098.0,308.1 1102.0,306.5 1106.0,304.9 1118.3,300.0 1126.0,296.9 1134.6,293.4 1148.8,287.6 1154.5,285.3 1161.6,282.4 1173.5,277.5 1178.2,275.6 1183.0,273.6 1196.5,268.1"/><polyline points="982.8,311.5 990.8,309.5 1007.4,305.3 1012.2,304.1 1021.7,301.7 1034.9,298.4 1041.0,296.8 1047.1,295.3 1054.9,293.4 1060.0,292.1 1065.4,290.7 1078.6,287.4 1091.9,281.4 1098.0,278.7 1102.0,276.9 1106.0,275.1 1118.3,269.6 1126.0,266.1 1134.6,262.5 1148.8,256.6 1154.5,254.2 1161.6,251.3 1173.5,246.4 1178.2,244.4 1183.0,242.4 1196.5,236.8"/><polyline points="982.8,277.2 990.8,274.4 1007.4,268.4 1012.2,266.7 1021.7,263.3 1034.9,258.6 1041.0,256.4 1047.1,254.2 1054.9,251.5 1060.0,249.6 1065.4,247.7 1078.6,243.0 1091.9,238.2 1098.0,236.1 1102.0,234.6 1106.0,233.2 1118.3,228.8 1126.0,226.0 1134.6,222.9 1148.8,217.7 1154.5,215.7 1161.6,213.1 1173.5,208.8 1178.2,207.1 1183.0,205.4 1196.5,200.5"/><polyline points="982.8,238.5 990.8,235.8 1007.4,230.2 1012.2,228.6 1021.7,225.5 1034.9,221.0 1041.0,219.0 1047.1,217.0 1054.9,214.4 1060.0,212.6 1065.4,210.8 1078.6,206.4 1091.9,202.0 1098.0,199.9 1102.0,198.6 1106.0,197.3 1118.3,193.2 1126.0,190.6 1134.6,187.8 1148.8,183.0 1154.5,181.1 1161.6,178.8 1173.5,174.8 1178.2,173.2 1183.0,171.6 1196.5,167.2"/><polyline points="982.8,198.9 990.8,196.3 1007.4,191.0 1012.2,189.5 1021.7,186.4 1034.9,182.2 1041.0,180.3 1047.1,178.3 1054.9,175.8 1060.0,174.2 1065.4,172.4 1078.6,168.2 1091.9,164.0 1098.0,162.0 1102.0,160.9 1106.0,159.8 1118.3,156.3 1126.0,154.2 1134.6,151.8 1148.8,147.8 1154.5,146.2 1161.6,144.2 1173.5,140.9 1178.2,139.6 1183.0,138.2 1196.5,134.5"/><polyline points="982.8,156.5 990.8,154.4 1007.4,150.1 1012.2,148.8 1021.7,146.3 1034.9,142.9 1041.0,141.3 1047.1,139.7 1054.9,137.7 1060.0,136.3 1065.4,134.9 1078.6,131.5 1091.9,128.0 1098.0,126.4 1102.0,125.3 1106.0,124.2 1118.3,120.8 1126.0,118.7 1134.6,116.3 1148.8,112.4 1154.5,110.8 1161.6,108.9 1173.5,105.6 1178.2,104.3 1183.0,103.0 1196.5,99.3"/><polyline points="982.8,113.9 990.8,112.1 1007.4,108.3 1012.2,107.1 1021.7,105.0 1034.9,101.9 1041.0,100.5 1047.1,99.1 1054.9,97.3 1060.0,96.1 1065.4,94.9 1078.6,91.9 1091.9,88.8 1098.0,87.6 1102.0,86.8 1106.0,86.1 1118.3,83.7 1126.0,82.2 1134.6,80.6 1148.8,77.8 1154.5,76.7 1161.6,75.3 1173.5,73.0 1178.2,72.1 1183.0,71.2 1196.5,68.6"/></g>
<polygon points="1024.0,461.8 1038.3,463.0 1100.0,355.0 1137.0,291.0 1160.0,250.0 1157.0,250.0 1133.5,291.0 1094.0,355.0" fill="url(#stripeB)"/>
<polygon points="1044.0,464.0 1049.0,464.5 1108.0,360.0 1152.0,285.0 1168.0,250.0 1166.0,250.0 1149.0,287.0 1104.0,360.0" fill="url(#stripeB)"/>
<polygon points="1050.0,464.3 1056.0,465.5 1117.0,360.0 1156.0,289.0 1170.0,255.0 1168.0,255.0 1153.0,290.0 1112.0,360.0" fill="url(#stripeB)"/>
<polygon points="1088.0,477.2 1097.6,477.2 1145.0,360.0 1169.0,291.0 1178.0,255.0 1176.0,255.0 1166.0,291.0 1141.0,360.0" fill="url(#stripeB)"/>
<polygon points="1110.0,498.5 1114.0,498.5 1161.0,360.0 1175.0,315.0 1180.0,290.0 1178.0,290.0 1172.0,315.0 1157.0,360.0" fill="url(#stripeB)"/>
<polyline points="987.6,458.8 1005.4,392.7 1019.0,302.0" fill="none" stroke="#8b8b8b" stroke-width="1.5" stroke-linejoin="round"/>
<polyline points="1000.0,458.0 1016.0,400.0 1030.0,330.0" fill="none" stroke="#8a8aa8" stroke-width="1.0" stroke-linejoin="round"/>
<line x1="840.3" y1="52.7" x2="854.5" y2="412.0" stroke="#000" stroke-width="3" stroke-linecap="square"/>
<line x1="854.5" y1="412.0" x2="1137.0" y2="516.4" stroke="#000" stroke-width="3.2" stroke-linecap="square"/>
<line x1="1137.0" y1="516.4" x2="1362.0" y2="397.0" stroke="#000" stroke-width="3.2" stroke-linecap="square"/>
<line x1="854.5" y1="412.0" x2="848.0" y2="414.6" stroke="#000" stroke-width="2.2"/>
<text transform="matrix(0.865 -0.341 -0.060 0.998 846.6 422.3)" font-family="Liberation Sans" font-size="19" font-weight="bold" font-style="normal" text-anchor="end" fill="#000" dy="0">0</text>
<line x1="851.5" y1="336.8" x2="844.9" y2="339.0" stroke="#000" stroke-width="2.2"/>
<text transform="matrix(0.879 -0.303 -0.060 0.998 843.5 346.7)" font-family="Liberation Sans" font-size="19" font-weight="bold" font-style="normal" text-anchor="end" fill="#000" dy="0">1</text>
<line x1="848.5" y1="259.0" x2="841.7" y2="261.0" stroke="#000" stroke-width="2.2"/>
<text transform="matrix(0.892 -0.262 -0.060 0.998 840.3 268.6)" font-family="Liberation Sans" font-size="19" font-weight="bold" font-style="normal" text-anchor="end" fill="#000" dy="0">2</text>
<line x1="845.3" y1="178.6" x2="838.5" y2="180.2" stroke="#000" stroke-width="2.2"/>
<text transform="matrix(0.904 -0.218 -0.060 0.998 837.0 187.8)" font-family="Liberation Sans" font-size="19" font-weight="bold" font-style="normal" text-anchor="end" fill="#000" dy="0">3</text>
<line x1="842.0" y1="95.4" x2="835.1" y2="96.7" stroke="#000" stroke-width="2.2"/>
<text transform="matrix(0.914 -0.171 -0.060 0.998 833.6 104.2)" font-family="Liberation Sans" font-size="19" font-weight="bold" font-style="normal" text-anchor="end" fill="#000" dy="0">4</text>
<line x1="882.0" y1="422.2" x2="875.5" y2="424.8" stroke="#000" stroke-width="2.2"/>
<text transform="matrix(1.205 -0.488 0.891 0.329 864.4 429.3)" font-family="Liberation Sans" font-size="15" font-weight="bold" font-style="normal" text-anchor="middle" fill="#000" dy="5">-12</text>
<line x1="912.7" y1="431.7" x2="908.1" y2="433.6" stroke="#000" stroke-width="2.2"/>
<line x1="939.7" y1="443.5" x2="933.2" y2="446.2" stroke="#000" stroke-width="2.2"/>
<text transform="matrix(1.194 -0.514 0.891 0.329 922.2 451.0)" font-family="Liberation Sans" font-size="15" font-weight="bold" font-style="normal" text-anchor="middle" fill="#000" dy="5">-10</text>
<line x1="972.2" y1="453.6" x2="967.6" y2="455.7" stroke="#000" stroke-width="2.2"/>
<line x1="1001.1" y1="466.2" x2="994.7" y2="469.1" stroke="#000" stroke-width="2.2"/>
<text transform="matrix(1.181 -0.543 0.891 0.329 983.8 474.1)" font-family="Liberation Sans" font-size="15" font-weight="bold" font-style="normal" text-anchor="middle" fill="#000" dy="5">-8</text>
<line x1="1035.6" y1="477.0" x2="1031.1" y2="479.2" stroke="#000" stroke-width="2.2"/>
<line x1="1066.7" y1="490.4" x2="1060.5" y2="493.5" stroke="#000" stroke-width="2.2"/>
<text transform="matrix(1.166 -0.574 0.891 0.329 1049.7 498.8)" font-family="Liberation Sans" font-size="15" font-weight="bold" font-style="normal" text-anchor="middle" fill="#000" dy="5">-6</text>
<line x1="1103.5" y1="502.1" x2="1099.0" y2="504.3" stroke="#000" stroke-width="2.2"/>
<line x1="1137.0" y1="516.4" x2="1130.8" y2="519.7" stroke="#000" stroke-width="2.2"/>
<text transform="matrix(1.148 -0.609 0.891 0.329 1120.2 525.3)" font-family="Liberation Sans" font-size="15" font-weight="bold" font-style="normal" text-anchor="middle" fill="#000" dy="5">-4</text>
<line x1="1135.6" y1="515.9" x2="1143.6" y2="518.8" stroke="#000" stroke-width="2.2"/>
<text transform="matrix(1.360 0.503 -0.751 0.398 1145.6 522.0)" font-family="Liberation Sans" font-size="14" font-weight="bold" font-style="normal" text-anchor="start" fill="#000" dy="0">0.0000</text>
<line x1="1158.1" y1="503.1" x2="1162.9" y2="504.8" stroke="#000" stroke-width="2.2"/>
<line x1="1181.9" y1="491.3" x2="1189.9" y2="494.1" stroke="#000" stroke-width="2.2"/>
<text transform="matrix(1.329 0.465 -0.751 0.398 1192.0 497.2)" font-family="Liberation Sans" font-size="14" font-weight="bold" font-style="normal" text-anchor="start" fill="#000" dy="0">0.0005</text>
<line x1="1203.1" y1="479.3" x2="1207.8" y2="480.9" stroke="#000" stroke-width="2.2"/>
<line x1="1225.6" y1="468.2" x2="1233.6" y2="470.9" stroke="#000" stroke-width="2.2"/>
<text transform="matrix(1.298 0.431 -0.751 0.398 1235.7 473.8)" font-family="Liberation Sans" font-size="14" font-weight="bold" font-style="normal" text-anchor="start" fill="#000" dy="0">0.0010</text>
<line x1="1245.5" y1="456.8" x2="1250.3" y2="458.3" stroke="#000" stroke-width="2.2"/>
<line x1="1266.8" y1="446.3" x2="1274.9" y2="448.9" stroke="#000" stroke-width="2.2"/>
<text transform="matrix(1.268 0.400 -0.751 0.398 1277.0 451.8)" font-family="Liberation Sans" font-size="14" font-weight="bold" font-style="normal" text-anchor="start" fill="#000" dy="0">0.0015</text>
<line x1="1285.6" y1="435.5" x2="1290.4" y2="437.0" stroke="#000" stroke-width="2.2"/>
<line x1="1305.8" y1="425.6" x2="1314.0" y2="428.1" stroke="#000" stroke-width="2.2"/>
<text transform="matrix(1.239 0.373 -0.751 0.398 1316.1 430.9)" font-family="Liberation Sans" font-size="14" font-weight="bold" font-style="normal" text-anchor="start" fill="#000" dy="0">0.0020</text>
<line x1="1323.6" y1="415.4" x2="1328.4" y2="416.8" stroke="#000" stroke-width="2.2"/>
<line x1="1342.8" y1="406.0" x2="1351.0" y2="408.4" stroke="#000" stroke-width="2.2"/>
<text transform="matrix(1.211 0.348 -0.751 0.398 1353.1 411.2)" font-family="Liberation Sans" font-size="14" font-weight="bold" font-style="normal" text-anchor="start" fill="#000" dy="0">0.0025</text>
<rect x="1404.3" y="33.2" width="33.700000000000045" height="342.3" fill="#fff" stroke="#000" stroke-width="1.6"/>
<rect x="1404.3" y="36.1" width="33.700000000000045" height="335.5" fill="url(#bcb)"/>
<rect x="1404.3" y="371.6" width="33.700000000000045" height="3.8999999999999773" fill="#000"/>
<rect x="1404.3" y="33.2" width="33.700000000000045" height="342.3" fill="none" stroke="#222" stroke-width="1.6"/>
<line x1="1438.0" y1="36.1" x2="1446.0" y2="36.1" stroke="#000" stroke-width="1.6"/>
<text x="1451.5" y="41.1" font-family="Liberation Sans" font-size="14" font-weight="bold">4.500</text>
<line x1="1438.0" y1="69.7" x2="1446.0" y2="69.7" stroke="#000" stroke-width="1.6"/>
<text x="1451.5" y="74.7" font-family="Liberation Sans" font-size="14" font-weight="bold">4.050</text>
<line x1="1438.0" y1="103.2" x2="1446.0" y2="103.2" stroke="#000" stroke-width="1.6"/>
<text x="1451.5" y="108.2" font-family="Liberation Sans" font-size="14" font-weight="bold">3.600</text>
<line x1="1438.0" y1="136.8" x2="1446.0" y2="136.8" stroke="#000" stroke-width="1.6"/>
<text x="1451.5" y="141.8" font-family="Liberation Sans" font-size="14" font-weight="bold">3.150</text>
<line x1="1438.0" y1="170.3" x2="1446.0" y2="170.3" stroke="#000" stroke-width="1.6"/>
<text x="1451.5" y="175.3" font-family="Liberation Sans" font-size="14" font-weight="bold">2.700</text>
<line x1="1438.0" y1="203.8" x2="1446.0" y2="203.8" stroke="#000" stroke-width="1.6"/>
<text x="1451.5" y="208.8" font-family="Liberation Sans" font-size="14" font-weight="bold">2.250</text>
<line x1="1438.0" y1="237.4" x2="1446.0" y2="237.4" stroke="#000" stroke-width="1.6"/>
<text x="1451.5" y="242.4" font-family="Liberation Sans" font-size="14" font-weight="bold">1.800</text>
<line x1="1438.0" y1="270.9" x2="1446.0" y2="270.9" stroke="#000" stroke-width="1.6"/>
<text x="1451.5" y="275.9" font-family="Liberation Sans" font-size="14" font-weight="bold">1.350</text>
<line x1="1438.0" y1="304.5" x2="1446.0" y2="304.5" stroke="#000" stroke-width="1.6"/>
<text x="1451.5" y="309.5" font-family="Liberation Sans" font-size="14" font-weight="bold">0.9000</text>
<line x1="1438.0" y1="338.1" x2="1446.0" y2="338.1" stroke="#000" stroke-width="1.6"/>
<text x="1451.5" y="343.1" font-family="Liberation Sans" font-size="14" font-weight="bold">0.4500</text>
<line x1="1438.0" y1="371.6" x2="1446.0" y2="371.6" stroke="#000" stroke-width="1.6"/>
<text x="1451.5" y="376.6" font-family="Liberation Sans" font-size="14" font-weight="bold">0.000</text>
<text x="1349.1" y="17.6" font-family="Liberation Sans" font-size="22.5" font-weight="bold">Color map ZT</text>
<text transform="translate(816.4,246.5) rotate(87.0) scale(1.13,1)" font-family="Liberation Sans" font-size="19" font-weight="bold" text-anchor="middle" dominant-baseline="central">Electronic ZT</text>
<text x="1088.5" y="570.5" font-family="Liberation Sans" font-size="22" font-weight="bold" text-anchor="middle">(b)</text>
<text transform="matrix(1.050 0.391 -0.784 0.442 940.7 486.6)" font-family="Liberation Sans" font-size="16" font-weight="bold" font-style="normal" text-anchor="middle" fill="#000" dy="0">Fermi level (eV)</text>
<text transform="matrix(0.834 -0.455 0.751 0.661 1343.0 484.0)" font-family="Liberation Sans" font-size="16" font-weight="bold" font-style="normal" text-anchor="middle" fill="#000" dy="0">Power factor (W/K2 m)</text>
<line x1="109.4" y1="993.3" x2="97.7" y2="644.5" stroke="#d4d4d4" stroke-width="1"/>
<line x1="109.9" y1="993.1" x2="389.0" y2="1088.3" stroke="#d4d4d4" stroke-width="1"/>
<line x1="165.0" y1="972.8" x2="156.5" y2="635.1" stroke="#d4d4d4" stroke-width="1"/>
<line x1="165.7" y1="972.5" x2="441.9" y2="1060.4" stroke="#d4d4d4" stroke-width="1"/>
<line x1="217.0" y1="953.6" x2="211.3" y2="626.4" stroke="#d4d4d4" stroke-width="1"/>
<line x1="217.6" y1="953.4" x2="490.6" y2="1034.9" stroke="#d4d4d4" stroke-width="1"/>
<line x1="265.7" y1="935.6" x2="262.4" y2="618.3" stroke="#d4d4d4" stroke-width="1"/>
<line x1="266.0" y1="935.5" x2="535.6" y2="1011.2" stroke="#d4d4d4" stroke-width="1"/>
<line x1="47.3" y1="955.7" x2="288.6" y2="875.0" stroke="#d4d4d4" stroke-width="1"/>
<line x1="288.6" y1="875.7" x2="559.5" y2="943.1" stroke="#d4d4d4" stroke-width="1"/>
<line x1="44.7" y1="895.0" x2="288.3" y2="822.3" stroke="#d4d4d4" stroke-width="1"/>
<line x1="288.3" y1="823.4" x2="562.2" y2="884.7" stroke="#d4d4d4" stroke-width="1"/>
<line x1="42.1" y1="833.3" x2="287.9" y2="768.8" stroke="#d4d4d4" stroke-width="1"/>
<line x1="287.9" y1="770.0" x2="565.1" y2="824.9" stroke="#d4d4d4" stroke-width="1"/>
<line x1="39.5" y1="770.5" x2="287.5" y2="714.4" stroke="#d4d4d4" stroke-width="1"/>
<line x1="287.5" y1="715.5" x2="567.9" y2="763.7" stroke="#d4d4d4" stroke-width="1"/>
<line x1="36.8" y1="706.5" x2="287.1" y2="659.2" stroke="#d4d4d4" stroke-width="1"/>
<line x1="287.1" y1="659.8" x2="570.9" y2="701.0" stroke="#d4d4d4" stroke-width="1"/>
<line x1="315.7" y1="934.3" x2="315.2" y2="617.9" stroke="#d4d4d4" stroke-width="1"/>
<line x1="76.9" y1="1025.3" x2="315.4" y2="934.2" stroke="#d4d4d4" stroke-width="1"/>
<line x1="371.2" y1="949.4" x2="374.3" y2="625.2" stroke="#d4d4d4" stroke-width="1"/>
<line x1="133.9" y1="1046.2" x2="370.5" y2="949.2" stroke="#d4d4d4" stroke-width="1"/>
<line x1="429.8" y1="965.4" x2="436.8" y2="632.9" stroke="#d4d4d4" stroke-width="1"/>
<line x1="195.0" y1="1068.6" x2="428.9" y2="965.2" stroke="#d4d4d4" stroke-width="1"/>
<line x1="491.5" y1="982.3" x2="503.0" y2="641.1" stroke="#d4d4d4" stroke-width="1"/>
<line x1="260.6" y1="1092.7" x2="490.9" y2="982.1" stroke="#d4d4d4" stroke-width="1"/>
<line x1="34.6" y1="654.5" x2="286.8" y2="614.4" stroke="#555" stroke-width="1.1"/>
<line x1="286.8" y1="614.4" x2="573.3" y2="649.8" stroke="#555" stroke-width="1.1"/>
<line x1="573.3" y1="649.8" x2="556.8" y2="1000.1" stroke="#555" stroke-width="1.1"/>
<line x1="286.8" y1="614.4" x2="289.0" y2="927.0" stroke="#555" stroke-width="1.1"/>
<line x1="49.8" y1="1015.3" x2="289.0" y2="927.0" stroke="#555" stroke-width="1.1"/>
<line x1="289.0" y1="927.0" x2="556.8" y2="1000.1" stroke="#555" stroke-width="1.1"/>
<polygon points="49.8,1015.3 211.5,990.5 215.0,1000.0 179.0,1059.6 179.0,1062.8" fill="#8b8b8b"/>
<polygon points="50.7,1014.8 211.2,990.8 212.0,995.5 86.8,1018.9 53.4,1015.5" fill="#6a006e"/>
<polygon points="86.8,1020.2 210.0,998.8 210.0,1002.8 86.8,1026.9" fill="#6a006e"/>
<polygon points="123.0,1033.6 205.0,1012.5 205.0,1014.5 125.0,1035.0" fill="#6a006e"/>
<polygon points="127.0,1035.0 200.0,1022.9 179.1,1060.3" fill="#6a006e"/>
<polygon points="179.0,1055.0 240.0,1060.0 300.0,1075.0 344.7,1100.0 331.2,1118.6 179.0,1062.8" fill="#6a006e"/>
<polygon points="212.0,1069.0 260.0,1064.0 290.0,1068.0 300.0,1072.0 310.0,1094.0 330.0,1104.0 344.7,1107.4 331.2,1118.6 250.0,1089.0" fill="#8b8b8b"/>
<polygon points="215.0,1075.0 238.0,1070.0 250.0,1082.0" fill="#6a006e"/>
<polygon points="262.0,1070.0 295.0,1069.0 276.0,1076.0" fill="#6a006e"/>
<g clip-path="url(#cp3)" fill="none" stroke-linejoin="round"><polyline points="173,680 190,677 210,672 219,670 239,666 260,662 268,660 280,657 284,656 290,655 300,653 306,652 312,650 321,648 326,647 331,646 336,645 345,643 350,642 355,641 365,639 370,638 374,637 380,636 384,635 388,634 397,632 408,630" stroke="#580000" stroke-width="4.4"/><polyline points="173,683 190,679 210,675 219,673 239,669 260,664 268,663 280,660 284,659 290,658 300,656 306,654 312,653 321,651 326,650 331,649 336,648 345,646 350,645 355,644 365,642 370,641 374,640 380,638 384,637 388,637 397,635 408,632" stroke="#5c0000" stroke-width="4.4"/><polyline points="173,686 190,682 210,678 219,676 239,671 260,667 268,665 280,663 284,662 290,660 300,658 306,657 312,656 321,654 326,653 331,652 336,651 345,649 350,648 355,646 365,644 370,643 374,642 380,641 384,640 388,639 397,637 408,635" stroke="#600000" stroke-width="4.4"/><polyline points="173,688 190,685 210,680 219,678 239,674 260,670 268,668 280,665 284,664 290,663 300,661 306,660 312,658 321,657 326,655 331,654 336,653 345,651 350,650 355,649 365,647 370,646 374,645 380,644 384,643 388,642 397,640 408,638" stroke="#640000" stroke-width="4.4"/><polyline points="173,691 190,687 210,683 219,681 239,677 260,672 268,671 280,668 284,667 290,666 300,664 306,663 312,661 321,659 326,658 331,657 336,656 345,654 350,653 355,652 365,650 370,649 374,648 380,647 384,646 388,645 397,643 408,641" stroke="#680000" stroke-width="4.4"/><polyline points="173,693 190,690 210,686 219,684 239,679 260,675 268,673 280,671 284,670 290,668 300,666 306,665 312,664 321,662 326,661 331,660 336,659 345,657 350,656 355,655 365,653 370,652 374,651 380,649 384,649 388,648 397,646 408,644" stroke="#6c0000" stroke-width="4.4"/><polyline points="173,696 190,693 210,688 219,686 239,682 260,678 268,676 280,673 284,673 290,671 300,669 306,668 312,667 321,665 326,664 331,663 336,662 345,660 350,659 355,658 365,655 370,654 374,653 380,652 384,651 388,651 397,649 408,646" stroke="#700000" stroke-width="4.4"/><polyline points="173,699 190,695 210,691 219,689 239,685 260,680 268,679 280,676 284,675 290,674 300,672 306,671 312,669 321,667 326,666 331,665 336,664 345,662 350,661 355,660 365,658 370,657 374,656 380,655 384,654 388,653 397,651 408,649" stroke="#740000" stroke-width="4.4"/><polyline points="173,701 190,698 210,693 219,692 239,687 260,683 268,681 280,679 284,678 290,677 300,675 306,673 312,672 321,670 326,669 331,668 336,667 345,665 350,664 355,663 365,661 370,660 374,659 380,658 384,657 388,656 397,654 408,652" stroke="#780000" stroke-width="4.4"/><polyline points="173,704 190,700 210,696 219,694 239,690 260,686 268,684 280,682 284,681 290,679 300,677 306,676 312,675 321,673 326,672 331,671 336,670 345,668 350,667 355,666 365,664 370,663 374,662 380,661 384,660 388,659 397,657 408,655" stroke="#7c0000" stroke-width="4.4"/><polyline points="173,707 190,703 210,699 219,697 239,693 260,688 268,687 280,684 284,683 290,682 300,680 306,679 312,678 321,676 326,675 331,674 336,673 345,671 350,670 355,669 365,666 370,665 374,665 380,663 384,663 388,662 397,660 408,658" stroke="#800000" stroke-width="4.4"/><polyline points="173,709 190,706 210,701 219,700 239,696 260,691 268,690 280,687 284,686 290,685 300,683 306,682 312,680 321,678 326,677 331,676 336,675 345,673 350,672 355,671 365,669 370,668 374,667 380,666 384,665 388,664 397,663 408,660" stroke="#850000" stroke-width="4.4"/><polyline points="173,712 190,708 210,704 219,702 239,698 260,694 268,692 280,690 284,689 290,688 300,686 306,684 312,683 321,681 326,680 331,679 336,678 345,676 350,675 355,674 365,672 370,671 374,670 380,669 384,668 388,667 397,665 408,663" stroke="#890000" stroke-width="4.4"/><polyline points="173,715 190,711 210,707 219,705 239,701 260,697 268,695 280,692 284,691 290,690 300,688 306,687 312,686 321,684 326,683 331,682 336,681 345,679 350,678 355,677 365,675 370,674 374,673 380,672 384,671 388,670 397,668 408,666" stroke="#8d0000" stroke-width="4.4"/><polyline points="173,717 190,714 210,709 219,708 239,704 260,699 268,698 280,695 284,694 290,693 300,691 306,690 312,688 321,687 326,686 331,685 336,684 345,682 350,681 355,680 365,678 370,677 374,676 380,674 384,674 388,673 397,671 408,669" stroke="#910000" stroke-width="4.4"/><polyline points="173,720 190,716 210,712 219,710 239,706 260,702 268,700 280,698 284,697 290,696 300,694 306,693 312,691 321,689 326,688 331,687 336,686 345,684 350,683 355,682 365,680 370,679 374,678 380,677 384,676 388,676 397,674 408,672" stroke="#960000" stroke-width="4.4"/><polyline points="173,722 190,719 210,715 219,713 239,709 260,705 268,703 280,701 284,700 290,698 300,696 306,695 312,694 321,692 326,691 331,690 336,689 345,687 350,686 355,685 365,683 370,682 374,681 380,680 384,679 388,678 397,677 408,674" stroke="#9a0000" stroke-width="4.4"/><polyline points="173,725 190,722 210,718 219,716 239,712 260,707 268,706 280,703 284,702 290,701 300,699 306,698 312,697 321,695 326,694 331,693 336,692 345,690 350,689 355,688 365,686 370,685 374,684 380,683 384,682 388,681 397,679 408,677" stroke="#9f0000" stroke-width="4.2"/><polyline points="173,728 190,725 210,720 219,719 239,714 260,710 268,709 280,706 284,705 290,704 300,702 306,701 312,699 321,697 326,696 331,695 336,694 345,692 350,691 355,690 365,688 370,687 374,686 380,685 384,684 388,684 397,682 408,680" stroke="#a50000" stroke-width="4.2"/><polyline points="173,731 190,727 210,723 219,721 239,717 260,713 268,711 280,709 284,708 290,706 300,704 306,703 312,702 321,700 326,699 331,698 336,697 345,695 350,694 355,693 365,691 370,690 374,689 380,688 384,687 388,686 397,684 408,682" stroke="#ac0000" stroke-width="4.2"/><polyline points="173,734 190,730 210,726 219,724 239,720 260,716 268,714 280,711 284,710 290,709 300,707 306,706 312,705 321,703 326,702 331,701 336,700 345,698 350,697 355,696 365,694 370,693 374,692 380,690 384,690 388,689 397,687 408,685" stroke="#b20000" stroke-width="4.2"/><polyline points="173,737 190,733 210,729 219,727 239,723 260,718 268,717 280,714 284,713 290,712 300,710 306,709 312,707 321,705 326,704 331,703 336,702 345,700 350,699 355,698 365,696 370,695 374,694 380,693 384,692 388,691 397,689 408,687" stroke="#b80000" stroke-width="4.2"/><polyline points="173,739 190,736 210,732 219,730 239,725 260,721 268,719 280,717 284,716 290,715 300,713 306,711 312,710 321,708 326,707 331,706 336,705 345,703 350,702 355,701 365,699 370,698 374,697 380,696 384,695 388,694 397,692 408,690" stroke="#bf0000" stroke-width="4.2"/><polyline points="173,742 190,739 210,734 219,733 239,728 260,724 268,722 280,720 284,719 290,717 300,715 306,714 312,713 321,711 326,710 331,709 336,707 345,706 350,705 355,703 365,701 370,700 374,699 380,698 384,697 388,696 397,695 408,692" stroke="#c50000" stroke-width="4.2"/><polyline points="173,745 190,742 210,737 219,735 239,731 260,726 268,725 280,722 284,721 290,720 300,718 306,717 312,715 321,713 326,712 331,711 336,710 345,708 350,707 355,706 365,704 370,703 374,702 380,701 384,700 388,699 397,697 408,695" stroke="#cb0000" stroke-width="4.2"/><polyline points="173,748 190,744 210,740 219,738 239,734 260,729 268,728 280,725 284,724 290,723 300,721 306,719 312,718 321,716 326,715 331,714 336,713 345,711 350,710 355,709 365,706 370,705 374,704 380,703 384,702 388,702 397,700 408,697" stroke="#d00000" stroke-width="4.2"/><polyline points="173,751 190,747 210,743 219,741 239,737 260,732 268,730 280,728 284,727 290,725 300,723 306,722 312,721 321,719 326,718 331,717 336,715 345,713 350,712 355,711 365,709 370,708 374,707 380,706 384,705 388,704 397,702 408,700" stroke="#d60000" stroke-width="4.2"/><polyline points="173,754 190,750 210,746 219,744 239,739 260,735 268,733 280,730 284,729 290,728 300,726 306,725 312,723 321,721 326,720 331,719 336,718 345,716 350,715 355,714 365,712 370,711 374,710 380,708 384,708 388,707 397,705 408,702" stroke="#db0000" stroke-width="4.2"/><polyline points="173,757 190,753 210,748 219,747 239,742 260,737 268,736 280,733 284,732 290,731 300,729 306,727 312,726 321,724 326,723 331,722 336,721 345,719 350,718 355,716 365,714 370,713 374,712 380,711 384,710 388,709 397,707 408,705" stroke="#e00000" stroke-width="4.2"/><polyline points="173,759 190,756 210,751 219,749 239,745 260,740 268,738 280,736 284,735 290,733 300,731 306,730 312,729 321,727 326,725 331,724 336,723 345,721 350,720 355,719 365,717 370,716 374,715 380,714 384,713 388,712 397,710 408,707" stroke="#e60000" stroke-width="4.2"/><polyline points="173,762 190,759 210,754 219,752 239,748 260,743 268,741 280,738 284,737 290,736 300,734 306,733 312,731 321,729 326,728 331,727 336,726 345,724 350,723 355,722 365,719 370,718 374,717 380,716 384,715 388,714 397,712 408,710" stroke="#eb0000" stroke-width="4.2"/><polyline points="173,765 190,761 210,757 219,755 239,750 260,746 268,744 280,741 284,740 290,739 300,737 306,735 312,734 321,732 326,731 331,730 336,728 345,726 350,725 355,724 365,722 370,721 374,720 380,719 384,718 388,717 397,715 408,712" stroke="#ef0000" stroke-width="4.2"/><polyline points="173,768 190,764 210,759 219,758 239,753 260,748 268,747 280,744 284,743 290,741 300,739 306,738 312,737 321,735 326,733 331,732 336,731 345,729 350,728 355,727 365,725 370,724 374,722 380,721 384,720 388,719 397,717 408,715" stroke="#f00000" stroke-width="4.2"/><polyline points="173,771 190,767 210,762 219,760 239,756 260,751 268,749 280,746 284,745 290,744 300,742 306,741 312,739 321,737 326,736 331,735 336,734 345,732 350,731 355,729 365,727 370,726 374,725 380,724 384,723 388,722 397,720 408,717" stroke="#f10000" stroke-width="4.2"/><polyline points="173,773 190,770 210,765 219,763 239,758 260,754 268,752 280,749 284,748 290,747 300,745 306,743 312,742 321,740 326,739 331,738 336,736 345,734 350,733 355,732 365,730 370,729 374,728 380,726 384,725 388,725 397,722 408,720" stroke="#f20000" stroke-width="4.2"/><polyline points="173,776 190,772 210,768 219,766 239,761 260,756 268,755 280,752 284,751 290,749 300,747 306,746 312,744 321,742 326,741 331,740 336,739 345,737 350,736 355,735 365,732 370,731 374,730 380,729 384,728 388,727 397,725 408,723" stroke="#f30000" stroke-width="4.2"/><polyline points="173,779 190,775 210,770 219,768 239,764 260,759 268,757 280,754 284,753 290,752 300,750 306,748 312,747 321,745 326,744 331,743 336,741 345,739 350,738 355,737 365,735 370,734 374,733 380,731 384,731 388,730 397,728 408,725" stroke="#f50000" stroke-width="4.2"/><polyline points="173,782 190,778 210,773 219,771 239,766 260,762 268,760 280,757 284,756 290,755 300,752 306,751 312,750 321,748 326,746 331,745 336,744 345,742 350,741 355,740 365,737 370,736 374,735 380,734 384,733 388,732 397,730 408,728" stroke="#f60000" stroke-width="4.2"/><polyline points="173,784 190,781 210,776 219,774 239,769 260,764 268,763 280,760 284,759 290,757 300,755 306,754 312,752 321,750 326,749 331,748 336,747 345,745 350,744 355,742 365,740 370,739 374,738 380,737 384,736 388,735 397,733 408,730" stroke="#f70000" stroke-width="4.2"/><polyline points="173,787 190,783 210,779 219,777 239,772 260,767 268,765 280,762 284,761 290,760 300,758 306,756 312,755 321,753 326,752 331,751 336,749 345,747 350,746 355,745 365,743 370,741 374,740 380,739 384,738 388,737 397,735 408,733" stroke="#f80000" stroke-width="4.2"/><polyline points="173,790 190,786 210,781 219,779 239,775 260,770 268,768 280,765 284,764 290,763 300,760 306,759 312,757 321,755 326,754 331,753 336,752 345,750 350,749 355,748 365,745 370,744 374,743 380,742 384,741 388,740 397,738 408,735" stroke="#f90000" stroke-width="4.2"/><polyline points="173,793 190,789 210,784 219,782 239,777 260,772 268,771 280,768 284,767 290,765 300,763 306,762 312,760 321,758 326,757 331,756 336,754 345,752 350,751 355,750 365,748 370,747 374,746 380,744 384,743 388,742 397,740 408,738" stroke="#fa0000" stroke-width="4.2"/><polyline points="173,796 190,792 210,787 219,785 239,780 260,775 268,773 280,770 284,769 290,768 300,766 306,764 312,763 321,761 326,759 331,758 336,757 345,755 350,754 355,753 365,750 370,749 374,748 380,747 384,746 388,745 397,743 408,740" stroke="#fc0000" stroke-width="4.2"/><polyline points="173,798 190,794 210,789 219,788 239,783 260,778 268,776 280,773 284,772 290,771 300,768 306,767 312,765 321,763 326,762 331,761 336,760 345,758 350,756 355,755 365,753 370,752 374,751 380,749 384,748 388,747 397,745 408,743" stroke="#fd0000" stroke-width="4.2"/><polyline points="173,801 190,797 210,792 219,790 239,785 260,780 268,779 280,776 284,775 290,773 300,771 306,770 312,768 321,766 326,765 331,764 336,762 345,760 350,759 355,758 365,755 370,754 374,753 380,752 384,751 388,750 397,748 408,745" stroke="#fe0000" stroke-width="4.2"/><polyline points="173,803 190,799 210,795 219,793 239,788 260,783 268,781 280,778 284,777 290,776 300,774 306,772 312,771 321,769 326,767 331,766 336,765 345,763 350,762 355,760 365,758 370,757 374,756 380,754 384,753 388,752 397,750 408,748" stroke="#ff0100" stroke-width="4.2"/><polyline points="173,806 190,802 210,797 219,795 239,790 260,786 268,784 280,781 284,780 290,779 300,776 306,775 312,773 321,771 326,770 331,769 336,768 345,765 350,764 355,763 365,760 370,759 374,758 380,757 384,756 388,755 397,753 408,750" stroke="#ff0a00" stroke-width="4.2"/><polyline points="173,808 190,804 210,800 219,798 239,793 260,788 268,786 280,784 284,783 290,781 300,779 306,778 312,776 321,774 326,773 331,772 336,770 345,768 350,767 355,766 365,763 370,762 374,761 380,759 384,758 388,757 397,755 408,752" stroke="#ff1300" stroke-width="4.2"/><polyline points="173,811 190,807 210,802 219,800 239,796 260,791 268,789 280,786 284,785 290,784 300,782 306,780 312,779 321,777 326,775 331,774 336,773 345,771 350,769 355,768 365,766 370,764 374,763 380,762 384,761 388,760 397,758 408,755" stroke="#ff1d00" stroke-width="4.2"/><polyline points="173,813 190,809 210,805 219,803 239,798 260,793 268,792 280,789 284,788 290,787 300,784 306,783 312,781 321,779 326,778 331,777 336,776 345,773 350,772 355,771 365,768 370,767 374,766 380,764 384,763 388,762 397,760 408,757" stroke="#ff2600" stroke-width="4.2"/><polyline points="173,816 190,812 210,807 219,805 239,801 260,796 268,794 280,792 284,791 290,789 300,787 306,786 312,784 321,782 326,781 331,780 336,778 345,776 350,775 355,773 365,771 370,769 374,768 380,767 384,766 388,765 397,763 408,760" stroke="#ff2f00" stroke-width="4.2"/><polyline points="173,818 190,814 210,810 219,808 239,803 260,799 268,797 280,794 284,793 290,792 300,790 306,788 312,787 321,785 326,783 331,782 336,781 345,779 350,777 355,776 365,773 370,772 374,771 380,769 384,768 388,767 397,765 408,762" stroke="#ff3900" stroke-width="4.2"/><polyline points="173,820 190,817 210,812 219,810 239,806 260,801 268,800 280,797 284,796 290,795 300,792 306,791 312,790 321,787 326,786 331,785 336,784 345,781 350,780 355,779 365,776 370,774 374,773 380,772 384,771 388,770 397,767 408,765" stroke="#ff4200" stroke-width="4.2"/><polyline points="173,823 190,819 210,815 219,813 239,808 260,804 268,802 280,800 284,799 290,797 300,795 306,794 312,792 321,790 326,789 331,788 336,786 345,784 350,782 355,781 365,778 370,777 374,776 380,774 384,773 388,772 397,770 408,767" stroke="#ff4b00" stroke-width="4.2"/><polyline points="173,825 190,822 210,817 219,815 239,811 260,806 268,805 280,802 284,801 290,800 300,798 306,797 312,795 321,793 326,791 331,790 336,789 345,786 350,785 355,784 365,781 370,780 374,778 380,777 384,776 388,775 397,772 408,769" stroke="#ff5400" stroke-width="4.2"/><polyline points="173,828 190,824 210,820 219,818 239,814 260,809 268,807 280,805 284,804 290,803 300,800 306,799 312,798 321,795 326,794 331,793 336,792 345,789 350,788 355,786 365,783 370,782 374,781 380,779 384,778 388,777 397,775 408,772" stroke="#ff5d00" stroke-width="4.2"/><polyline points="173,830 190,827 210,822 219,821 239,816 260,812 268,810 280,807 284,807 290,805 300,803 306,802 312,800 321,798 326,797 331,796 336,794 345,792 350,790 355,789 365,786 370,785 374,783 380,782 384,781 388,780 397,777 408,774" stroke="#ff6600" stroke-width="4.2"/><polyline points="173,833 190,829 210,825 219,823 239,819 260,814 268,813 280,810 284,809 290,808 300,806 306,805 312,803 321,801 326,799 331,798 336,797 345,794 350,793 355,791 365,788 370,787 374,786 380,784 384,783 388,782 397,780 408,777" stroke="#ff6f00" stroke-width="4.2"/><polyline points="173,835 190,832 210,827 219,826 239,821 260,817 268,815 280,813 284,812 290,811 300,808 306,807 312,806 321,803 326,802 331,801 336,799 345,797 350,795 355,794 365,791 370,790 374,788 380,787 384,786 388,785 397,782 408,779" stroke="#ff7900" stroke-width="4.1"/><polyline points="173,838 190,834 210,830 219,828 239,824 260,819 268,818 280,815 284,814 290,813 300,811 306,810 312,808 321,806 326,804 331,803 336,802 345,799 350,798 355,796 365,793 370,792 374,791 380,789 384,788 388,787 397,785 408,782" stroke="#ff8300" stroke-width="4.1"/><polyline points="173,840 190,837 210,832 219,831 239,826 260,822 268,820 280,818 284,817 290,816 300,814 306,812 312,811 321,808 326,807 331,806 336,804 345,801 350,800 355,798 365,796 370,794 374,793 380,791 384,790 388,789 397,787 408,785" stroke="#ff8c00" stroke-width="4.1"/><polyline points="173,843 190,839 210,835 219,833 239,829 260,825 268,823 280,821 284,820 290,818 300,816 306,815 312,813 321,811 326,809 331,808 336,806 345,804 350,802 355,801 365,798 370,797 374,795 380,794 384,793 388,792 397,790 408,788" stroke="#ff9600" stroke-width="4.1"/><polyline points="173,845 190,842 210,837 219,836 239,832 260,827 268,826 280,823 284,822 290,821 300,819 306,817 312,816 321,813 326,812 331,810 336,809 345,806 350,805 355,803 365,800 370,799 374,798 380,796 384,795 388,794 397,793 408,791" stroke="#ffa000" stroke-width="4.1"/><polyline points="173,848 190,844 210,840 219,838 239,834 260,830 268,828 280,826 284,825 290,824 300,821 306,820 312,818 321,816 326,814 331,813 336,811 345,808 350,807 355,805 365,803 370,801 374,800 380,799 384,798 388,796 397,795 408,794" stroke="#ffa900" stroke-width="4.1"/><polyline points="173,850 190,847 210,843 219,841 239,837 260,832 268,831 280,828 284,827 290,826 300,824 306,822 312,820 321,818 326,816 331,815 336,814 345,811 350,809 355,808 365,805 370,804 374,802 380,801 384,800 388,799 397,798 408,797" stroke="#ffb300" stroke-width="4.1"/><polyline points="173,853 190,849 210,845 219,843 239,839 260,835 268,833 280,831 284,830 290,829 300,826 306,825 312,823 321,821 326,819 331,818 336,816 345,813 350,811 355,810 365,807 370,806 374,805 380,803 384,802 388,801 397,801 408,800" stroke="#ffbd00" stroke-width="4.1"/><polyline points="173,855 190,852 210,848 219,846 239,842 260,838 268,836 280,833 284,833 290,831 300,829 306,827 312,825 321,823 326,821 331,820 336,818 345,815 350,814 355,812 365,810 370,808 374,807 380,806 384,805 388,804 397,803 408,803" stroke="#ffc700" stroke-width="4.1"/><polyline points="173,858 190,854 210,850 219,849 239,844 260,840 268,839 280,836 284,835 290,834 300,831 306,830 312,828 321,825 326,824 331,822 336,821 345,818 350,816 355,815 365,812 370,811 374,809 380,808 384,807 388,806 397,806 408,806" stroke="#ffd100" stroke-width="4.1"/><polyline points="173,860 190,857 210,853 219,851 239,847 260,843 268,841 280,839 284,838 290,837 300,834 306,832 312,830 321,828 326,826 331,825 336,823 345,820 350,818 355,817 365,814 370,813 374,812 380,810 384,809 388,808 397,808 408,809" stroke="#ffdc00" stroke-width="4.1"/><polyline points="173,863 190,859 210,855 219,854 239,850 260,845 268,844 280,841 284,840 290,839 300,836 306,835 312,833 321,830 326,829 331,827 336,825 345,822 350,821 355,819 365,817 370,815 374,814 380,813 384,812 388,811 397,811 408,812" stroke="#ffe600" stroke-width="4.1"/><polyline points="173,865 190,862 210,858 219,856 239,852 260,848 268,846 280,844 284,843 290,842 300,839 306,837 312,835 321,833 326,831 331,829 336,828 345,824 350,823 355,821 365,819 370,818 374,817 380,815 384,814 388,813 397,814 408,815" stroke="#fff000" stroke-width="4.1"/><polyline points="173,868 190,865 210,860 219,859 239,855 260,850 268,849 280,846 284,846 290,844 300,841 306,840 312,838 321,835 326,833 331,832 336,830 345,827 350,825 355,824 365,821 370,820 374,819 380,817 384,816 388,815 397,816 408,817" stroke="#fffa00" stroke-width="4.1"/><polyline points="173,870 190,867 210,862 219,861 239,857 260,853 268,851 280,849 284,848 290,846 300,844 306,842 312,840 321,837 326,835 331,834 336,832 345,829 350,827 355,826 365,823 370,822 374,821 380,820 384,819 388,818 397,819 408,820" stroke="#fdff00" stroke-width="4.2"/><polyline points="173,872 190,868 210,864 219,863 239,858 260,854 268,853 280,850 284,849 290,848 300,845 306,844 312,842 321,839 326,837 331,836 336,834 345,831 350,829 355,827 365,825 370,824 374,823 380,822 384,822 388,821 397,822 408,823" stroke="#f9ff00" stroke-width="4.2"/><polyline points="173,873 190,870 210,866 219,864 239,860 260,856 268,854 280,852 284,851 290,850 300,847 306,845 312,843 321,841 326,839 331,837 336,835 345,832 350,831 355,829 365,827 370,825 374,826 380,825 384,824 388,823 397,824 408,826" stroke="#f4ff00" stroke-width="4.2"/><polyline points="173,875 190,871 210,867 219,866 239,862 260,858 268,856 280,854 284,853 290,852 300,849 306,847 312,845 321,842 326,841 331,839 336,837 345,834 350,832 355,831 365,828 370,827 374,828 380,827 384,827 388,826 397,827 408,829" stroke="#f0ff00" stroke-width="4.2"/><polyline points="173,876 190,873 210,869 219,867 239,863 260,859 268,858 280,855 284,855 290,853 300,851 306,849 312,847 321,844 326,842 331,841 336,839 345,836 350,834 355,833 365,830 370,829 374,830 380,830 384,829 388,829 397,830 408,831" stroke="#ecff00" stroke-width="4.2"/><polyline points="173,878 190,875 210,871 219,869 239,865 260,861 268,860 280,857 284,856 290,855 300,852 306,851 312,849 321,846 326,844 331,843 336,841 345,837 350,836 355,834 365,832 370,830 374,833 380,832 384,832 388,831 397,833 408,834" stroke="#e7ff00" stroke-width="4.2"/><polyline points="173,880 190,876 210,872 219,871 239,867 260,863 268,861 280,859 284,858 290,857 300,854 306,852 312,850 321,848 326,846 331,844 336,842 345,839 350,838 355,836 365,833 370,832 374,835 380,835 384,834 388,834 397,835 408,837" stroke="#e3ff00" stroke-width="4.2"/><polyline points="173,881 190,878 210,874 219,872 239,868 260,864 268,863 280,861 284,860 290,859 300,856 306,854 312,852 321,849 326,848 331,846 336,844 345,841 350,839 355,838 365,835 370,834 374,837 380,837 384,837 388,837 397,838 408,840" stroke="#dfff00" stroke-width="4.2"/><polyline points="173,883 190,879 210,876 219,874 239,870 260,866 268,865 280,862 284,861 290,860 300,857 306,856 312,854 321,851 326,849 331,848 336,846 345,843 350,841 355,840 365,837 370,835 374,840 380,840 384,840 388,839 397,841 408,842" stroke="#dbff00" stroke-width="4.2"/><polyline points="173,884 190,881 210,877 219,876 239,872 260,868 268,866 280,864 284,863 290,862 300,859 306,857 312,856 321,853 326,851 331,849 336,848 345,844 350,843 355,841 365,838 370,837 374,842 380,842 384,842 388,842 397,843 408,845" stroke="#d6ff00" stroke-width="4.2"/><polyline points="173,886 190,883 210,879 219,877 239,873 260,870 268,868 280,866 284,865 290,864 300,861 306,859 312,857 321,855 326,853 331,851 336,849 345,846 350,845 355,843 365,840 370,839 374,844 380,845 384,845 388,845 397,846 408,848" stroke="#d2ff00" stroke-width="4.2"/><polyline points="173,887 190,884 210,880 219,879 239,875 260,871 268,870 280,868 284,867 290,866 300,863 306,861 312,859 321,856 326,854 331,853 336,851 345,848 350,846 355,845 365,842 370,840 374,846 380,847 384,847 388,847 397,849 408,851" stroke="#cdff00" stroke-width="4.2"/><polyline points="173,889 190,886 210,882 219,881 239,877 260,873 268,871 280,869 284,868 290,867 300,864 306,863 312,861 321,858 326,856 331,855 336,853 345,850 350,848 355,846 365,843 370,842 374,849 380,849 384,850 388,850 397,852 408,853" stroke="#c8ff00" stroke-width="4.2"/><polyline points="173,891 190,887 210,884 219,882 239,878 260,875 268,873 280,871 284,870 290,869 300,866 306,864 312,862 321,860 326,858 331,856 336,854 345,851 350,850 355,848 365,845 370,844 374,851 380,852 384,853 388,853 397,854 408,856" stroke="#c3ff00" stroke-width="4.2"/><polyline points="173,892 190,889 210,885 219,884 239,880 260,876 268,875 280,873 284,872 290,871 300,868 306,866 312,864 321,862 326,860 331,858 336,856 345,853 350,851 355,850 365,847 370,845 374,853 380,854 384,855 388,855 397,857 408,859" stroke="#beff00" stroke-width="4.2"/><polyline points="173,894 190,891 210,887 219,886 239,882 260,878 268,877 280,874 284,874 290,872 300,870 306,868 312,866 321,863 326,861 331,860 336,858 345,855 350,853 355,852 365,848 370,847 374,856 380,857 384,858 388,858 397,860 408,862" stroke="#b9ff00" stroke-width="4.2"/><polyline points="173,895 190,892 210,889 219,887 239,883 260,880 268,878 280,876 284,875 290,874 300,871 306,870 312,868 321,865 326,863 331,862 336,860 345,857 350,855 355,853 365,850 370,849 374,858 380,859 384,860 388,861 397,862 408,865" stroke="#b4ff00" stroke-width="4.2"/><polyline points="173,897 190,894 210,890 219,889 239,885 260,881 268,880 280,878 284,877 290,876 300,873 306,871 312,869 321,867 326,865 331,863 336,861 345,858 350,857 355,855 365,852 370,850 374,860 380,862 384,863 388,863 397,865 408,867" stroke="#afff00" stroke-width="4.2"/><polyline points="173,899 190,896 210,892 219,890 239,887 260,883 268,882 280,880 284,879 290,878 300,875 306,873 312,871 321,869 326,867 331,865 336,863 345,860 350,858 355,857 365,853 370,852 374,863 380,864 384,866 388,866 397,868 408,870" stroke="#aaff00" stroke-width="4.2"/><polyline points="173,900 190,897 210,894 219,892 239,888 260,885 268,883 280,881 284,880 290,879 300,877 306,875 312,873 321,870 326,868 331,867 336,865 345,862 350,860 355,858 365,855 370,854 374,865 380,867 384,868 388,869 397,871 408,873" stroke="#a5ff00" stroke-width="4.2"/><polyline points="173,902 190,899 210,895 219,894 239,890 260,886 268,885 280,883 284,882 290,881 300,878 306,877 312,875 321,872 326,870 331,869 336,867 345,863 350,862 355,860 365,857 370,855 374,867 380,869 384,871 388,871 397,873 408,876" stroke="#a0ff00" stroke-width="4.2"/><polyline points="173,903 190,900 210,897 219,895 239,892 260,888 268,887 280,885 284,884 290,883 300,880 306,878 312,876 321,874 326,872 331,870 336,868 345,865 350,864 355,862 365,859 370,857 374,869 380,872 384,873 388,874 397,876 408,878" stroke="#9bff00" stroke-width="4.2"/><polyline points="173,905 190,902 210,898 219,897 239,893 260,890 268,888 280,886 284,885 290,884 300,882 306,880 312,878 321,875 326,873 331,872 336,870 345,867 350,865 355,864 365,861 370,859 374,872 380,874 384,876 388,877 397,878 408,881" stroke="#94ff00" stroke-width="4.2"/><polyline points="173,906 190,903 210,900 219,898 239,895 260,891 268,890 280,888 284,887 290,886 300,883 306,881 312,879 321,877 326,875 331,873 336,871 345,868 350,867 355,866 365,863 370,862 374,874 380,876 384,878 388,879 397,881 408,883" stroke="#8bff00" stroke-width="4.2"/><polyline points="173,908 190,905 210,901 219,900 239,896 260,893 268,891 280,889 284,888 290,887 300,885 306,883 312,881 321,878 326,876 331,875 336,873 345,869 350,869 355,868 365,866 370,865 374,876 380,879 384,880 388,881 397,883 408,885" stroke="#82ff00" stroke-width="4.2"/><polyline points="173,910 190,907 210,903 219,902 239,898 260,894 268,893 280,891 284,890 290,889 300,886 306,884 312,882 321,880 326,878 331,876 336,874 345,871 350,871 355,870 365,868 370,867 374,879 380,881 384,882 388,883 397,885 408,888" stroke="#79ff00" stroke-width="4.2"/><polyline points="173,911 190,908 210,905 219,903 239,899 260,896 268,894 280,892 284,891 290,890 300,887 306,886 312,884 321,881 326,879 331,878 336,876 345,872 350,872 355,873 365,871 370,870 374,881 380,883 384,885 388,886 397,888 408,890" stroke="#70ff00" stroke-width="4.2"/><polyline points="173,913 190,910 210,906 219,905 239,901 260,897 268,896 280,894 284,893 290,892 300,889 306,887 312,885 321,883 326,881 331,879 336,877 345,874 350,874 355,875 365,873 370,873 374,883 380,885 384,887 388,888 397,890 408,892" stroke="#68ff00" stroke-width="4.2"/><polyline points="173,914 190,911 210,908 219,906 239,902 260,899 268,897 280,895 284,894 290,893 300,890 306,889 312,887 321,884 326,882 331,880 336,878 345,875 350,876 355,877 365,876 370,875 374,886 380,888 384,889 388,890 397,892 408,894" stroke="#5fff00" stroke-width="4.2"/><polyline points="173,916 190,913 210,909 219,908 239,904 260,900 268,899 280,897 284,896 290,895 300,892 306,890 312,888 321,886 326,884 331,882 336,880 345,876 350,878 355,879 365,878 370,878 374,888 380,890 384,891 388,892 397,894 408,897" stroke="#56ff00" stroke-width="4.2"/><polyline points="173,917 190,914 210,911 219,909 239,906 260,902 268,900 280,898 284,897 290,896 300,893 306,892 312,890 321,887 326,885 331,883 336,881 345,878 350,879 355,881 365,881 370,881 374,890 380,892 384,894 388,895 397,897 408,899" stroke="#4dff00" stroke-width="4.2"/><polyline points="173,919 190,916 210,912 219,911 239,907 260,903 268,902 280,900 284,899 290,898 300,895 306,893 312,891 321,889 326,886 331,885 336,883 345,879 350,881 355,883 365,883 370,883 374,892 380,894 384,896 388,897 397,899 408,901" stroke="#44ff00" stroke-width="4.2"/><polyline points="173,921 190,918 210,914 219,912 239,909 260,905 268,903 280,901 284,900 290,899 300,896 306,895 312,893 321,890 326,888 331,886 336,884 345,881 350,883 355,886 365,886 370,886 374,895 380,897 384,898 388,899 397,901 408,904" stroke="#3cfe00" stroke-width="4.2"/><polyline points="173,922 190,919 210,915 219,914 239,910 260,906 268,905 280,903 284,902 290,901 300,898 306,896 312,894 321,891 326,889 331,888 336,885 345,882 350,885 355,888 365,889 370,889 374,897 380,899 384,900 388,901 397,903 408,906" stroke="#33fc00" stroke-width="4.2"/><polyline points="173,924 190,921 210,917 219,915 239,912 260,908 268,906 280,904 284,903 290,902 300,899 306,897 312,896 321,893 326,891 331,889 336,887 345,883 350,886 355,890 365,891 370,892 374,899 380,901 384,903 388,903 397,906 408,908" stroke="#2bfa00" stroke-width="4.2"/><polyline points="173,925 190,922 210,918 219,917 239,913 260,909 268,908 280,905 284,905 290,903 300,901 306,899 312,897 321,894 326,892 331,890 336,888 345,885 350,888 355,892 365,894 370,894 374,902 380,903 384,905 388,906 397,908 408,910" stroke="#22f800" stroke-width="4.2"/><polyline points="173,927 190,924 210,920 219,918 239,915 260,911 268,909 280,907 284,906 290,905 300,902 306,900 312,898 321,896 326,894 331,892 336,890 345,886 350,890 355,894 365,896 370,897 374,904 380,906 384,907 388,908 397,910 408,913" stroke="#1af600" stroke-width="4.2"/><polyline points="173,928 190,925 210,921 219,920 239,916 260,912 268,911 280,908 284,908 290,906 300,904 306,902 312,900 321,897 326,895 331,893 336,891 345,887 350,892 355,896 365,899 370,900 374,906 380,908 384,909 388,910 397,912 408,915" stroke="#11f400" stroke-width="4.2"/><polyline points="173,930 190,927 210,923 219,921 239,918 260,914 268,912 280,910 284,909 290,908 300,905 306,903 312,901 321,899 326,897 331,895 336,893 345,889 350,893 355,899 365,901 370,902 374,908 380,910 384,911 388,912 397,915 408,917" stroke="#09f200" stroke-width="4.2"/><polyline points="173,932 190,928 210,925 219,923 239,919 260,915 268,914 280,911 284,910 290,909 300,906 306,905 312,903 321,900 326,898 331,896 336,894 345,890 350,895 355,901 365,904 370,905 374,911 380,912 384,914 388,915 397,917 408,920" stroke="#00f000" stroke-width="4.2"/><polyline points="173,933 190,930 210,926 219,925 239,921 260,917 268,915 280,913 284,912 290,911 300,908 306,906 312,904 321,902 326,899 331,898 336,895 345,892 350,897 355,903 365,906 370,908 374,913 380,915 384,916 388,917 397,919 408,922" stroke="#00f213" stroke-width="4.2"/><polyline points="173,935 190,932 210,928 219,926 239,922 260,918 268,917 280,914 284,913 290,912 300,909 306,908 312,906 321,903 326,901 331,899 336,897 345,893 350,899 355,905 365,909 370,911 374,915 380,917 384,918 388,919 397,921 408,924" stroke="#00f426" stroke-width="4.2"/><polyline points="173,936 190,933 210,929 219,928 239,924 260,920 268,918 280,916 284,915 290,914 300,911 306,909 312,907 321,905 326,902 331,900 336,898 345,894 350,900 355,907 365,911 370,913 374,918 380,919 384,920 388,921 397,924 408,926" stroke="#00f63a" stroke-width="4.2"/><polyline points="173,938 190,935 210,931 219,929 239,925 260,921 268,920 280,917 284,916 290,915 300,912 306,911 312,909 321,906 326,904 331,902 336,900 345,896 350,902 355,909 365,914 370,916 374,920 380,922 384,923 388,924 397,926 408,929" stroke="#00f84d" stroke-width="4.2"/><polyline points="173,939 190,936 210,932 219,931 239,927 260,923 268,921 280,919 284,918 290,917 300,914 306,912 312,910 321,908 326,905 331,903 336,901 345,897 350,904 355,912 365,916 370,919 374,922 380,924 384,925 388,926 397,928 408,931" stroke="#00fa60" stroke-width="4.2"/><polyline points="173,941 190,938 210,934 219,932 239,928 260,924 268,923 280,920 284,919 290,918 300,915 306,914 312,912 321,909 326,907 331,905 336,902 345,898 350,906 355,914 365,919 370,921 374,925 380,926 384,927 388,928 397,930 408,933" stroke="#00fc73" stroke-width="4.2"/><polyline points="173,943 190,939 210,935 219,934 239,930 260,926 268,924 280,922 284,921 290,920 300,917 306,915 312,913 321,910 326,908 331,906 336,904 345,900 350,908 355,916 365,921 370,924 374,927 380,928 384,929 388,930 397,933 408,935" stroke="#00fe86" stroke-width="4.2"/><polyline points="173,944 190,941 210,937 219,935 239,931 260,927 268,926 280,923 284,922 290,921 300,918 306,916 312,914 321,912 326,910 331,908 336,906 345,902 350,910 355,918 365,924 370,927 374,929 380,931 384,932 388,933 397,935 408,938" stroke="#00fe96" stroke-width="4.3"/><polyline points="173,946 190,942 210,938 219,937 239,933 260,929 268,927 280,925 284,924 290,922 300,920 306,918 312,916 321,914 326,912 331,910 336,908 345,905 350,912 355,920 365,926 370,929 374,931 380,933 384,934 388,935 397,937 408,940" stroke="#00fda2" stroke-width="4.3"/><polyline points="173,947 190,944 210,940 219,938 239,934 260,930 268,929 280,926 284,925 290,924 300,921 306,919 312,917 321,915 326,914 331,912 336,910 345,907 350,915 355,923 365,929 370,931 374,934 380,935 384,936 388,937 397,939 408,942" stroke="#00fcae" stroke-width="4.3"/><polyline points="173,948 190,945 210,941 219,940 239,936 260,932 268,930 280,928 284,927 290,925 300,922 306,920 312,918 321,917 326,916 331,914 336,913 345,910 350,917 355,925 365,931 370,933 374,936 380,937 384,938 388,939 397,942 408,944" stroke="#00fbba" stroke-width="4.3"/><polyline points="173,950 190,947 210,943 219,941 239,937 260,933 268,932 280,929 284,928 290,927 300,924 306,922 312,920 321,919 326,918 331,917 336,915 345,913 350,920 355,927 365,933 370,936 374,938 380,939 384,940 388,942 397,944 408,947" stroke="#00f9c5" stroke-width="4.3"/><polyline points="173,951 190,948 210,944 219,943 239,939 260,935 268,933 280,931 284,930 290,928 300,925 306,923 312,921 321,920 326,919 331,919 336,918 345,916 350,922 355,930 365,936 370,938 374,940 380,942 384,943 388,944 397,946 408,949" stroke="#00f8d1" stroke-width="4.3"/><polyline points="173,953 190,950 210,946 219,944 239,940 260,936 268,935 280,932 284,931 290,929 300,926 306,924 312,922 321,922 326,921 331,921 336,920 345,918 350,925 355,932 365,938 370,940 374,942 380,944 384,945 388,946 397,948 408,951" stroke="#00f7dd" stroke-width="4.3"/><polyline points="173,954 190,951 210,947 219,945 239,942 260,938 268,936 280,934 284,933 290,931 300,928 306,926 312,924 321,924 326,923 331,923 336,922 345,921 350,928 355,934 365,940 370,943 374,945 380,946 384,947 388,948 397,950 408,953" stroke="#00f6e9" stroke-width="4.3"/><polyline points="173,956 190,952 210,949 219,947 239,943 260,939 268,938 280,935 284,934 290,932 300,929 306,927 312,925 321,925 326,925 331,925 336,925 345,924 350,930 355,937 365,943 370,945 374,947 380,948 384,949 388,950 397,953 408,955" stroke="#00f4f5" stroke-width="4.3"/><polyline points="173,957 190,954 210,950 219,948 239,945 260,941 268,939 280,937 284,935 290,934 300,931 306,929 312,926 321,927 326,927 331,927 336,927 345,927 350,933 355,939 365,945 370,947 374,949 380,951 384,952 388,953 397,955 408,958" stroke="#00eff9" stroke-width="4.3"/><polyline points="173,959 190,955 210,951 219,950 239,946 260,942 268,941 280,938 284,937 290,935 300,932 306,930 312,928 321,929 326,929 331,929 336,929 345,929 350,935 355,941 365,947 370,949 374,951 380,953 384,954 388,955 397,957 408,960" stroke="#00e8fa" stroke-width="4.3"/><polyline points="173,960 190,957 210,953 219,951 239,948 260,944 268,942 280,940 284,938 290,937 300,933 306,931 312,929 321,931 326,931 331,931 336,932 345,932 350,938 355,944 365,950 370,952 374,954 380,955 384,956 388,957 397,959 408,962" stroke="#00e1fb" stroke-width="4.3"/><polyline points="173,961 190,958 210,954 219,953 239,949 260,945 268,944 280,941 284,940 290,938 300,935 306,933 312,930 321,932 326,933 331,934 336,934 345,935 350,940 355,946 365,952 370,954 374,956 380,957 384,958 388,959 397,962 408,964" stroke="#00dafc" stroke-width="4.3"/><polyline points="173,963 190,960 210,956 219,954 239,950 260,947 268,945 280,943 284,941 290,939 300,936 306,934 312,932 321,934 326,935 331,936 336,937 345,938 350,943 355,948 365,954 370,956 374,958 380,959 384,960 388,961 397,964 408,966" stroke="#00d3fc" stroke-width="4.3"/><polyline points="173,964 190,961 210,957 219,956 239,952 260,948 268,947 280,944 284,943 290,941 300,937 306,935 312,933 321,936 326,937 331,938 336,939 345,941 350,945 355,951 365,957 370,958 374,960 380,962 384,963 388,964 397,966 408,969" stroke="#00ccfd" stroke-width="4.3"/><polyline points="173,966 190,963 210,959 219,957 239,953 260,949 268,948 280,946 284,944 290,942 300,939 306,937 312,934 321,937 326,939 331,940 336,941 345,943 350,948 355,953 365,959 370,961 374,962 380,964 384,965 388,966 397,968 408,971" stroke="#00c5fe" stroke-width="4.3"/><polyline points="173,967 190,964 210,960 219,959 239,955 260,951 268,950 280,947 284,946 290,944 300,940 306,938 312,936 321,939 326,941 331,942 336,944 345,946 350,951 355,955 365,961 370,963 374,965 380,966 384,967 388,968 397,970 408,973" stroke="#00beff" stroke-width="4.3"/><polyline points="173,969 190,966 210,962 219,960 239,956 260,952 268,951 280,949 284,947 290,945 300,941 306,939 312,937 321,941 326,943 331,944 336,946 345,949 350,953 355,958 365,964 370,965 374,967 380,968 384,969 388,970 397,973 408,975" stroke="#00b7ff" stroke-width="4.3"/><polyline points="173,970 190,967 210,963 219,962 239,958 260,954 268,953 280,950 284,949 290,946 300,943 306,941 312,938 321,942 326,945 331,946 336,949 345,952 350,956 355,960 365,966 370,968 374,969 380,971 384,972 388,973 397,975 408,978" stroke="#00b0ff" stroke-width="4.3"/><polyline points="173,972 190,968 210,965 219,963 239,959 260,955 268,954 280,952 284,950 290,948 300,944 306,942 312,940 321,944 326,946 331,949 336,951 345,954 350,958 355,962 365,968 370,970 374,971 380,973 384,974 388,975 397,977 408,980" stroke="#00a8ff" stroke-width="4.3"/><polyline points="173,973 190,970 210,966 219,965 239,961 260,957 268,956 280,953 284,952 290,949 300,946 306,943 312,941 321,946 326,948 331,951 336,953 345,957 350,961 355,965 365,971 370,972 374,974 380,975 384,976 388,977 397,979 408,982" stroke="#00a1ff" stroke-width="4.3"/><polyline points="173,974 190,971 210,968 219,966 239,962 260,958 268,957 280,955 284,953 290,951 300,947 306,945 312,942 321,947 326,950 331,953 336,956 345,960 350,963 355,967 365,973 370,974 374,976 380,977 384,978 388,979 397,981 408,984" stroke="#009aff" stroke-width="4.3"/><polyline points="173,976 190,973 210,969 219,968 239,964 260,960 268,958 280,956 284,954 290,952 300,948 306,946 312,944 321,949 326,952 331,955 336,958 345,963 350,966 355,969 365,975 370,977 374,978 380,979 384,980 388,981 397,984 408,986" stroke="#0092ff" stroke-width="4.3"/><polyline points="173,977 190,974 210,970 219,969 239,965 260,961 268,960 280,958 284,956 290,954 300,950 306,947 312,945 321,951 326,954 331,957 336,960 345,965 350,968 355,972 365,978 370,979 374,980 380,982 384,983 388,984 397,986 408,989" stroke="#008bff" stroke-width="4.3"/><polyline points="173,979 190,976 210,972 219,970 239,967 260,963 268,961 280,959 284,957 290,955 300,951 306,949 312,946 321,952 326,956 331,959 336,963 345,968 350,971 355,974 365,980 370,981 374,982 380,984 384,985 388,986 397,988 408,991" stroke="#0084ff" stroke-width="4.3"/><polyline points="173,980 190,977 210,974 219,972 239,968 260,965 268,963 280,961 284,959 290,957 300,953 306,951 312,948 321,954 326,958 331,962 336,965 345,971 350,974 355,977 365,983 370,984 374,985 380,986 384,987 388,988 397,990 408,993" stroke="#007aff" stroke-width="4.3"/><polyline points="173,982 190,979 210,975 219,974 239,970 260,966 268,965 280,963 284,961 290,959 300,955 306,953 312,951 321,957 326,961 331,964 336,968 345,973 350,976 355,979 365,985 370,986 374,987 380,989 384,990 388,991 397,993 408,996" stroke="#006dff" stroke-width="4.3"/><polyline points="173,983 190,980 210,977 219,975 239,972 260,968 268,967 280,965 284,963 290,961 300,958 306,956 312,954 321,960 326,963 331,967 336,970 345,976 350,979 355,982 365,988 370,989 374,990 380,991 384,992 388,993 397,996 408,998" stroke="#0060ff" stroke-width="4.3"/><polyline points="173,985 190,982 210,978 219,977 239,974 260,970 268,969 280,966 284,965 290,963 300,960 306,958 312,956 321,962 326,966 331,969 336,973 345,979 350,982 355,985 365,990 370,991 374,992 380,994 384,995 388,996 397,998 408,1001" stroke="#0053ff" stroke-width="4.3"/><polyline points="173,986 190,984 210,980 219,979 239,975 260,972 268,970 280,968 284,967 290,965 300,963 306,961 312,959 321,965 326,968 331,972 336,975 345,981 350,984 355,987 365,993 370,994 374,995 380,996 384,997 388,998 397,1001 408,1003" stroke="#0046ff" stroke-width="4.3"/><polyline points="173,988 190,985 210,982 219,980 239,977 260,973 268,972 280,970 284,969 290,967 300,965 306,963 312,962 321,967 326,971 331,974 336,978 345,984 350,987 355,990 365,995 370,996 374,998 380,999 384,1000 388,1001 397,1003 408,1006" stroke="#003aff" stroke-width="4.3"/><polyline points="173,990 190,987 210,983 219,982 239,979 260,975 268,974 280,972 284,971 290,969 300,967 306,966 312,965 321,970 326,973 331,977 336,981 345,986 350,989 355,993 365,998 370,999 374,1000 380,1001 384,1002 388,1003 397,1006 408,1008" stroke="#002dff" stroke-width="4.3"/><polyline points="173,991 190,988 210,985 219,984 239,980 260,977 268,976 280,974 284,973 290,972 300,970 306,969 312,967 321,973 326,976 331,979 336,983 345,989 350,992 355,995 365,1000 370,1002 374,1003 380,1004 384,1005 388,1006 397,1008 408,1011" stroke="#0020ff" stroke-width="4.3"/><polyline points="173,993 190,990 210,987 219,985 239,982 260,979 268,978 280,976 284,975 290,974 300,972 306,971 312,970 321,975 326,978 331,982 336,986 345,992 350,995 355,998 365,1003 370,1004 374,1005 380,1007 384,1008 388,1009 397,1011 408,1013" stroke="#0013ff" stroke-width="4.3"/><polyline points="173,994 190,992 210,988 219,987 239,984 260,981 268,979 280,977 284,977 290,976 300,975 306,974 312,973 321,978 326,981 331,984 336,988 345,994 350,997 355,1001 365,1005 370,1007 374,1008 380,1009 384,1010 388,1011 397,1013 408,1016" stroke="#050eff" stroke-width="4.3"/><polyline points="173,996 190,993 210,990 219,989 239,986 260,982 268,981 280,979 284,979 290,978 300,977 306,976 312,976 321,981 326,984 331,987 336,991 345,997 350,1000 355,1003 365,1008 370,1009 374,1010 380,1012 384,1013 388,1014 397,1016 408,1018" stroke="#0b0aff" stroke-width="4.3"/><polyline points="173,997 190,995 210,992 219,990 239,987 260,984 268,983 280,981 284,980 290,980 300,979 306,979 312,978 321,983 326,986 331,989 336,993 345,1000 350,1003 355,1006 365,1011 370,1012 374,1013 380,1014 384,1015 388,1016 397,1018 408,1021" stroke="#1207ff" stroke-width="4.3"/><polyline points="173,999 190,996 210,993 219,992 239,989 260,986 268,985 280,983 284,982 290,982 300,982 306,981 312,981 321,986 326,989 331,992 336,996 345,1002 350,1005 355,1009 365,1013 370,1014 374,1015 380,1017 384,1018 388,1019 397,1021 408,1024" stroke="#1804ff" stroke-width="4.3"/><polyline points="173,1000 190,998 210,995 219,994 239,991 260,988 268,987 280,985 284,984 290,984 300,984 306,984 312,984 321,988 326,991 331,994 336,998 345,1005 350,1008 355,1012 365,1016 370,1017 374,1018 380,1019 384,1020 388,1021 397,1023 408,1026" stroke="#1e01ff" stroke-width="4.3"/><polyline points="173,1002 190,1000 210,997 219,995 239,993 260,990 268,988 280,987 284,986 290,986 300,986 306,987 312,987 321,991 326,994 331,997 336,1001 345,1007 350,1011 355,1014 365,1018 370,1019 374,1020 380,1022 384,1023 388,1024 397,1026 408,1029" stroke="#2800ff" stroke-width="4.3"/><polyline points="173,1003 190,1001 210,998 219,997 239,994 260,991 268,990 280,989 284,988 290,988 300,989 306,989 312,989 321,994 326,996 331,999 336,1004 345,1010 350,1013 355,1017 365,1021 370,1022 374,1023 380,1024 384,1025 388,1026 397,1028 408,1031" stroke="#3200ff" stroke-width="4.3"/><polyline points="173,1005 190,1003 210,1000 219,999 239,996 260,993 268,992 280,990 284,990 290,991 300,991 306,992 312,992 321,996 326,999 331,1002 336,1006 345,1013 350,1016 355,1020 365,1023 370,1024 374,1025 380,1027 384,1028 388,1029 397,1031 408,1034" stroke="#3c00ff" stroke-width="4.3"/><polyline points="173,1007 190,1004 210,1002 219,1000 239,998 260,995 268,994 280,992 284,992 290,993 300,994 306,994 312,995 321,999 326,1001 331,1004 336,1009 345,1015 350,1019 355,1022 365,1026 370,1027 374,1028 380,1029 384,1030 388,1031 397,1034 408,1036" stroke="#4600ff" stroke-width="4.3"/><polyline points="173,1008 190,1006 210,1003 219,1002 239,999 260,997 268,996 280,994 284,994 290,995 300,996 306,997 312,998 321,1001 326,1004 331,1007 336,1011 345,1018 350,1021 355,1025 365,1028 370,1029 374,1031 380,1032 384,1033 388,1034 397,1036 408,1039" stroke="#5100ff" stroke-width="4.3"/><polyline points="173,1010 190,1007 210,1005 219,1004 239,1001 260,998 268,997 280,996 284,996 290,997 300,998 306,999 312,1000 321,1004 326,1006 331,1010 336,1014 345,1020 350,1024 355,1028 365,1031 370,1032 374,1033 380,1034 384,1035 388,1036 397,1039 408,1041" stroke="#5b00ff" stroke-width="4.3"/><polyline points="173,1011 190,1009 210,1006 219,1005 239,1003 260,1000 268,999 280,998 284,998 290,999 300,1001 306,1002 312,1003 321,1007 326,1009 331,1012 336,1016 345,1023 350,1027 355,1030 365,1033 370,1035 374,1036 380,1037 384,1038 388,1039 397,1041 408,1044" stroke="#6300fc" stroke-width="4.3"/><polyline points="173,1013 190,1011 210,1008 219,1007 239,1005 260,1002 268,1001 280,1000 284,1000 290,1001 300,1003 306,1004 312,1006 321,1009 326,1011 331,1015 336,1019 345,1026 350,1029 355,1033 365,1036 370,1037 374,1038 380,1040 384,1040 388,1041 397,1044 408,1046" stroke="#6800f6" stroke-width="4.3"/><polyline points="173,1014 190,1012 210,1010 219,1009 239,1006 260,1004 268,1003 280,1001 284,1002 290,1003 300,1006 306,1007 312,1009 321,1012 326,1014 331,1017 336,1021 345,1028 350,1032 355,1036 365,1038 370,1040 374,1041 380,1042 384,1043 388,1044 397,1046 408,1049" stroke="#6d00f0" stroke-width="4.3"/><polyline points="173,1016 190,1014 210,1011 219,1010 239,1008 260,1006 268,1005 280,1003 284,1004 290,1005 300,1008 306,1010 312,1011 321,1014 326,1016 331,1020 336,1024 345,1031 350,1035 355,1038 365,1041 370,1042 374,1043 380,1045 384,1046 388,1047 397,1049 408,1051" stroke="#7200e9" stroke-width="4.3"/><polyline points="173,1017 190,1015 210,1013 219,1012 239,1010 260,1007 268,1007 280,1005 284,1006 290,1008 300,1010 306,1012 312,1014 321,1017 326,1019 331,1022 336,1026 345,1034 350,1037 355,1041 365,1044 370,1045 374,1046 380,1047 384,1048 388,1049 397,1051 408,1054" stroke="#7700e3" stroke-width="4.3"/><polyline points="173,1019 190,1017 210,1015 219,1014 239,1012 260,1009 268,1009 280,1007 284,1008 290,1010 300,1013 306,1015 312,1017 321,1020 326,1021 331,1025 336,1029 345,1036 350,1040 355,1044 365,1046 370,1047 374,1048 380,1050 384,1051 388,1052 397,1054 408,1057" stroke="#7a00de" stroke-width="4.2"/><polyline points="173,1021 190,1019 210,1017 219,1016 239,1014 260,1012 268,1011 280,1010 284,1011 290,1012 300,1015 306,1017 312,1019 321,1022 326,1024 331,1027 336,1032 345,1039 350,1042 355,1046 365,1049 370,1050 374,1051 380,1053 384,1054 388,1055 397,1057 408,1060" stroke="#7b00d9" stroke-width="4.2"/><polyline points="173,1022 190,1021 210,1019 219,1018 239,1016 260,1014 268,1014 280,1012 284,1013 290,1015 300,1018 306,1020 312,1022 321,1025 326,1027 331,1030 336,1034 345,1041 350,1045 355,1048 365,1051 370,1053 374,1054 380,1055 384,1056 388,1058 397,1060 408,1063" stroke="#7b00d4" stroke-width="4.2"/><polyline points="173,1024 190,1022 210,1021 219,1020 239,1018 260,1017 268,1016 280,1015 284,1016 290,1017 300,1020 306,1022 312,1024 321,1028 326,1029 331,1033 336,1037 345,1044 350,1047 355,1051 365,1054 370,1055 374,1056 380,1058 384,1059 388,1060 397,1063 408,1066" stroke="#7c00cf" stroke-width="4.2"/><polyline points="173,1025 190,1024 210,1023 219,1022 239,1021 260,1019 268,1018 280,1018 284,1018 290,1020 300,1023 306,1025 312,1027 321,1030 326,1032 331,1035 336,1039 345,1046 350,1050 355,1053 365,1056 370,1058 374,1059 380,1061 384,1062 388,1063 397,1066 408,1069" stroke="#7c00cb" stroke-width="4.2"/><polyline points="173,1027 190,1026 210,1025 219,1024 239,1023 260,1021 268,1021 280,1020 284,1021 290,1022 300,1025 306,1027 312,1030 321,1033 326,1035 331,1038 336,1042 345,1049 350,1052 355,1056 365,1059 370,1060 374,1062 380,1064 384,1065 388,1066 397,1069 408,1072" stroke="#7d00c6" stroke-width="4.2"/><polyline points="173,1028 190,1028 210,1026 219,1026 239,1025 260,1024 268,1023 280,1023 284,1023 290,1025 300,1027 306,1030 312,1032 321,1035 326,1038 331,1041 336,1045 345,1051 350,1055 355,1058 365,1062 370,1063 374,1065 380,1066 384,1068 388,1069 397,1072 408,1076" stroke="#7d00c1" stroke-width="4.2"/><polyline points="173,1030 190,1029 210,1028 219,1028 239,1027 260,1026 268,1026 280,1025 284,1026 290,1027 300,1030 306,1032 312,1035 321,1038 326,1040 331,1043 336,1047 345,1054 350,1057 355,1061 365,1064 370,1066 374,1067 380,1069 384,1071 388,1072 397,1075 408,1079" stroke="#7e00bc" stroke-width="4.2"/><polyline points="173,1032 190,1031 210,1030 219,1030 239,1029 260,1029 268,1028 280,1028 284,1028 290,1030 300,1032 306,1035 312,1037 321,1041 326,1043 331,1046 336,1050 345,1056 350,1060 355,1063 365,1067 370,1068 374,1070 380,1072 384,1073 388,1075 397,1078 408,1082" stroke="#7e00b8" stroke-width="4.2"/><polyline points="173,1033 190,1033 210,1032 219,1032 239,1032 260,1031 268,1031 280,1030 284,1031 290,1032 300,1035 306,1037 312,1040 321,1043 326,1046 331,1049 336,1053 345,1059 350,1062 355,1066 365,1069 370,1071 374,1073 380,1075 384,1076 388,1078 397,1081 408,1085" stroke="#7f00b3" stroke-width="4.2"/><polyline points="173,1035 190,1035 210,1034 219,1034 239,1034 260,1033 268,1033 280,1033 284,1034 290,1035 300,1037 306,1040 312,1042 321,1046 326,1048 331,1051 336,1055 345,1061 350,1065 355,1068 365,1072 370,1074 374,1075 380,1077 384,1079 388,1081 397,1084 408,1088" stroke="#7f00ae" stroke-width="4.2"/><polyline points="173,1036 190,1036 210,1036 219,1036 239,1036 260,1036 268,1036 280,1036 284,1036 290,1038 300,1040 306,1042 312,1045 321,1049 326,1051 331,1054 336,1058 345,1064 350,1067 355,1070 365,1074 370,1076 374,1078 380,1080 384,1082 388,1083 397,1087 408,1091" stroke="#8000a9" stroke-width="4.2"/><polyline points="173,1038 190,1038 210,1038 219,1038 239,1038 260,1038 268,1038 280,1038 284,1039 290,1040 300,1042 306,1045 312,1047 321,1051 326,1054 331,1057 336,1060 345,1066 350,1069 355,1073 365,1077 370,1079 374,1081 380,1083 384,1085 388,1086 397,1090 408,1094" stroke="#7f00a6" stroke-width="4.2"/><polyline points="173,1040 190,1040 210,1040 219,1040 239,1040 260,1041 268,1041 280,1041 284,1041 290,1043 300,1044 306,1047 312,1050 321,1054 326,1056 331,1059 336,1063 345,1069 350,1072 355,1075 365,1079 370,1081 374,1083 380,1086 384,1087 388,1089 397,1093 408,1098" stroke="#7e00a3" stroke-width="4.2"/><polyline points="173,1041 190,1041 210,1042 219,1042 239,1042 260,1043 268,1043 280,1043 284,1044 290,1045 300,1047 306,1050 312,1053 321,1057 326,1059 331,1062 336,1066 345,1071 350,1074 355,1078 365,1082 370,1084 374,1086 380,1089 384,1090 388,1092 397,1096 408,1101" stroke="#7d00a0" stroke-width="4.2"/><polyline points="173,1043 190,1043 210,1044 219,1044 239,1045 260,1045 268,1046 280,1046 284,1046 290,1048 300,1049 306,1052 312,1055 321,1059 326,1062 331,1065 336,1068 345,1074 350,1077 355,1080 365,1085 370,1087 374,1089 380,1091 384,1093 388,1095 397,1099 408,1104" stroke="#7c009d" stroke-width="4.2"/><polyline points="173,1044 190,1045 210,1046 219,1046 239,1047 260,1048 268,1048 280,1048 284,1049 290,1050 300,1052 306,1055 312,1058 321,1062 326,1065 331,1067 336,1071 345,1077 350,1079 355,1083 365,1087 370,1089 374,1091 380,1094 384,1096 388,1098 397,1102 408,1107" stroke="#7b009a" stroke-width="4.2"/><polyline points="173,1046 190,1047 210,1048 219,1048 239,1049 260,1050 268,1050 280,1051 284,1052 290,1053 300,1054 306,1057 312,1060 321,1065 326,1067 331,1070 336,1073 345,1079 350,1082 355,1085 365,1090 370,1092 374,1094 380,1097 384,1099 388,1101 397,1105 408,1110" stroke="#790097" stroke-width="4.2"/><polyline points="173,1047 190,1048 210,1050 219,1050 239,1051 260,1052 268,1053 280,1054 284,1054 290,1055 300,1057 306,1060 312,1063 321,1067 326,1070 331,1073 336,1076 345,1082 350,1084 355,1087 365,1092 370,1095 374,1097 380,1100 384,1102 388,1104 397,1108 408,1113" stroke="#780094" stroke-width="4.2"/><polyline points="173,1049 190,1050 210,1052 219,1052 239,1053 260,1055 268,1055 280,1056 284,1057 290,1058 300,1059 306,1062 312,1065 321,1070 326,1073 331,1075 336,1079 345,1084 350,1087 355,1090 365,1095 370,1097 374,1100 380,1102 384,1104 388,1106 397,1111 408,1116" stroke="#770091" stroke-width="4.2"/><polyline points="173,1051 190,1052 210,1053 219,1054 239,1056 260,1057 268,1058 280,1059 284,1059 290,1060 300,1061 306,1065 312,1068 321,1073 326,1075 331,1078 336,1081 345,1087 350,1089 355,1092 365,1097 370,1100 374,1102 380,1105 384,1107 388,1109 397,1114 408,1119" stroke="#76008d" stroke-width="4.2"/><polyline points="173,1052 190,1054 210,1055 219,1056 239,1058 260,1060 268,1060 280,1061 284,1062 290,1063 300,1064 306,1067 312,1070 321,1075 326,1078 331,1081 336,1084 345,1089 350,1092 355,1095 365,1100 370,1103 374,1105 380,1108 384,1110 388,1112 397,1117 408,1123" stroke="#75008a" stroke-width="4.2"/><polyline points="173,1054 190,1055 210,1057 219,1058 239,1060 260,1062 268,1063 280,1064 284,1064 290,1065 300,1066 306,1070 312,1073 321,1078 326,1081 331,1083 336,1086 345,1092 350,1094 355,1097 365,1103 370,1105 374,1108 380,1111 384,1113 388,1115 397,1120 408,1126" stroke="#740087" stroke-width="4.2"/><polyline points="173,1055 190,1057 210,1059 219,1060 239,1062 260,1064 268,1065 280,1067 284,1067 290,1068 300,1069 306,1072 312,1076 321,1080 326,1083 331,1086 336,1089 345,1094 350,1097 355,1100 365,1105 370,1108 374,1110 380,1113 384,1116 388,1118 397,1123 408,1129" stroke="#730084" stroke-width="4.2"/><polyline points="173,1057 190,1059 210,1061 219,1062 239,1065 260,1067 268,1068 280,1069 284,1070 290,1070 300,1071 306,1075 312,1078 321,1083 326,1086 331,1089 336,1092 345,1097 350,1099 355,1102 365,1108 370,1110 374,1113 380,1116 384,1118 388,1120 397,1125 408,1132" stroke="#720082" stroke-width="4.3"/><polyline points="173,1060 190,1062 210,1064 219,1065 239,1067 260,1070 268,1070 280,1072 284,1072 290,1073 300,1074 306,1077 312,1081 321,1086 326,1089 331,1091 336,1094 345,1099 350,1102 355,1104 365,1110 370,1113 374,1115 380,1118 384,1120 388,1123 397,1128 408,1134" stroke="#71007f" stroke-width="4.3"/><polyline points="173,1062 190,1064 210,1067 219,1067 239,1070 260,1072 268,1073 280,1075 284,1075 290,1076 300,1077 306,1080 312,1084 321,1088 326,1091 331,1094 336,1097 345,1102 350,1104 355,1107 365,1112 370,1115 374,1117 380,1120 384,1123 388,1125 397,1130 408,1136" stroke="#70007d" stroke-width="4.3"/><polyline points="173,1065 190,1067 210,1069 219,1070 239,1072 260,1075 268,1076 280,1077 284,1078 290,1079 300,1080 306,1083 312,1086 321,1091 326,1094 331,1096 336,1099 345,1104 350,1107 355,1109 365,1115 370,1117 374,1120 380,1123 384,1125 388,1127 397,1132 408,1138" stroke="#6f007b" stroke-width="4.3"/><polyline points="173,1067 190,1069 210,1072 219,1073 239,1075 260,1078 268,1079 280,1080 284,1081 290,1081 300,1082 306,1086 312,1089 321,1094 326,1096 331,1099 336,1102 345,1107 350,1109 355,1112 365,1117 370,1119 374,1122 380,1125 384,1127 388,1129 397,1134 408,1140" stroke="#6e0078" stroke-width="4.3"/><polyline points="173,1069 190,1071 210,1074 219,1075 239,1078 260,1080 268,1081 280,1083 284,1083 290,1084 300,1085 306,1088 312,1092 321,1096 326,1099 331,1101 336,1104 345,1109 350,1111 355,1114 365,1119 370,1122 374,1124 380,1127 384,1129 388,1131 397,1136 408,1142" stroke="#6d0076" stroke-width="4.3"/><polyline points="173,1072 190,1074 210,1077 219,1078 239,1080 260,1083 268,1084 280,1085 284,1086 290,1087 300,1088 306,1091 312,1094 321,1099 326,1102 331,1104 336,1107 345,1112 350,1114 355,1116 365,1122 370,1124 374,1126 380,1129 384,1131 388,1134 397,1138 408,1144" stroke="#6b0074" stroke-width="4.3"/><polyline points="173,1074 190,1076 210,1079 219,1080 239,1083 260,1086 268,1087 280,1088 284,1089 290,1090 300,1091 306,1094 312,1097 321,1102 326,1104 331,1107 336,1109 345,1114 350,1116 355,1119 365,1124 370,1126 374,1129 380,1132 384,1134 388,1136 397,1140 408,1146" stroke="#6a0073" stroke-width="4.3"/><polyline points="173,1076 190,1079 210,1082 219,1083 239,1085 260,1088 268,1089 280,1091 284,1092 290,1092 300,1094 306,1097 312,1100 321,1104 326,1107 331,1109 336,1112 345,1116 350,1119 355,1121 365,1126 370,1129 374,1131 380,1134 384,1136 388,1138 397,1142 408,1148" stroke="#690071" stroke-width="4.3"/></g>
<g clip-path="url(#cp3)" fill="none" stroke="#383838" stroke-width="1.0" opacity="0.7"><polyline points="173.0,1018.2 190.0,1016.2 210.5,1013.9 218.6,1013.0 239.0,1010.7 260.0,1008.3 267.6,1007.4 279.8,1006.0 284.4,1006.7 290.5,1008.6 300.0,1011.6 305.8,1013.5 312.2,1015.5 321.0,1018.3 326.4,1020.0 330.8,1023.4 336.3,1027.8 345.4,1034.9 350.0,1038.5 355.0,1042.4 365.1,1044.8 369.8,1046.0 374.4,1047.1 380.0,1048.4 384.0,1049.4 388.1,1050.3 397.0,1052.5 408.0,1055.1"/><polyline points="173.0,979.5 190.0,976.4 210.5,972.7 218.6,971.2 239.0,967.5 260.0,963.6 267.6,962.2 279.8,960.0 284.4,958.1 290.5,955.6 300.0,951.8 305.8,949.4 312.2,946.8 321.0,953.2 326.4,957.1 330.8,960.3 336.3,964.0 345.4,969.5 350.0,972.2 355.0,975.2 365.1,981.3 369.8,982.5 374.4,983.6 380.0,985.0 384.0,986.0 388.1,987.0 397.0,989.2 408.0,992.0"/><polyline points="173.0,943.4 190.0,940.1 210.5,936.1 218.6,934.5 239.0,930.5 260.0,926.4 267.6,924.9 279.8,922.4 284.4,921.5 290.5,920.3 300.0,917.5 305.8,915.7 312.2,913.8 321.0,911.2 326.4,908.8 330.8,906.9 336.3,904.5 345.4,900.5 350.0,908.4 355.0,917.0 365.1,922.7 369.8,925.4 374.4,928.0 380.0,929.4 384.0,930.5 388.1,931.5 397.0,933.8 408.0,936.6"/><polyline points="173.0,904.1 190.0,901.2 210.5,897.6 218.6,896.2 239.0,892.6 260.0,889.0 267.6,887.7 279.8,885.6 284.4,884.8 290.5,883.7 300.0,880.9 305.8,879.1 312.2,877.2 321.0,874.6 326.4,872.7 330.8,871.2 336.3,869.2 345.4,866.0 350.0,864.4 355.0,862.7 365.1,859.4 369.8,857.8 374.4,870.6 380.0,872.9 384.0,874.6 388.1,875.5 397.0,877.4 408.0,879.7"/><polyline points="173.0,869.2 190.0,865.8 210.5,861.7 218.6,860.0 239.0,855.9 260.0,851.7 267.6,850.2 279.8,847.7 284.4,846.8 290.5,845.6 300.0,842.7 305.8,841.0 312.2,839.1 321.0,836.4 326.4,834.5 330.8,833.0 336.3,831.1 345.4,827.9 350.0,826.3 355.0,824.9 365.1,822.4 369.8,821.2 374.4,820.0 380.0,818.6 384.0,817.6 388.1,816.6 397.0,817.6 408.0,818.9"/><polyline points="173.0,833.9 190.0,830.4 210.5,826.0 218.6,824.3 239.0,820.0 260.0,815.6 267.6,814.0 279.8,811.5 284.4,810.5 290.5,809.2 300.0,807.2 305.8,806.0 312.2,804.4 321.0,802.2 326.4,800.8 330.8,799.7 336.3,798.3 345.4,795.6 350.0,794.2 355.0,792.7 365.1,789.7 369.8,788.4 374.4,787.1 380.0,785.6 384.0,784.5 388.1,783.4 397.0,780.9 408.0,777.9"/><polyline points="173.0,799.7 190.0,795.6 210.5,790.8 218.6,788.9 239.0,784.0 260.0,779.1 267.6,777.2 279.8,774.4 284.4,773.3 290.5,771.8 300.0,769.6 305.8,768.2 312.2,766.7 321.0,764.6 326.4,763.3 330.8,762.3 336.3,761.0 345.4,758.8 350.0,757.7 355.0,756.5 365.1,754.1 369.8,753.0 374.4,751.9 380.0,750.6 384.0,749.7 388.1,748.7 397.0,746.6 408.0,744.0"/><polyline points="173.0,763.7 190.0,759.9 210.5,755.3 218.6,753.5 239.0,749.0 260.0,744.3 267.6,742.6 279.8,739.8 284.4,738.8 290.5,737.4 300.0,735.3 305.8,734.0 312.2,732.6 321.0,730.6 326.4,729.4 330.8,728.4 336.3,727.2 345.4,725.1 350.0,724.1 355.0,723.0 365.1,720.7 369.8,719.7 374.4,718.7 380.0,717.4 384.0,716.5 388.1,715.6 397.0,713.6 408.0,711.1"/><polyline points="173.0,723.8 190.0,720.3 210.5,716.1 218.6,714.4 239.0,710.3 260.0,706.0 267.6,704.4 279.8,701.9 284.4,701.0 290.5,699.7 300.0,697.8 305.8,696.6 312.2,695.3 321.0,693.5 326.4,692.4 330.8,691.5 336.3,690.4 345.4,688.5 350.0,687.6 355.0,686.6 365.1,684.5 369.8,683.5 374.4,682.6 380.0,681.4 384.0,680.6 388.1,679.8 397.0,678.0 408.0,675.7"/></g>
<polygon points="356.7,880.0 358.5,880.0 318.0,961.4 285.5,1010.2 261.0,1067.0 235.0,1067.0 269.2,1010.2 307.8,961.4" fill="#8b8b8b"/>
<polygon points="361.0,880.0 364.0,880.0 338.4,961.4 318.0,1022.4 295.6,1063.0 291.6,1063.0 314.0,1022.4 334.3,961.4" fill="#8b8b8b"/>
<polyline points="383.0,880.0 366.0,940.0 350.0,1000.0 342.0,1060.0" fill="none" stroke="#8a8aa0" stroke-width="0.8" stroke-linejoin="round"/>
<polyline points="363.7,889.8 378.0,850.0 389.7,818.0" fill="none" stroke="#8a8a8a" stroke-width="1.6" stroke-linejoin="round"/>
<polyline points="366.8,862.4 382.0,820.0 397.3,780.0" fill="none" stroke="#8a8a8a" stroke-width="1.0" stroke-linejoin="round"/>
<line x1="34.6" y1="654.5" x2="49.8" y2="1015.3" stroke="#000" stroke-width="3" stroke-linecap="square"/>
<line x1="49.8" y1="1015.3" x2="331.2" y2="1118.6" stroke="#000" stroke-width="3.2" stroke-linecap="square"/>
<line x1="331.2" y1="1118.6" x2="556.8" y2="1000.1" stroke="#000" stroke-width="3.2" stroke-linecap="square"/>
<line x1="49.8" y1="1015.3" x2="43.2" y2="1017.7" stroke="#000" stroke-width="2.2"/>
<text transform="matrix(0.872 -0.322 -0.060 0.998 41.8 1025.4)" font-family="Liberation Sans" font-size="19" font-weight="bold" font-style="normal" text-anchor="end" fill="#000" dy="0">0</text>
<line x1="47.3" y1="955.7" x2="40.6" y2="957.9" stroke="#000" stroke-width="2.2"/>
<text transform="matrix(0.882 -0.295 -0.060 0.998 39.2 965.6)" font-family="Liberation Sans" font-size="19" font-weight="bold" font-style="normal" text-anchor="end" fill="#000" dy="0">1</text>
<line x1="44.7" y1="895.0" x2="38.0" y2="897.0" stroke="#000" stroke-width="2.2"/>
<text transform="matrix(0.891 -0.266 -0.060 0.998 36.6 904.7)" font-family="Liberation Sans" font-size="19" font-weight="bold" font-style="normal" text-anchor="end" fill="#000" dy="0">2</text>
<line x1="42.1" y1="833.3" x2="35.4" y2="835.1" stroke="#000" stroke-width="2.2"/>
<text transform="matrix(0.899 -0.236 -0.060 0.998 33.9 842.7)" font-family="Liberation Sans" font-size="19" font-weight="bold" font-style="normal" text-anchor="end" fill="#000" dy="0">3</text>
<line x1="39.5" y1="770.5" x2="32.7" y2="772.0" stroke="#000" stroke-width="2.2"/>
<text transform="matrix(0.907 -0.205 -0.060 0.998 31.2 779.6)" font-family="Liberation Sans" font-size="19" font-weight="bold" font-style="normal" text-anchor="end" fill="#000" dy="0">4</text>
<line x1="36.8" y1="706.5" x2="29.9" y2="707.8" stroke="#000" stroke-width="2.2"/>
<text transform="matrix(0.914 -0.173 -0.060 0.998 28.4 715.3)" font-family="Liberation Sans" font-size="19" font-weight="bold" font-style="normal" text-anchor="end" fill="#000" dy="0">5</text>
<line x1="76.9" y1="1025.3" x2="70.4" y2="1027.7" stroke="#000" stroke-width="2.2"/>
<text transform="matrix(1.215 -0.464 0.892 0.327 59.2 1032.0)" font-family="Liberation Sans" font-size="15" font-weight="bold" font-style="normal" text-anchor="middle" fill="#000" dy="5">-12</text>
<line x1="107.3" y1="1034.6" x2="102.6" y2="1036.5" stroke="#000" stroke-width="2.2"/>
<line x1="133.9" y1="1046.2" x2="127.5" y2="1048.8" stroke="#000" stroke-width="2.2"/>
<text transform="matrix(1.203 -0.493 0.892 0.327 116.3 1053.4)" font-family="Liberation Sans" font-size="15" font-weight="bold" font-style="normal" text-anchor="middle" fill="#000" dy="5">-10</text>
<line x1="166.2" y1="1056.2" x2="161.6" y2="1058.2" stroke="#000" stroke-width="2.2"/>
<line x1="195.0" y1="1068.6" x2="188.6" y2="1071.4" stroke="#000" stroke-width="2.2"/>
<text transform="matrix(1.189 -0.526 0.892 0.327 177.6 1076.3)" font-family="Liberation Sans" font-size="15" font-weight="bold" font-style="normal" text-anchor="middle" fill="#000" dy="5">-8</text>
<line x1="229.5" y1="1079.4" x2="224.9" y2="1081.5" stroke="#000" stroke-width="2.2"/>
<line x1="260.6" y1="1092.7" x2="254.3" y2="1095.7" stroke="#000" stroke-width="2.2"/>
<text transform="matrix(1.172 -0.563 0.892 0.327 243.5 1100.9)" font-family="Liberation Sans" font-size="15" font-weight="bold" font-style="normal" text-anchor="middle" fill="#000" dy="5">-6</text>
<line x1="297.5" y1="1104.3" x2="293.0" y2="1106.5" stroke="#000" stroke-width="2.2"/>
<line x1="331.2" y1="1118.6" x2="325.0" y2="1121.9" stroke="#000" stroke-width="2.2"/>
<text transform="matrix(1.151 -0.605 0.892 0.327 314.4 1127.4)" font-family="Liberation Sans" font-size="15" font-weight="bold" font-style="normal" text-anchor="middle" fill="#000" dy="5">-4</text>
<line x1="329.8" y1="1118.1" x2="337.8" y2="1121.0" stroke="#000" stroke-width="2.2"/>
<text transform="matrix(1.361 0.500 -0.753 0.395 339.8 1124.1)" font-family="Liberation Sans" font-size="14" font-weight="bold" font-style="normal" text-anchor="start" fill="#000" dy="0">0.0000</text>
<line x1="358.4" y1="1102.3" x2="363.1" y2="1103.9" stroke="#000" stroke-width="2.2"/>
<line x1="387.6" y1="1087.8" x2="395.6" y2="1090.5" stroke="#000" stroke-width="2.2"/>
<text transform="matrix(1.313 0.448 -0.753 0.395 397.7 1093.5)" font-family="Liberation Sans" font-size="14" font-weight="bold" font-style="normal" text-anchor="start" fill="#000" dy="0">0.0005</text>
<line x1="413.6" y1="1073.3" x2="418.4" y2="1074.8" stroke="#000" stroke-width="2.2"/>
<line x1="440.5" y1="1060.0" x2="448.6" y2="1062.6" stroke="#000" stroke-width="2.2"/>
<text transform="matrix(1.267 0.403 -0.753 0.395 450.7 1065.5)" font-family="Liberation Sans" font-size="14" font-weight="bold" font-style="normal" text-anchor="start" fill="#000" dy="0">0.0010</text>
<line x1="464.4" y1="1046.7" x2="469.2" y2="1048.1" stroke="#000" stroke-width="2.2"/>
<line x1="489.2" y1="1034.4" x2="497.3" y2="1036.9" stroke="#000" stroke-width="2.2"/>
<text transform="matrix(1.223 0.365 -0.753 0.395 499.5 1039.7)" font-family="Liberation Sans" font-size="14" font-weight="bold" font-style="normal" text-anchor="start" fill="#000" dy="0">0.0015</text>
<line x1="511.2" y1="1022.1" x2="516.0" y2="1023.5" stroke="#000" stroke-width="2.2"/>
<line x1="534.2" y1="1010.8" x2="542.3" y2="1013.1" stroke="#000" stroke-width="2.2"/>
<text transform="matrix(1.182 0.332 -0.753 0.395 544.5 1015.9)" font-family="Liberation Sans" font-size="14" font-weight="bold" font-style="normal" text-anchor="start" fill="#000" dy="0">0.0020</text>
<rect x="598.6" y="635.6" width="33.39999999999998" height="342.4" fill="#fff" stroke="#000" stroke-width="1.6"/>
<rect x="598.6" y="638.7" width="33.39999999999998" height="335.5" fill="url(#ccb)"/>
<rect x="598.6" y="974.2" width="33.39999999999998" height="3.7999999999999545" fill="#000"/>
<rect x="598.6" y="635.6" width="33.39999999999998" height="342.4" fill="none" stroke="#222" stroke-width="1.6"/>
<line x1="632.0" y1="638.7" x2="640.0" y2="638.7" stroke="#000" stroke-width="1.6"/>
<text x="645.5" y="643.7" font-family="Liberation Sans" font-size="14" font-weight="bold">5.640</text>
<line x1="632.0" y1="672.2" x2="640.0" y2="672.2" stroke="#000" stroke-width="1.6"/>
<text x="645.5" y="677.2" font-family="Liberation Sans" font-size="14" font-weight="bold">5.076</text>
<line x1="632.0" y1="705.8" x2="640.0" y2="705.8" stroke="#000" stroke-width="1.6"/>
<text x="645.5" y="710.8" font-family="Liberation Sans" font-size="14" font-weight="bold">4.512</text>
<line x1="632.0" y1="739.4" x2="640.0" y2="739.4" stroke="#000" stroke-width="1.6"/>
<text x="645.5" y="744.4" font-family="Liberation Sans" font-size="14" font-weight="bold">3.948</text>
<line x1="632.0" y1="772.9" x2="640.0" y2="772.9" stroke="#000" stroke-width="1.6"/>
<text x="645.5" y="777.9" font-family="Liberation Sans" font-size="14" font-weight="bold">3.384</text>
<line x1="632.0" y1="806.5" x2="640.0" y2="806.5" stroke="#000" stroke-width="1.6"/>
<text x="645.5" y="811.5" font-family="Liberation Sans" font-size="14" font-weight="bold">2.820</text>
<line x1="632.0" y1="840.0" x2="640.0" y2="840.0" stroke="#000" stroke-width="1.6"/>
<text x="645.5" y="845.0" font-family="Liberation Sans" font-size="14" font-weight="bold">2.256</text>
<line x1="632.0" y1="873.6" x2="640.0" y2="873.6" stroke="#000" stroke-width="1.6"/>
<text x="645.5" y="878.6" font-family="Liberation Sans" font-size="14" font-weight="bold">1.692</text>
<line x1="632.0" y1="907.1" x2="640.0" y2="907.1" stroke="#000" stroke-width="1.6"/>
<text x="645.5" y="912.1" font-family="Liberation Sans" font-size="14" font-weight="bold">1.128</text>
<line x1="632.0" y1="940.7" x2="640.0" y2="940.7" stroke="#000" stroke-width="1.6"/>
<text x="645.5" y="945.7" font-family="Liberation Sans" font-size="14" font-weight="bold">0.5640</text>
<line x1="632.0" y1="974.2" x2="640.0" y2="974.2" stroke="#000" stroke-width="1.6"/>
<text x="645.5" y="979.2" font-family="Liberation Sans" font-size="14" font-weight="bold">0.000</text>
<text x="549.5" y="619.5" font-family="Liberation Sans" font-size="22.5" font-weight="bold">ZT color bar</text>
<text transform="translate(10.7,849) rotate(87.5) scale(1.13,1)" font-family="Liberation Sans" font-size="19" font-weight="bold" text-anchor="middle" dominant-baseline="central">Electronic ZT</text>
<text x="313.6" y="1174" font-family="Liberation Sans" font-size="22" font-weight="bold" text-anchor="middle">(c)</text>
<text transform="matrix(1.050 0.391 -0.784 0.442 134.0 1085.5)" font-family="Liberation Sans" font-size="16" font-weight="bold" font-style="normal" text-anchor="middle" fill="#000" dy="0">Fermi level (eV)</text>
<text transform="matrix(0.834 -0.455 0.751 0.661 537.0 1086.5)" font-family="Liberation Sans" font-size="16" font-weight="bold" font-style="normal" text-anchor="middle" fill="#000" dy="0">Power factor (W/K2 m)</text>
<line x1="874.2" y1="996.0" x2="862.4" y2="646.4" stroke="#d4d4d4" stroke-width="1"/>
<line x1="873.8" y1="996.1" x2="1153.4" y2="1093.0" stroke="#d4d4d4" stroke-width="1"/>
<line x1="922.2" y1="977.6" x2="912.8" y2="638.3" stroke="#d4d4d4" stroke-width="1"/>
<line x1="921.7" y1="977.8" x2="1198.3" y2="1069.4" stroke="#d4d4d4" stroke-width="1"/>
<line x1="967.4" y1="960.4" x2="960.2" y2="630.7" stroke="#d4d4d4" stroke-width="1"/>
<line x1="966.9" y1="960.6" x2="1240.4" y2="1047.2" stroke="#d4d4d4" stroke-width="1"/>
<line x1="1010.1" y1="944.1" x2="1004.7" y2="623.5" stroke="#d4d4d4" stroke-width="1"/>
<line x1="1009.7" y1="944.2" x2="1280.0" y2="1026.3" stroke="#d4d4d4" stroke-width="1"/>
<line x1="1050.3" y1="928.7" x2="1046.7" y2="616.8" stroke="#d4d4d4" stroke-width="1"/>
<line x1="1050.2" y1="928.7" x2="1317.3" y2="1006.7" stroke="#d4d4d4" stroke-width="1"/>
<line x1="821.1" y1="965.9" x2="1063.5" y2="880.8" stroke="#d4d4d4" stroke-width="1"/>
<line x1="1063.5" y1="881.7" x2="1332.0" y2="953.0" stroke="#d4d4d4" stroke-width="1"/>
<line x1="819.1" y1="915.7" x2="1063.0" y2="837.6" stroke="#d4d4d4" stroke-width="1"/>
<line x1="1063.1" y1="839.1" x2="1334.2" y2="904.9" stroke="#d4d4d4" stroke-width="1"/>
<line x1="817.0" y1="864.9" x2="1062.6" y2="793.9" stroke="#d4d4d4" stroke-width="1"/>
<line x1="1062.6" y1="795.8" x2="1336.5" y2="855.9" stroke="#d4d4d4" stroke-width="1"/>
<line x1="815.0" y1="813.4" x2="1062.2" y2="749.8" stroke="#d4d4d4" stroke-width="1"/>
<line x1="1062.2" y1="751.7" x2="1338.8" y2="805.8" stroke="#d4d4d4" stroke-width="1"/>
<line x1="812.9" y1="761.3" x2="1061.7" y2="705.2" stroke="#d4d4d4" stroke-width="1"/>
<line x1="1061.7" y1="706.8" x2="1341.2" y2="754.7" stroke="#d4d4d4" stroke-width="1"/>
<line x1="810.8" y1="708.5" x2="1061.3" y2="660.1" stroke="#d4d4d4" stroke-width="1"/>
<line x1="1061.3" y1="661.1" x2="1343.6" y2="702.5" stroke="#d4d4d4" stroke-width="1"/>
<line x1="1115.6" y1="938.4" x2="1115.8" y2="621.2" stroke="#d4d4d4" stroke-width="1"/>
<line x1="878.4" y1="1035.6" x2="1116.7" y2="938.7" stroke="#d4d4d4" stroke-width="1"/>
<line x1="1172.2" y1="954.7" x2="1176.4" y2="628.6" stroke="#d4d4d4" stroke-width="1"/>
<line x1="938.8" y1="1057.6" x2="1174.0" y2="955.2" stroke="#d4d4d4" stroke-width="1"/>
<line x1="1232.4" y1="972.0" x2="1240.9" y2="636.4" stroke="#d4d4d4" stroke-width="1"/>
<line x1="1002.6" y1="1080.8" x2="1234.0" y2="972.5" stroke="#d4d4d4" stroke-width="1"/>
<line x1="1296.3" y1="990.4" x2="1309.9" y2="644.8" stroke="#d4d4d4" stroke-width="1"/>
<line x1="1070.2" y1="1105.4" x2="1297.1" y2="990.7" stroke="#d4d4d4" stroke-width="1"/>
<line x1="808.6" y1="655.0" x2="1060.8" y2="614.5" stroke="#555" stroke-width="1.1"/>
<line x1="1060.8" y1="614.5" x2="1346.1" y2="649.2" stroke="#555" stroke-width="1.1"/>
<line x1="1346.1" y1="649.2" x2="1329.8" y2="1000.1" stroke="#555" stroke-width="1.1"/>
<line x1="1060.8" y1="614.5" x2="1063.9" y2="923.5" stroke="#555" stroke-width="1.1"/>
<line x1="823.1" y1="1015.5" x2="1063.9" y2="923.5" stroke="#555" stroke-width="1.1"/>
<line x1="1063.9" y1="923.5" x2="1329.8" y2="1000.1" stroke="#555" stroke-width="1.1"/>
<polygon points="823.1,1015.5 974.6,982.3 978.0,1010.0 955.4,1060.4 955.4,1064.3" fill="#8b8b8b"/>
<polygon points="835.0,1014.6 975.0,984.5 975.0,987.0 840.0,1017.0" fill="#6a006e"/>
<polygon points="874.3,1029.5 972.0,992.4 971.0,996.5 880.0,1032.0" fill="#6a006e"/>
<polygon points="902.4,1038.5 966.0,1010.4 965.0,1015.0 908.0,1041.0" fill="#6a006e"/>
<polygon points="910.4,1046.6 956.6,1038.5 954.6,1060.6" fill="#6a006e"/>
<polygon points="955.4,1062.0 1001.7,1080.3 1081.0,1009.8 1138.0,992.7 1110.0,950.0 1000.0,1000.0" fill="#6a006e"/>
<polygon points="1001.7,1080.3 1105.5,1118.3 1208.1,980.5 1138.0,992.7 1081.0,1009.8" fill="#8b8b8b"/>
<polygon points="1004.0,1079.0 1022.0,1083.0 1131.0,1001.0 1208.1,980.5 1120.0,998.0" fill="#72008a"/>
<polygon points="1080.0,1108.5 1091.0,1112.0 1208.1,981.0 1204.0,981.0" fill="#6a006e"/>
<polygon points="1060.0,1100.0 1065.0,1102.0 1206.0,981.0 1203.0,981.0" fill="#7a2a8a"/>
<polygon points="1040.0,1068.0 1048.0,1064.0 1205.0,981.0 1200.0,981.0" fill="#74108a"/>
<polygon points="1096.0,880.0 1109.5,919.5 1208.1,980.5 1138.0,992.7 1112.5,932.7" fill="url(#zg2)"/>
<polyline points="1128.8,968.3 1168.0,959.5" fill="none" stroke="#383838" stroke-width="1.0" stroke-linejoin="round" opacity="0.6"/>
<polyline points="1112.5,932.7 1138.0,992.7" fill="none" stroke="#8a8aa0" stroke-width="1.2" stroke-linejoin="round"/>
<g clip-path="url(#cp4)" fill="none" stroke-linejoin="round"><polyline points="949,644 955,642 973,638 984,635 993,633 998,632 1004,630 1009,629 1016,627 1023,625 1052,618 1059,616 1066,615 1074,613 1084,610 1094,608 1100,606 1107,605 1144,596" stroke="#580000" stroke-width="4.2"/><polyline points="949,646 955,644 973,640 984,637 993,635 998,634 1004,632 1009,631 1016,630 1023,628 1052,621 1059,619 1066,618 1074,616 1084,613 1094,611 1100,609 1107,608 1144,599" stroke="#5c0000" stroke-width="4.2"/><polyline points="949,648 955,647 973,642 984,640 993,638 998,636 1004,635 1009,634 1016,632 1023,630 1052,624 1059,622 1066,620 1074,618 1084,616 1094,614 1100,612 1107,610 1144,602" stroke="#610000" stroke-width="4.2"/><polyline points="949,650 955,649 973,645 984,642 993,640 998,639 1004,637 1009,636 1016,635 1023,633 1052,626 1059,625 1066,623 1074,621 1084,619 1094,617 1100,615 1107,613 1144,605" stroke="#650000" stroke-width="4.2"/><polyline points="949,652 955,651 973,647 984,644 993,642 998,641 1004,640 1009,639 1016,637 1023,635 1052,629 1059,627 1066,626 1074,624 1084,622 1094,619 1100,618 1107,616 1144,608" stroke="#690000" stroke-width="4.2"/><polyline points="949,654 955,653 973,649 984,647 993,645 998,643 1004,642 1009,641 1016,639 1023,638 1052,632 1059,630 1066,628 1074,627 1084,625 1094,622 1100,621 1107,619 1144,611" stroke="#6d0000" stroke-width="4.2"/><polyline points="949,656 955,655 973,651 984,649 993,647 998,646 1004,644 1009,643 1016,642 1023,640 1052,634 1059,633 1066,631 1074,629 1084,627 1094,625 1100,624 1107,622 1144,614" stroke="#720000" stroke-width="4.2"/><polyline points="949,658 955,657 973,653 984,651 993,649 998,648 1004,647 1009,646 1016,644 1023,643 1052,637 1059,635 1066,634 1074,632 1084,630 1094,628 1100,627 1107,625 1144,617" stroke="#760000" stroke-width="4.2"/><polyline points="949,660 955,659 973,656 984,653 993,652 998,650 1004,649 1009,648 1016,647 1023,645 1052,639 1059,638 1066,637 1074,635 1084,633 1094,631 1100,630 1107,628 1144,621" stroke="#7a0000" stroke-width="4.2"/><polyline points="949,663 955,661 973,658 984,656 993,654 998,653 1004,652 1009,651 1016,649 1023,648 1052,642 1059,641 1066,639 1074,638 1084,636 1094,634 1100,633 1107,631 1144,624" stroke="#7f0000" stroke-width="4.2"/><polyline points="949,665 955,664 973,660 984,658 993,656 998,655 1004,654 1009,653 1016,652 1023,650 1052,645 1059,643 1066,642 1074,640 1084,639 1094,637 1100,635 1107,634 1144,627" stroke="#830000" stroke-width="4.2"/><polyline points="949,667 955,666 973,662 984,660 993,659 998,658 1004,656 1009,655 1016,654 1023,653 1052,647 1059,646 1066,645 1074,643 1084,641 1094,639 1100,638 1107,637 1144,630" stroke="#880000" stroke-width="4.2"/><polyline points="949,669 955,668 973,665 984,663 993,661 998,660 1004,659 1009,658 1016,657 1023,655 1052,650 1059,649 1066,647 1074,646 1084,644 1094,642 1100,641 1107,640 1144,633" stroke="#8c0000" stroke-width="4.2"/><polyline points="949,671 955,670 973,667 984,665 993,663 998,662 1004,661 1009,660 1016,659 1023,658 1052,653 1059,651 1066,650 1074,649 1084,647 1094,645 1100,644 1107,643 1144,636" stroke="#910000" stroke-width="4.2"/><polyline points="949,673 955,672 973,669 984,667 993,666 998,665 1004,664 1009,663 1016,661 1023,660 1052,655 1059,654 1066,653 1074,651 1084,650 1094,648 1100,647 1107,646 1144,639" stroke="#950000" stroke-width="4.2"/><polyline points="949,675 955,674 973,671 984,669 993,668 998,667 1004,666 1009,665 1016,664 1023,663 1052,658 1059,657 1066,656 1074,654 1084,653 1094,651 1100,650 1107,649 1144,643" stroke="#9a0000" stroke-width="4.2"/><polyline points="949,678 955,677 973,674 984,672 993,670 998,669 1004,668 1009,668 1016,667 1023,665 1052,661 1059,659 1066,658 1074,657 1084,655 1094,654 1100,653 1107,651 1144,645" stroke="#9f0000" stroke-width="4.3"/><polyline points="949,680 955,680 973,677 984,675 993,673 998,672 1004,671 1009,670 1016,669 1023,668 1052,663 1059,662 1066,661 1074,660 1084,658 1094,656 1100,655 1107,654 1144,648" stroke="#a40000" stroke-width="4.3"/><polyline points="949,683 955,682 973,679 984,677 993,676 998,675 1004,674 1009,673 1016,672 1023,671 1052,666 1059,665 1066,664 1074,662 1084,661 1094,659 1100,658 1107,657 1144,650" stroke="#aa0000" stroke-width="4.3"/><polyline points="949,686 955,685 973,682 984,680 993,679 998,678 1004,677 1009,676 1016,675 1023,674 1052,669 1059,667 1066,666 1074,665 1084,663 1094,661 1100,660 1107,659 1144,653" stroke="#af0000" stroke-width="4.3"/><polyline points="949,689 955,688 973,685 984,683 993,682 998,681 1004,680 1009,679 1016,678 1023,676 1052,671 1059,670 1066,669 1074,667 1084,666 1094,664 1100,663 1107,662 1144,655" stroke="#b50000" stroke-width="4.3"/><polyline points="949,692 955,691 973,688 984,686 993,684 998,683 1004,682 1009,682 1016,680 1023,679 1052,674 1059,673 1066,672 1074,670 1084,668 1094,667 1100,666 1107,664 1144,658" stroke="#ba0000" stroke-width="4.3"/><polyline points="949,695 955,694 973,691 984,689 993,687 998,686 1004,685 1009,684 1016,683 1023,682 1052,677 1059,675 1066,674 1074,673 1084,671 1094,669 1100,668 1107,667 1144,661" stroke="#c00000" stroke-width="4.3"/><polyline points="949,698 955,697 973,693 984,691 993,690 998,689 1004,688 1009,687 1016,686 1023,685 1052,679 1059,678 1066,677 1074,675 1084,674 1094,672 1100,671 1107,670 1144,663" stroke="#c50000" stroke-width="4.3"/><polyline points="949,700 955,699 973,696 984,694 993,693 998,692 1004,691 1009,690 1016,689 1023,687 1052,682 1059,681 1066,680 1074,678 1084,676 1094,675 1100,673 1107,672 1144,666" stroke="#ca0000" stroke-width="4.3"/><polyline points="949,703 955,702 973,699 984,697 993,695 998,694 1004,693 1009,693 1016,691 1023,690 1052,685 1059,683 1066,682 1074,681 1084,679 1094,677 1100,676 1107,675 1144,668" stroke="#cf0000" stroke-width="4.3"/><polyline points="949,706 955,705 973,702 984,700 993,698 998,697 1004,696 1009,695 1016,694 1023,693 1052,687 1059,686 1066,685 1074,683 1084,682 1094,680 1100,679 1107,677 1144,671" stroke="#d40000" stroke-width="4.3"/><polyline points="949,709 955,708 973,705 984,703 993,701 998,700 1004,699 1009,698 1016,697 1023,695 1052,690 1059,689 1066,688 1074,686 1084,684 1094,682 1100,681 1107,680 1144,673" stroke="#d90000" stroke-width="4.3"/><polyline points="949,712 955,711 973,708 984,705 993,704 998,703 1004,702 1009,701 1016,699 1023,698 1052,693 1059,691 1066,690 1074,689 1084,687 1094,685 1100,684 1107,683 1144,676" stroke="#dd0000" stroke-width="4.3"/><polyline points="949,715 955,714 973,710 984,708 993,707 998,706 1004,704 1009,704 1016,702 1023,701 1052,696 1059,694 1066,693 1074,691 1084,690 1094,688 1100,686 1107,685 1144,678" stroke="#e20000" stroke-width="4.3"/><polyline points="949,718 955,717 973,713 984,711 993,709 998,708 1004,707 1009,706 1016,705 1023,704 1052,698 1059,697 1066,696 1074,694 1084,692 1094,690 1100,689 1107,688 1144,681" stroke="#e70000" stroke-width="4.3"/><polyline points="949,721 955,719 973,716 984,714 993,712 998,711 1004,710 1009,709 1016,708 1023,706 1052,701 1059,699 1066,698 1074,697 1084,695 1094,693 1100,692 1107,690 1144,683" stroke="#ec0000" stroke-width="4.3"/><polyline points="949,723 955,722 973,719 984,717 993,715 998,714 1004,713 1009,712 1016,710 1023,709 1052,704 1059,702 1066,701 1074,699 1084,697 1094,695 1100,694 1107,693 1144,686" stroke="#ee0000" stroke-width="4.2"/><polyline points="949,726 955,725 973,722 984,719 993,718 998,717 1004,715 1009,715 1016,713 1023,712 1052,706 1059,705 1066,703 1074,702 1084,700 1094,698 1100,697 1107,695 1144,688" stroke="#ef0000" stroke-width="4.2"/><polyline points="949,729 955,728 973,724 984,722 993,720 998,719 1004,718 1009,717 1016,716 1023,714 1052,709 1059,707 1066,706 1074,704 1084,703 1094,701 1100,699 1107,698 1144,691" stroke="#f00000" stroke-width="4.2"/><polyline points="949,732 955,731 973,727 984,725 993,723 998,722 1004,721 1009,720 1016,719 1023,717 1052,711 1059,710 1066,709 1074,707 1084,705 1094,703 1100,702 1107,700 1144,693" stroke="#f10000" stroke-width="4.2"/><polyline points="949,735 955,733 973,730 984,728 993,726 998,725 1004,724 1009,723 1016,721 1023,720 1052,714 1059,713 1066,711 1074,710 1084,708 1094,706 1100,704 1107,703 1144,696" stroke="#f20000" stroke-width="4.2"/><polyline points="949,737 955,736 973,733 984,730 993,729 998,727 1004,726 1009,725 1016,724 1023,722 1052,717 1059,715 1066,714 1074,712 1084,710 1094,708 1100,707 1107,706 1144,698" stroke="#f30000" stroke-width="4.2"/><polyline points="949,740 955,739 973,735 984,733 993,731 998,730 1004,729 1009,728 1016,727 1023,725 1052,719 1059,718 1066,716 1074,715 1084,713 1094,711 1100,710 1107,708 1144,701" stroke="#f40000" stroke-width="4.2"/><polyline points="949,743 955,742 973,738 984,736 993,734 998,733 1004,732 1009,731 1016,729 1023,728 1052,722 1059,720 1066,719 1074,717 1084,715 1094,713 1100,712 1107,711 1144,703" stroke="#f50000" stroke-width="4.2"/><polyline points="949,746 955,745 973,741 984,739 993,737 998,736 1004,734 1009,733 1016,732 1023,730 1052,725 1059,723 1066,722 1074,720 1084,718 1094,716 1100,715 1107,713 1144,706" stroke="#f60000" stroke-width="4.2"/><polyline points="949,749 955,747 973,744 984,741 993,740 998,738 1004,737 1009,736 1016,735 1023,733 1052,727 1059,726 1066,724 1074,723 1084,721 1094,718 1100,717 1107,716 1144,708" stroke="#f70000" stroke-width="4.2"/><polyline points="949,751 955,750 973,746 984,744 993,742 998,741 1004,740 1009,739 1016,737 1023,736 1052,730 1059,728 1066,727 1074,725 1084,723 1094,721 1100,720 1107,718 1144,710" stroke="#f80000" stroke-width="4.2"/><polyline points="949,754 955,753 973,749 984,747 993,745 998,744 1004,743 1009,742 1016,740 1023,739 1052,732 1059,731 1066,729 1074,728 1084,726 1094,724 1100,722 1107,721 1144,713" stroke="#f90000" stroke-width="4.2"/><polyline points="949,757 955,756 973,752 984,750 993,748 998,747 1004,745 1009,744 1016,743 1023,741 1052,735 1059,733 1066,732 1074,730 1084,728 1094,726 1100,725 1107,723 1144,715" stroke="#fa0000" stroke-width="4.2"/><polyline points="949,760 955,759 973,755 984,752 993,750 998,749 1004,748 1009,747 1016,745 1023,744 1052,738 1059,736 1066,735 1074,733 1084,731 1094,729 1100,727 1107,726 1144,718" stroke="#fb0000" stroke-width="4.2"/><polyline points="949,763 955,761 973,757 984,755 993,753 998,752 1004,751 1009,750 1016,748 1023,747 1052,740 1059,739 1066,737 1074,735 1084,733 1094,731 1100,730 1107,728 1144,720" stroke="#fc0000" stroke-width="4.2"/><polyline points="949,765 955,764 973,760 984,758 993,756 998,755 1004,753 1009,752 1016,751 1023,749 1052,743 1059,741 1066,740 1074,738 1084,736 1094,734 1100,732 1107,731 1144,723" stroke="#fd0000" stroke-width="4.2"/><polyline points="949,768 955,767 973,763 984,761 993,759 998,757 1004,756 1009,755 1016,753 1023,752 1052,746 1059,744 1066,743 1074,741 1084,739 1094,736 1100,735 1107,733 1144,725" stroke="#fe0000" stroke-width="4.2"/><polyline points="949,771 955,770 973,766 984,763 993,761 998,760 1004,759 1009,758 1016,756 1023,755 1052,748 1059,747 1066,745 1074,743 1084,741 1094,739 1100,738 1107,736 1144,728" stroke="#ff0000" stroke-width="4.2"/><polyline points="949,773 955,772 973,768 984,766 993,764 998,763 1004,761 1009,760 1016,759 1023,757 1052,751 1059,749 1066,748 1074,746 1084,744 1094,742 1100,740 1107,739 1144,731" stroke="#ff0700" stroke-width="4.2"/><polyline points="949,776 955,775 973,771 984,768 993,766 998,765 1004,764 1009,763 1016,761 1023,760 1052,754 1059,752 1066,750 1074,749 1084,747 1094,744 1100,743 1107,741 1144,733" stroke="#ff0f00" stroke-width="4.2"/><polyline points="949,779 955,777 973,773 984,771 993,769 998,768 1004,767 1009,766 1016,764 1023,762 1052,756 1059,754 1066,753 1074,751 1084,749 1094,747 1100,746 1107,744 1144,736" stroke="#ff1800" stroke-width="4.2"/><polyline points="949,781 955,780 973,776 984,774 993,772 998,771 1004,769 1009,768 1016,767 1023,765 1052,759 1059,757 1066,756 1074,754 1084,752 1094,750 1100,748 1107,747 1144,739" stroke="#ff2000" stroke-width="4.2"/><polyline points="949,784 955,783 973,779 984,776 993,774 998,773 1004,772 1009,771 1016,769 1023,768 1052,761 1059,760 1066,758 1074,756 1084,754 1094,752 1100,751 1107,749 1144,741" stroke="#ff2800" stroke-width="4.2"/><polyline points="949,787 955,785 973,781 984,779 993,777 998,776 1004,774 1009,773 1016,772 1023,770 1052,764 1059,762 1066,761 1074,759 1084,757 1094,755 1100,753 1107,752 1144,744" stroke="#ff3000" stroke-width="4.2"/><polyline points="949,789 955,788 973,784 984,782 993,780 998,778 1004,777 1009,776 1016,775 1023,773 1052,767 1059,765 1066,764 1074,762 1084,760 1094,757 1100,756 1107,754 1144,746" stroke="#ff3800" stroke-width="4.2"/><polyline points="949,792 955,791 973,787 984,784 993,782 998,781 1004,780 1009,779 1016,777 1023,776 1052,769 1059,768 1066,766 1074,764 1084,762 1094,760 1100,759 1107,757 1144,749" stroke="#ff4000" stroke-width="4.2"/><polyline points="949,795 955,793 973,789 984,787 993,785 998,784 1004,782 1009,781 1016,780 1023,778 1052,772 1059,770 1066,769 1074,767 1084,765 1094,763 1100,761 1107,760 1144,752" stroke="#ff4800" stroke-width="4.2"/><polyline points="949,797 955,796 973,792 984,790 993,788 998,786 1004,785 1009,784 1016,782 1023,781 1052,775 1059,773 1066,771 1074,770 1084,768 1094,765 1100,764 1107,762 1144,754" stroke="#ff5000" stroke-width="4.2"/><polyline points="949,800 955,799 973,795 984,792 993,790 998,789 1004,788 1009,787 1016,785 1023,784 1052,777 1059,776 1066,774 1074,772 1084,770 1094,768 1100,767 1107,765 1144,757" stroke="#ff5800" stroke-width="4.2"/><polyline points="949,802 955,801 973,797 984,795 993,793 998,792 1004,790 1009,789 1016,788 1023,786 1052,780 1059,778 1066,777 1074,775 1084,773 1094,771 1100,769 1107,768 1144,760" stroke="#ff6000" stroke-width="4.2"/><polyline points="949,805 955,804 973,800 984,797 993,795 998,794 1004,793 1009,792 1016,790 1023,789 1052,783 1059,781 1066,779 1074,778 1084,775 1094,773 1100,772 1107,770 1144,762" stroke="#ff6800" stroke-width="4.2"/><polyline points="949,808 955,806 973,802 984,800 993,798 998,797 1004,796 1009,795 1016,793 1023,791 1052,785 1059,783 1066,782 1074,780 1084,778 1094,776 1100,775 1107,773 1144,765" stroke="#ff7000" stroke-width="4.2"/><polyline points="949,810 955,809 973,805 984,803 993,801 998,800 1004,798 1009,797 1016,796 1023,794 1052,788 1059,786 1066,785 1074,783 1084,781 1094,778 1100,777 1107,775 1144,767" stroke="#ff7800" stroke-width="4.2"/><polyline points="949,813 955,812 973,808 984,805 993,803 998,802 1004,801 1009,800 1016,798 1023,797 1052,790 1059,789 1066,787 1074,785 1084,783 1094,781 1100,780 1107,778 1144,770" stroke="#ff8100" stroke-width="4.2"/><polyline points="949,816 955,815 973,811 984,808 993,806 998,805 1004,804 1009,802 1016,801 1023,799 1052,793 1059,791 1066,790 1074,788 1084,786 1094,784 1100,782 1107,781 1144,772" stroke="#ff8900" stroke-width="4.2"/><polyline points="949,819 955,817 973,813 984,811 993,809 998,808 1004,806 1009,805 1016,804 1023,802 1052,796 1059,794 1066,792 1074,791 1084,788 1094,786 1100,785 1107,783 1144,775" stroke="#ff9200" stroke-width="4.2"/><polyline points="949,821 955,820 973,816 984,813 993,811 998,810 1004,809 1009,808 1016,806 1023,805 1052,798 1059,796 1066,795 1074,793 1084,791 1094,789 1100,787 1107,786 1144,777" stroke="#ff9a00" stroke-width="4.2"/><polyline points="949,824 955,823 973,819 984,816 993,814 998,813 1004,812 1009,810 1016,809 1023,807 1052,801 1059,799 1066,798 1074,796 1084,794 1094,791 1100,790 1107,788 1144,780" stroke="#ffa300" stroke-width="4.2"/><polyline points="949,827 955,825 973,821 984,819 993,817 998,816 1004,814 1009,813 1016,811 1023,810 1052,803 1059,802 1066,800 1074,798 1084,796 1094,794 1100,792 1107,791 1144,782" stroke="#ffab00" stroke-width="4.2"/><polyline points="949,829 955,828 973,824 984,821 993,819 998,818 1004,817 1009,816 1016,814 1023,813 1052,806 1059,804 1066,803 1074,801 1084,799 1094,796 1100,795 1107,793 1144,785" stroke="#ffb400" stroke-width="4.2"/><polyline points="949,832 955,831 973,827 984,824 993,822 998,821 1004,819 1009,818 1016,817 1023,815 1052,809 1059,807 1066,805 1074,803 1084,801 1094,799 1100,798 1107,796 1144,788" stroke="#ffbc00" stroke-width="4.2"/><polyline points="949,835 955,833 973,829 984,827 993,825 998,824 1004,822 1009,821 1016,819 1023,818 1052,811 1059,809 1066,808 1074,806 1084,804 1094,802 1100,800 1107,798 1144,790" stroke="#ffc500" stroke-width="4.2"/><polyline points="949,837 955,836 973,832 984,829 993,827 998,826 1004,825 1009,824 1016,822 1023,820 1052,814 1059,812 1066,811 1074,809 1084,806 1094,804 1100,803 1107,801 1144,793" stroke="#ffce00" stroke-width="4.2"/><polyline points="949,840 955,839 973,835 984,832 993,830 998,829 1004,827 1009,826 1016,825 1023,823 1052,816 1059,815 1066,813 1074,811 1084,809 1094,807 1100,805 1107,804 1144,795" stroke="#ffd700" stroke-width="4.2"/><polyline points="949,843 955,842 973,837 984,835 993,833 998,831 1004,830 1009,829 1016,827 1023,826 1052,819 1059,817 1066,816 1074,814 1084,812 1094,809 1100,808 1107,806 1144,798" stroke="#ffe000" stroke-width="4.2"/><polyline points="949,846 955,844 973,840 984,838 993,835 998,834 1004,833 1009,832 1016,830 1023,828 1052,822 1059,820 1066,818 1074,816 1084,814 1094,812 1100,810 1107,809 1144,800" stroke="#ffe900" stroke-width="4.2"/><polyline points="949,848 955,847 973,843 984,840 993,838 998,837 1004,835 1009,834 1016,833 1023,831 1052,824 1059,822 1066,821 1074,819 1084,817 1094,814 1100,813 1107,811 1144,803" stroke="#fff200" stroke-width="4.2"/><polyline points="949,851 955,850 973,845 984,843 993,841 998,839 1004,838 1009,837 1016,835 1023,834 1052,827 1059,825 1066,824 1074,822 1084,819 1094,817 1100,815 1107,814 1144,805" stroke="#fffb00" stroke-width="4.2"/><polyline points="949,854 955,852 973,848 984,846 993,843 998,842 1004,841 1009,840 1016,838 1023,836 1052,830 1059,828 1066,826 1074,824 1084,822 1094,820 1100,818 1107,816 1144,808" stroke="#fcff00" stroke-width="4.4"/><polyline points="949,856 955,855 973,851 984,848 993,846 998,845 1004,843 1009,842 1016,841 1023,839 1052,832 1059,831 1066,829 1074,827 1084,825 1094,822 1100,821 1107,819 1144,811" stroke="#f6ff00" stroke-width="4.4"/><polyline points="949,859 955,858 973,853 984,851 993,849 998,848 1004,846 1009,845 1016,843 1023,842 1052,835 1059,833 1066,832 1074,830 1084,828 1094,825 1100,824 1107,822 1144,813" stroke="#efff00" stroke-width="4.4"/><polyline points="949,862 955,860 973,856 984,854 993,852 998,850 1004,849 1009,848 1016,846 1023,844 1052,838 1059,836 1066,834 1074,833 1084,830 1094,828 1100,827 1107,825 1144,816" stroke="#e9ff00" stroke-width="4.4"/><polyline points="949,864 955,863 973,859 984,856 993,854 998,853 1004,852 1009,850 1016,849 1023,847 1052,841 1059,839 1066,837 1074,835 1084,833 1094,831 1100,829 1107,828 1144,819" stroke="#e3ff00" stroke-width="4.4"/><polyline points="949,867 955,866 973,862 984,859 993,857 998,856 1004,854 1009,853 1016,852 1023,850 1052,843 1059,842 1066,840 1074,838 1084,836 1094,834 1100,832 1107,830 1144,822" stroke="#ddff00" stroke-width="4.4"/><polyline points="949,870 955,868 973,864 984,862 993,860 998,858 1004,857 1009,856 1016,854 1023,853 1052,846 1059,844 1066,843 1074,841 1084,839 1094,836 1100,835 1107,833 1144,825" stroke="#d6ff00" stroke-width="4.4"/><polyline points="949,872 955,871 973,867 984,864 993,862 998,861 1004,860 1009,859 1016,857 1023,855 1052,849 1059,847 1066,846 1074,844 1084,841 1094,839 1100,838 1107,836 1144,828" stroke="#d0ff00" stroke-width="4.4"/><polyline points="949,875 955,874 973,870 984,867 993,865 998,864 1004,862 1009,861 1016,860 1023,858 1052,852 1059,850 1066,848 1074,846 1084,844 1094,842 1100,841 1107,839 1144,830" stroke="#c9ff00" stroke-width="4.4"/><polyline points="949,878 955,876 973,872 984,870 993,868 998,866 1004,865 1009,864 1016,862 1023,861 1052,854 1059,853 1066,851 1074,849 1084,847 1094,845 1100,843 1107,842 1144,833" stroke="#c1ff00" stroke-width="4.4"/><polyline points="949,880 955,879 973,875 984,872 993,870 998,869 1004,868 1009,867 1016,865 1023,863 1052,857 1059,855 1066,854 1074,852 1084,850 1094,847 1100,846 1107,844 1144,836" stroke="#baff00" stroke-width="4.4"/><polyline points="949,883 955,882 973,878 984,875 993,873 998,872 1004,870 1009,869 1016,868 1023,866 1052,860 1059,858 1066,857 1074,855 1084,853 1094,850 1100,849 1107,847 1144,839" stroke="#b2ff00" stroke-width="4.4"/><polyline points="949,886 955,884 973,880 984,878 993,876 998,875 1004,873 1009,872 1016,871 1023,869 1052,863 1059,861 1066,859 1074,857 1084,855 1094,853 1100,852 1107,850 1144,842" stroke="#abff00" stroke-width="4.4"/><polyline points="949,888 955,887 973,883 984,880 993,878 998,877 1004,876 1009,875 1016,873 1023,872 1052,865 1059,864 1066,862 1074,860 1084,858 1094,856 1100,854 1107,853 1144,845" stroke="#a3ff00" stroke-width="4.4"/><polyline points="949,891 955,890 973,886 984,883 993,881 998,880 1004,879 1009,878 1016,876 1023,874 1052,868 1059,866 1066,865 1074,863 1084,861 1094,859 1100,857 1107,856 1144,847" stroke="#9cff00" stroke-width="4.4"/><polyline points="949,894 955,892 973,888 984,886 993,884 998,883 1004,881 1009,880 1016,879 1023,877 1052,871 1059,869 1066,867 1074,866 1084,863 1094,861 1100,860 1107,858 1144,850" stroke="#91ff00" stroke-width="4.3"/><polyline points="949,896 955,895 973,891 984,889 993,887 998,885 1004,884 1009,883 1016,881 1023,880 1052,873 1059,871 1066,870 1074,868 1084,866 1094,864 1100,862 1107,860 1144,852" stroke="#83ff00" stroke-width="4.3"/><polyline points="949,899 955,898 973,894 984,891 993,889 998,888 1004,887 1009,886 1016,884 1023,882 1052,876 1059,874 1066,872 1074,870 1084,868 1094,866 1100,864 1107,863 1144,854" stroke="#76ff00" stroke-width="4.3"/><polyline points="949,902 955,901 973,897 984,894 993,892 998,891 1004,889 1009,888 1016,887 1023,885 1052,878 1059,876 1066,875 1074,873 1084,871 1094,868 1100,867 1107,865 1144,856" stroke="#68ff00" stroke-width="4.3"/><polyline points="949,905 955,904 973,899 984,897 993,895 998,893 1004,892 1009,891 1016,889 1023,887 1052,881 1059,879 1066,877 1074,875 1084,873 1094,871 1100,869 1107,867 1144,859" stroke="#5aff00" stroke-width="4.3"/><polyline points="949,908 955,907 973,902 984,900 993,897 998,896 1004,895 1009,893 1016,892 1023,890 1052,883 1059,881 1066,880 1074,878 1084,875 1094,873 1100,871 1107,870 1144,861" stroke="#4cff00" stroke-width="4.3"/><polyline points="949,911 955,910 973,905 984,902 993,900 998,899 1004,897 1009,896 1016,894 1023,893 1052,886 1059,884 1066,882 1074,880 1084,878 1094,875 1100,874 1107,872 1144,863" stroke="#3fff00" stroke-width="4.3"/><polyline points="949,914 955,912 973,908 984,905 993,903 998,901 1004,900 1009,899 1016,897 1023,895 1052,888 1059,886 1066,885 1074,882 1084,880 1094,878 1100,876 1107,874 1144,865" stroke="#31fc00" stroke-width="4.3"/><polyline points="949,917 955,915 973,911 984,908 993,906 998,904 1004,903 1009,901 1016,900 1023,898 1052,891 1059,889 1066,887 1074,885 1084,882 1094,880 1100,878 1107,876 1144,867" stroke="#24f800" stroke-width="4.3"/><polyline points="949,920 955,918 973,913 984,911 993,908 998,907 1004,905 1009,904 1016,902 1023,900 1052,893 1059,891 1066,889 1074,887 1084,885 1094,882 1100,881 1107,879 1144,869" stroke="#17f500" stroke-width="4.3"/><polyline points="949,922 955,921 973,916 984,913 993,911 998,910 1004,908 1009,907 1016,905 1023,903 1052,896 1059,894 1066,892 1074,890 1084,887 1094,885 1100,883 1107,881 1144,871" stroke="#09f200" stroke-width="4.3"/><polyline points="949,925 955,924 973,919 984,916 993,914 998,912 1004,911 1009,909 1016,908 1023,906 1052,898 1059,896 1066,894 1074,892 1084,890 1094,887 1100,885 1107,883 1144,874" stroke="#00f109" stroke-width="4.3"/><polyline points="949,928 955,927 973,922 984,919 993,916 998,915 1004,913 1009,912 1016,910 1023,908 1052,901 1059,899 1066,897 1074,895 1084,892 1094,889 1100,888 1107,886 1144,876" stroke="#00f427" stroke-width="4.3"/><polyline points="949,931 955,930 973,925 984,922 993,919 998,918 1004,916 1009,915 1016,913 1023,911 1052,903 1059,901 1066,899 1074,897 1084,894 1094,892 1100,890 1107,888 1144,878" stroke="#00f745" stroke-width="4.3"/><polyline points="949,934 955,932 973,927 984,924 993,922 998,920 1004,919 1009,917 1016,915 1023,913 1052,906 1059,903 1066,902 1074,899 1084,897 1094,894 1100,892 1107,890 1144,880" stroke="#00fa63" stroke-width="4.3"/><polyline points="949,937 955,935 973,930 984,927 993,925 998,923 1004,921 1009,920 1016,918 1023,916 1052,908 1059,906 1066,904 1074,902 1084,899 1094,896 1100,895 1107,892 1144,882" stroke="#00fd81" stroke-width="4.3"/><polyline points="949,940 955,938 973,933 984,930 993,927 998,926 1004,924 1009,923 1016,921 1023,919 1052,911 1059,908 1066,907 1074,904 1084,901 1094,899 1100,897 1107,895 1144,884" stroke="#00fe99" stroke-width="4.3"/><polyline points="949,943 955,941 973,936 984,933 993,930 998,928 1004,927 1009,925 1016,923 1023,921 1052,913 1059,911 1066,909 1074,907 1084,904 1094,901 1100,899 1107,897 1144,887" stroke="#00fcac" stroke-width="4.3"/><polyline points="949,945 955,944 973,939 984,935 993,933 998,931 1004,929 1009,928 1016,926 1023,924 1052,916 1059,913 1066,911 1074,909 1084,906 1094,903 1100,902 1107,899 1144,889" stroke="#00fabe" stroke-width="4.3"/><polyline points="949,948 955,947 973,941 984,938 993,935 998,934 1004,932 1009,931 1016,929 1023,926 1052,918 1059,916 1066,914 1074,911 1084,909 1094,906 1100,904 1107,902 1144,891" stroke="#00f8d1" stroke-width="4.3"/><polyline points="949,951 955,949 973,944 984,941 993,938 998,937 1004,935 1009,933 1016,931 1023,929 1052,921 1059,918 1066,916 1074,914 1084,911 1094,908 1100,906 1107,904 1144,893" stroke="#00f6e4" stroke-width="4.3"/><polyline points="949,954 955,952 973,947 984,944 993,941 998,939 1004,937 1009,936 1016,934 1023,932 1052,923 1059,921 1066,919 1074,916 1084,913 1094,910 1100,909 1107,906 1144,895" stroke="#00f4f6" stroke-width="4.3"/><polyline points="949,957 955,955 973,950 984,946 993,944 998,942 1004,940 1009,939 1016,936 1023,934 1052,926 1059,923 1066,921 1074,919 1084,916 1094,913 1100,911 1107,909 1144,897" stroke="#00eaf9" stroke-width="4.3"/><polyline points="949,960 955,958 973,952 984,949 993,946 998,945 1004,943 1009,941 1016,939 1023,937 1052,928 1059,926 1066,924 1074,921 1084,918 1094,915 1100,913 1107,911 1144,900" stroke="#00dffb" stroke-width="4.3"/><polyline points="949,963 955,961 973,955 984,952 993,949 998,947 1004,945 1009,944 1016,942 1023,939 1052,931 1059,928 1066,926 1074,924 1084,921 1094,917 1100,916 1107,913 1144,902" stroke="#00d5fc" stroke-width="4.3"/><polyline points="949,965 955,964 973,958 984,955 993,952 998,950 1004,948 1009,947 1016,944 1023,942 1052,933 1059,931 1066,929 1074,926 1084,923 1094,920 1100,918 1107,916 1144,904" stroke="#00cafe" stroke-width="4.3"/><polyline points="949,968 955,967 973,961 984,957 993,954 998,953 1004,951 1009,949 1016,947 1023,945 1052,936 1059,933 1066,931 1074,928 1084,925 1094,922 1100,920 1107,918 1144,906" stroke="#00bfff" stroke-width="4.3"/><polyline points="949,971 955,969 973,964 984,960 993,957 998,955 1004,953 1009,952 1016,950 1023,947 1052,938 1059,936 1066,933 1074,931 1084,928 1094,924 1100,923 1107,920 1144,908" stroke="#00b3ff" stroke-width="4.3"/><polyline points="949,974 955,972 973,966 984,963 993,960 998,958 1004,956 1009,955 1016,952 1023,950 1052,941 1059,938 1066,936 1074,933 1084,930 1094,927 1100,925 1107,922 1144,910" stroke="#00a8ff" stroke-width="4.3"/><polyline points="949,977 955,975 973,969 984,965 993,963 998,961 1004,959 1009,957 1016,955 1023,952 1052,943 1059,941 1066,938 1074,936 1084,933 1094,929 1100,927 1107,925 1144,913" stroke="#009dff" stroke-width="4.3"/><polyline points="949,980 955,978 973,972 984,968 993,965 998,963 1004,961 1009,960 1016,957 1023,955 1052,946 1059,943 1066,941 1074,938 1084,935 1094,932 1100,930 1107,927 1144,915" stroke="#0091ff" stroke-width="4.3"/><polyline points="949,983 955,981 973,975 984,971 993,968 998,966 1004,964 1009,962 1016,960 1023,958 1052,948 1059,946 1066,943 1074,941 1084,937 1094,934 1100,932 1107,929 1144,917" stroke="#0086ff" stroke-width="4.3"/><polyline points="949,985 955,983 973,977 984,974 993,971 998,969 1004,967 1009,965 1016,963 1023,960 1052,951 1059,948 1066,946 1074,943 1084,940 1094,936 1100,934 1107,932 1144,920" stroke="#0075ff" stroke-width="4.3"/><polyline points="949,988 955,986 973,980 984,976 993,973 998,971 1004,969 1009,968 1016,965 1023,963 1052,953 1059,951 1066,949 1074,946 1084,943 1094,939 1100,937 1107,935 1144,922" stroke="#0060ff" stroke-width="4.3"/><polyline points="949,990 955,988 973,982 984,979 993,976 998,974 1004,972 1009,970 1016,968 1023,966 1052,956 1059,953 1066,951 1074,948 1084,945 1094,942 1100,940 1107,937 1144,925" stroke="#004bff" stroke-width="4.3"/><polyline points="949,993 955,991 973,985 984,981 993,978 998,976 1004,974 1009,973 1016,971 1023,968 1052,959 1059,956 1066,954 1074,951 1084,948 1094,945 1100,943 1107,940 1144,928" stroke="#0035ff" stroke-width="4.3"/><polyline points="949,995 955,993 973,987 984,984 993,981 998,979 1004,977 1009,975 1016,973 1023,971 1052,961 1059,959 1066,957 1074,954 1084,951 1094,947 1100,945 1107,943 1144,931" stroke="#0020ff" stroke-width="4.3"/><polyline points="949,998 955,996 973,990 984,986 993,983 998,982 1004,980 1009,978 1016,976 1023,973 1052,964 1059,962 1066,959 1074,957 1084,953 1094,950 1100,948 1107,946 1144,934" stroke="#030fff" stroke-width="4.3"/><polyline points="949,1000 955,998 973,992 984,989 993,986 998,984 1004,982 1009,981 1016,978 1023,976 1052,967 1059,964 1066,962 1074,959 1084,956 1094,953 1100,951 1107,948 1144,937" stroke="#0d09ff" stroke-width="4.3"/><polyline points="949,1003 955,1001 973,995 984,991 993,989 998,987 1004,985 1009,983 1016,981 1023,979 1052,969 1059,967 1066,965 1074,962 1084,959 1094,956 1100,954 1107,951 1144,939" stroke="#1804ff" stroke-width="4.3"/><polyline points="949,1005 955,1003 973,998 984,994 993,991 998,989 1004,987 1009,986 1016,984 1023,981 1052,972 1059,970 1066,967 1074,965 1084,962 1094,958 1100,956 1107,954 1144,942" stroke="#2400ff" stroke-width="4.3"/><polyline points="949,1008 955,1006 973,1000 984,997 993,994 998,992 1004,990 1009,988 1016,986 1023,984 1052,975 1059,972 1066,970 1074,967 1084,964 1094,961 1100,959 1107,957 1144,945" stroke="#3500ff" stroke-width="4.3"/><polyline points="949,1010 955,1008 973,1003 984,999 993,996 998,994 1004,993 1009,991 1016,989 1023,986 1052,977 1059,975 1066,973 1074,970 1084,967 1094,964 1100,962 1107,960 1144,948" stroke="#4600ff" stroke-width="4.3"/><polyline points="949,1013 955,1011 973,1005 984,1002 993,999 998,997 1004,995 1009,994 1016,991 1023,989 1052,980 1059,978 1066,976 1074,973 1084,970 1094,967 1100,965 1107,962 1144,951" stroke="#5700ff" stroke-width="4.3"/><polyline points="949,1015 955,1013 973,1008 984,1004 993,1001 998,1000 1004,998 1009,996 1016,994 1023,992 1052,983 1059,980 1066,978 1074,976 1084,973 1094,969 1100,967 1107,965 1144,953" stroke="#6400fa" stroke-width="4.3"/><polyline points="949,1018 955,1016 973,1010 984,1007 993,1004 998,1002 1004,1000 1009,999 1016,997 1023,994 1052,985 1059,983 1066,981 1074,978 1084,975 1094,972 1100,970 1107,968 1144,956" stroke="#6d00f0" stroke-width="4.3"/><polyline points="949,1020 955,1018 973,1013 984,1009 993,1006 998,1005 1004,1003 1009,1001 1016,999 1023,997 1052,988 1059,986 1066,984 1074,981 1084,978 1094,975 1100,973 1107,971 1144,959" stroke="#7600e5" stroke-width="4.3"/><polyline points="949,1023 955,1021 973,1015 984,1012 993,1009 998,1007 1004,1005 1009,1004 1016,1002 1023,1000 1052,991 1059,988 1066,986 1074,984 1084,981 1094,978 1100,976 1107,973 1144,962" stroke="#7a00dd" stroke-width="4.2"/><polyline points="949,1025 955,1023 973,1018 984,1014 993,1011 998,1010 1004,1008 1009,1006 1016,1004 1023,1002 1052,993 1059,991 1066,989 1074,986 1084,983 1094,980 1100,978 1107,976 1144,965" stroke="#7b00d6" stroke-width="4.2"/><polyline points="949,1027 955,1026 973,1020 984,1017 993,1014 998,1012 1004,1010 1009,1009 1016,1007 1023,1005 1052,996 1059,994 1066,991 1074,989 1084,986 1094,983 1100,981 1107,979 1144,968" stroke="#7c00d0" stroke-width="4.2"/><polyline points="949,1030 955,1028 973,1022 984,1019 993,1016 998,1015 1004,1013 1009,1011 1016,1009 1023,1007 1052,998 1059,996 1066,994 1074,992 1084,989 1094,986 1100,984 1107,981 1144,970" stroke="#7c00c9" stroke-width="4.2"/><polyline points="949,1032 955,1030 973,1025 984,1022 993,1019 998,1017 1004,1015 1009,1014 1016,1012 1023,1010 1052,1001 1059,999 1066,997 1074,994 1084,991 1094,988 1100,986 1107,984 1144,973" stroke="#7d00c3" stroke-width="4.2"/><polyline points="949,1034 955,1033 973,1027 984,1024 993,1021 998,1020 1004,1018 1009,1016 1016,1014 1023,1012 1052,1004 1059,1001 1066,999 1074,997 1084,994 1094,991 1100,989 1107,987 1144,976" stroke="#7e00bd" stroke-width="4.2"/><polyline points="949,1037 955,1035 973,1030 984,1026 993,1024 998,1022 1004,1020 1009,1019 1016,1017 1023,1015 1052,1006 1059,1004 1066,1002 1074,999 1084,997 1094,994 1100,992 1107,990 1144,979" stroke="#7e00b6" stroke-width="4.2"/><polyline points="949,1039 955,1037 973,1032 984,1029 993,1026 998,1025 1004,1023 1009,1021 1016,1019 1023,1017 1052,1009 1059,1006 1066,1005 1074,1002 1084,999 1094,996 1100,994 1107,992 1144,981" stroke="#7f00b0" stroke-width="4.2"/><polyline points="949,1041 955,1040 973,1035 984,1031 993,1029 998,1027 1004,1025 1009,1024 1016,1022 1023,1020 1052,1011 1059,1009 1066,1007 1074,1005 1084,1002 1094,999 1100,997 1107,995 1144,984" stroke="#8000a9" stroke-width="4.2"/><polyline points="949,1044 955,1042 973,1037 984,1034 993,1031 998,1030 1004,1028 1009,1026 1016,1024 1023,1022 1052,1014 1059,1012 1066,1010 1074,1007 1084,1005 1094,1002 1100,1000 1107,998 1144,987" stroke="#7f00a5" stroke-width="4.2"/><polyline points="949,1046 955,1045 973,1039 984,1036 993,1034 998,1032 1004,1030 1009,1029 1016,1027 1023,1025 1052,1017 1059,1014 1066,1012 1074,1010 1084,1007 1094,1004 1100,1003 1107,1000 1144,990" stroke="#7d00a1" stroke-width="4.2"/><polyline points="949,1049 955,1047 973,1042 984,1039 993,1036 998,1034 1004,1033 1009,1031 1016,1029 1023,1027 1052,1019 1059,1017 1066,1015 1074,1013 1084,1010 1094,1007 1100,1005 1107,1003 1144,993" stroke="#7c009c" stroke-width="4.2"/><polyline points="949,1051 955,1049 973,1044 984,1041 993,1038 998,1037 1004,1035 1009,1034 1016,1032 1023,1030 1052,1022 1059,1020 1066,1018 1074,1015 1084,1013 1094,1010 1100,1008 1107,1006 1144,995" stroke="#7a0098" stroke-width="4.2"/><polyline points="949,1053 955,1052 973,1047 984,1043 993,1041 998,1039 1004,1038 1009,1036 1016,1034 1023,1032 1052,1024 1059,1022 1066,1020 1074,1018 1084,1015 1094,1012 1100,1011 1107,1008 1144,998" stroke="#790094" stroke-width="4.2"/><polyline points="949,1056 955,1054 973,1049 984,1046 993,1043 998,1042 1004,1040 1009,1039 1016,1037 1023,1035 1052,1027 1059,1025 1066,1023 1074,1021 1084,1018 1094,1015 1100,1013 1107,1011 1144,1001" stroke="#770090" stroke-width="4.2"/><polyline points="949,1058 955,1056 973,1051 984,1048 993,1046 998,1044 1004,1043 1009,1041 1016,1039 1023,1037 1052,1029 1059,1027 1066,1025 1074,1023 1084,1020 1094,1018 1100,1016 1107,1014 1144,1004" stroke="#75008c" stroke-width="4.2"/><polyline points="949,1060 955,1059 973,1054 984,1051 993,1048 998,1047 1004,1045 1009,1044 1016,1042 1023,1040 1052,1032 1059,1030 1066,1028 1074,1026 1084,1023 1094,1020 1100,1019 1107,1017 1144,1006" stroke="#740088" stroke-width="4.2"/><polyline points="949,1063 955,1061 973,1056 984,1053 993,1051 998,1049 1004,1048 1009,1046 1016,1044 1023,1042 1052,1035 1059,1033 1066,1031 1074,1029 1084,1026 1094,1023 1100,1022 1107,1019 1144,1010" stroke="#730085" stroke-width="4.2"/><polyline points="949,1064 955,1063 973,1058 984,1055 993,1053 998,1051 1004,1050 1009,1049 1016,1047 1023,1045 1052,1037 1059,1035 1066,1034 1074,1031 1084,1029 1094,1026 1100,1024 1107,1023 1144,1013" stroke="#720083" stroke-width="4.2"/><polyline points="949,1066 955,1065 973,1060 984,1058 993,1055 998,1054 1004,1052 1009,1051 1016,1049 1023,1047 1052,1040 1059,1038 1066,1036 1074,1034 1084,1032 1094,1029 1100,1028 1107,1026 1144,1016" stroke="#710081" stroke-width="4.2"/><polyline points="949,1068 955,1067 973,1062 984,1060 993,1057 998,1056 1004,1055 1009,1053 1016,1052 1023,1050 1052,1043 1059,1041 1066,1039 1074,1037 1084,1035 1094,1032 1100,1030 1107,1029 1144,1019" stroke="#71007f" stroke-width="4.2"/><polyline points="949,1070 955,1069 973,1065 984,1062 993,1060 998,1058 1004,1057 1009,1056 1016,1054 1023,1052 1052,1045 1059,1043 1066,1042 1074,1040 1084,1037 1094,1035 1100,1034 1107,1032 1144,1023" stroke="#70007d" stroke-width="4.2"/><polyline points="949,1072 955,1071 973,1067 984,1064 993,1062 998,1061 1004,1059 1009,1058 1016,1056 1023,1055 1052,1048 1059,1046 1066,1045 1074,1043 1084,1040 1094,1038 1100,1036 1107,1035 1144,1026" stroke="#6f007b" stroke-width="4.2"/><polyline points="949,1074 955,1073 973,1069 984,1066 993,1064 998,1063 1004,1062 1009,1061 1016,1059 1023,1057 1052,1051 1059,1049 1066,1047 1074,1045 1084,1043 1094,1041 1100,1040 1107,1038 1144,1029" stroke="#6f007a" stroke-width="4.2"/><polyline points="949,1076 955,1075 973,1071 984,1068 993,1067 998,1065 1004,1064 1009,1063 1016,1061 1023,1060 1052,1053 1059,1052 1066,1050 1074,1048 1084,1046 1094,1044 1100,1042 1107,1041 1144,1033" stroke="#6e0078" stroke-width="4.2"/><polyline points="949,1078 955,1077 973,1073 984,1071 993,1069 998,1068 1004,1066 1009,1065 1016,1064 1023,1062 1052,1056 1059,1054 1066,1053 1074,1051 1084,1049 1094,1047 1100,1046 1107,1044 1144,1036" stroke="#6d0076" stroke-width="4.2"/><polyline points="949,1080 955,1079 973,1075 984,1073 993,1071 998,1070 1004,1069 1009,1068 1016,1066 1023,1065 1052,1059 1059,1057 1066,1056 1074,1054 1084,1052 1094,1050 1100,1048 1107,1047 1144,1039" stroke="#6c0075" stroke-width="4.2"/></g>
<g clip-path="url(#cp4)" fill="none" stroke="#383838" stroke-width="1.0" opacity="0.7"><polyline points="949.4,1021.4 955.0,1019.6 973.0,1014.0 984.0,1010.6 992.9,1007.8 998.4,1006.1 1004.4,1004.2 1009.1,1002.7 1016.2,1000.5 1023.3,998.3 1051.8,989.4 1059.4,987.0 1066.0,984.9 1074.3,982.3 1083.8,979.4 1094.0,976.2 1100.0,974.3 1107.4,972.0 1144.0,960.6"/><polyline points="949.4,984.0 955.0,982.1 973.0,976.0 984.0,972.3 992.9,969.3 998.4,967.4 1004.4,965.4 1009.1,963.8 1016.2,961.4 1023.3,959.0 1051.8,949.3 1059.4,946.8 1066.0,944.5 1074.3,941.7 1083.8,938.5 1094.0,935.0 1100.0,933.0 1107.4,930.5 1144.0,918.1"/><polyline points="949.4,938.3 955.0,936.7 973.0,931.6 984.0,928.5 992.9,926.0 998.4,924.4 1004.4,922.7 1009.1,921.4 1016.2,919.4 1023.3,917.4 1051.8,909.3 1059.4,907.2 1066.0,905.3 1074.3,903.0 1083.8,900.3 1094.0,897.4 1100.0,895.7 1107.4,893.6 1144.0,883.3"/><polyline points="949.4,892.1 955.0,890.9 973.0,886.9 984.0,884.4 992.9,882.5 998.4,881.2 1004.4,879.9 1009.1,878.9 1016.2,877.3 1023.3,875.7 1051.8,869.4 1059.4,867.7 1066.0,866.2 1074.3,864.4 1083.8,862.3 1094.0,860.0 1100.0,858.7 1107.4,857.0 1144.0,848.9"/><polyline points="949.4,852.4 955.0,851.1 973.0,846.8 984.0,844.2 992.9,842.1 998.4,840.8 1004.4,839.4 1009.1,838.3 1016.2,836.6 1023.3,834.9 1051.8,828.2 1059.4,826.4 1066.0,824.8 1074.3,822.8 1083.8,820.6 1094.0,818.2 1100.0,816.8 1107.4,815.0 1144.0,806.4"/><polyline points="949.4,809.0 955.0,807.8 973.0,803.8 984.0,801.4 992.9,799.4 998.4,798.2 1004.4,796.9 1009.1,795.9 1016.2,794.3 1023.3,792.7 1051.8,786.5 1059.4,784.8 1066.0,783.3 1074.3,781.5 1083.8,779.4 1094.0,777.2 1100.0,775.8 1107.4,774.2 1144.0,766.1"/><polyline points="949.4,766.8 955.0,765.6 973.0,761.6 984.0,759.2 992.9,757.3 998.4,756.1 1004.4,754.7 1009.1,753.7 1016.2,752.1 1023.3,750.6 1051.8,744.3 1059.4,742.6 1066.0,741.2 1074.3,739.4 1083.8,737.3 1094.0,735.0 1100.0,733.7 1107.4,732.1 1144.0,724.1"/><polyline points="949.4,721.9 955.0,720.9 973.0,717.4 984.0,715.3 992.9,713.6 998.4,712.5 1004.4,711.4 1009.1,710.5 1016.2,709.1 1023.3,707.7 1051.8,702.3 1059.4,700.8 1066.0,699.5 1074.3,697.9 1083.8,696.1 1094.0,694.2 1100.0,693.0 1107.4,691.6 1144.0,684.5"/><polyline points="949.4,676.2 955.0,675.3 973.0,672.3 984.0,670.5 992.9,669.0 998.4,668.1 1004.4,667.1 1009.1,666.3 1016.2,665.2 1023.3,664.0 1051.8,659.3 1059.4,658.0 1066.0,657.0 1074.3,655.6 1083.8,654.0 1094.0,652.3 1100.0,651.4 1107.4,650.1 1144.0,644.1"/></g>
<line x1="808.6" y1="655.0" x2="823.1" y2="1015.5" stroke="#000" stroke-width="3" stroke-linecap="square"/>
<line x1="823.1" y1="1015.5" x2="1105.5" y2="1118.3" stroke="#000" stroke-width="3.2" stroke-linecap="square"/>
<line x1="1105.5" y1="1118.3" x2="1329.8" y2="1000.1" stroke="#000" stroke-width="3.2" stroke-linecap="square"/>
<line x1="823.1" y1="1015.5" x2="816.6" y2="1018.0" stroke="#000" stroke-width="2.2"/>
<text transform="matrix(0.869 -0.332 -0.060 0.998 815.2 1027.5)" font-family="Liberation Sans" font-size="19" font-weight="bold" font-style="normal" text-anchor="end" fill="#000" dy="0">0.0</text>
<line x1="821.1" y1="965.9" x2="814.5" y2="968.2" stroke="#000" stroke-width="2.2"/>
<text transform="matrix(0.877 -0.308 -0.060 0.998 813.1 977.7)" font-family="Liberation Sans" font-size="19" font-weight="bold" font-style="normal" text-anchor="end" fill="#000" dy="0">0.5</text>
<line x1="819.1" y1="915.7" x2="812.4" y2="917.8" stroke="#000" stroke-width="2.2"/>
<text transform="matrix(0.886 -0.284 -0.060 0.998 811.0 927.3)" font-family="Liberation Sans" font-size="19" font-weight="bold" font-style="normal" text-anchor="end" fill="#000" dy="0">1.0</text>
<line x1="817.0" y1="864.9" x2="810.3" y2="866.8" stroke="#000" stroke-width="2.2"/>
<text transform="matrix(0.893 -0.258 -0.060 0.998 808.9 876.2)" font-family="Liberation Sans" font-size="19" font-weight="bold" font-style="normal" text-anchor="end" fill="#000" dy="0">1.5</text>
<line x1="815.0" y1="813.4" x2="808.2" y2="815.1" stroke="#000" stroke-width="2.2"/>
<text transform="matrix(0.901 -0.232 -0.060 0.998 806.7 824.5)" font-family="Liberation Sans" font-size="19" font-weight="bold" font-style="normal" text-anchor="end" fill="#000" dy="0">2.0</text>
<line x1="812.9" y1="761.3" x2="806.0" y2="762.8" stroke="#000" stroke-width="2.2"/>
<text transform="matrix(0.907 -0.205 -0.060 0.998 804.6 772.1)" font-family="Liberation Sans" font-size="19" font-weight="bold" font-style="normal" text-anchor="end" fill="#000" dy="0">2.5</text>
<line x1="810.8" y1="708.5" x2="803.9" y2="709.8" stroke="#000" stroke-width="2.2"/>
<text transform="matrix(0.913 -0.176 -0.060 0.998 802.4 719.1)" font-family="Liberation Sans" font-size="19" font-weight="bold" font-style="normal" text-anchor="end" fill="#000" dy="0">3.0</text>
<line x1="808.6" y1="655.0" x2="801.7" y2="656.1" stroke="#000" stroke-width="2.2"/>
<text transform="matrix(0.918 -0.147 -0.060 0.998 800.2 665.3)" font-family="Liberation Sans" font-size="19" font-weight="bold" font-style="normal" text-anchor="end" fill="#000" dy="0">3.5</text>
<line x1="851.7" y1="1024.2" x2="847.1" y2="1026.0" stroke="#000" stroke-width="2.2"/>
<line x1="878.4" y1="1035.6" x2="871.9" y2="1038.3" stroke="#000" stroke-width="2.2"/>
<text transform="matrix(1.204 -0.490 0.893 0.325 860.8 1042.8)" font-family="Liberation Sans" font-size="15" font-weight="bold" font-style="normal" text-anchor="middle" fill="#000" dy="5">-6</text>
<line x1="910.5" y1="1045.5" x2="905.9" y2="1047.4" stroke="#000" stroke-width="2.2"/>
<line x1="938.8" y1="1057.6" x2="932.4" y2="1060.4" stroke="#000" stroke-width="2.2"/>
<text transform="matrix(1.192 -0.519 0.893 0.325 921.4 1065.2)" font-family="Liberation Sans" font-size="15" font-weight="bold" font-style="normal" text-anchor="middle" fill="#000" dy="5">-8</text>
<line x1="972.5" y1="1068.0" x2="968.0" y2="1070.1" stroke="#000" stroke-width="2.2"/>
<line x1="1002.6" y1="1080.8" x2="996.3" y2="1083.8" stroke="#000" stroke-width="2.2"/>
<text transform="matrix(1.177 -0.551 0.893 0.325 985.4 1088.9)" font-family="Liberation Sans" font-size="15" font-weight="bold" font-style="normal" text-anchor="middle" fill="#000" dy="5">-10</text>
<line x1="1038.2" y1="1091.9" x2="1033.7" y2="1094.1" stroke="#000" stroke-width="2.2"/>
<line x1="1070.2" y1="1105.4" x2="1064.0" y2="1108.6" stroke="#000" stroke-width="2.2"/>
<text transform="matrix(1.160 -0.587 0.893 0.325 1053.2 1114.0)" font-family="Liberation Sans" font-size="15" font-weight="bold" font-style="normal" text-anchor="middle" fill="#000" dy="5">-12</text>
<line x1="1104.1" y1="1117.8" x2="1112.1" y2="1120.7" stroke="#000" stroke-width="2.2"/>
<text transform="matrix(1.363 0.496 -0.752 0.396 1114.1 1123.8)" font-family="Liberation Sans" font-size="14" font-weight="bold" font-style="normal" text-anchor="start" fill="#000" dy="0">0.000</text>
<line x1="1127.5" y1="1104.6" x2="1132.2" y2="1106.3" stroke="#000" stroke-width="2.2"/>
<line x1="1152.0" y1="1092.5" x2="1160.1" y2="1095.3" stroke="#000" stroke-width="2.2"/>
<text transform="matrix(1.325 0.459 -0.752 0.396 1162.1 1098.4)" font-family="Liberation Sans" font-size="14" font-weight="bold" font-style="normal" text-anchor="start" fill="#000" dy="0">0.001</text>
<line x1="1173.9" y1="1080.2" x2="1178.6" y2="1081.8" stroke="#000" stroke-width="2.2"/>
<line x1="1196.9" y1="1068.9" x2="1205.0" y2="1071.6" stroke="#000" stroke-width="2.2"/>
<text transform="matrix(1.289 0.427 -0.752 0.396 1207.1 1074.6)" font-family="Liberation Sans" font-size="14" font-weight="bold" font-style="normal" text-anchor="start" fill="#000" dy="0">0.002</text>
<line x1="1217.3" y1="1057.4" x2="1222.1" y2="1058.9" stroke="#000" stroke-width="2.2"/>
<line x1="1239.0" y1="1046.7" x2="1247.1" y2="1049.3" stroke="#000" stroke-width="2.2"/>
<text transform="matrix(1.255 0.397 -0.752 0.396 1249.2 1052.2)" font-family="Liberation Sans" font-size="14" font-weight="bold" font-style="normal" text-anchor="start" fill="#000" dy="0">0.003</text>
<line x1="1258.1" y1="1035.9" x2="1262.9" y2="1037.4" stroke="#000" stroke-width="2.2"/>
<line x1="1278.6" y1="1025.9" x2="1286.7" y2="1028.4" stroke="#000" stroke-width="2.2"/>
<text transform="matrix(1.222 0.371 -0.752 0.396 1288.8 1031.2)" font-family="Liberation Sans" font-size="14" font-weight="bold" font-style="normal" text-anchor="start" fill="#000" dy="0">0.004</text>
<line x1="1296.5" y1="1015.7" x2="1301.3" y2="1017.1" stroke="#000" stroke-width="2.2"/>
<line x1="1315.8" y1="1006.3" x2="1324.0" y2="1008.7" stroke="#000" stroke-width="2.2"/>
<text transform="matrix(1.190 0.347 -0.752 0.396 1326.1 1011.5)" font-family="Liberation Sans" font-size="14" font-weight="bold" font-style="normal" text-anchor="start" fill="#000" dy="0">0.005</text>
<rect x="1372.2" y="635.6" width="33.799999999999955" height="342.4" fill="#fff" stroke="#000" stroke-width="1.6"/>
<rect x="1372.2" y="638.7" width="33.799999999999955" height="335.5" fill="url(#dcb)"/>
<rect x="1372.2" y="974.2" width="33.799999999999955" height="3.7999999999999545" fill="#000"/>
<rect x="1372.2" y="635.6" width="33.799999999999955" height="342.4" fill="none" stroke="#222" stroke-width="1.6"/>
<line x1="1406.0" y1="638.7" x2="1414.0" y2="638.7" stroke="#000" stroke-width="1.6"/>
<text x="1419.5" y="643.7" font-family="Liberation Sans" font-size="14" font-weight="bold">3.860</text>
<line x1="1406.0" y1="672.2" x2="1414.0" y2="672.2" stroke="#000" stroke-width="1.6"/>
<text x="1419.5" y="677.2" font-family="Liberation Sans" font-size="14" font-weight="bold">3.474</text>
<line x1="1406.0" y1="705.8" x2="1414.0" y2="705.8" stroke="#000" stroke-width="1.6"/>
<text x="1419.5" y="710.8" font-family="Liberation Sans" font-size="14" font-weight="bold">3.088</text>
<line x1="1406.0" y1="739.4" x2="1414.0" y2="739.4" stroke="#000" stroke-width="1.6"/>
<text x="1419.5" y="744.4" font-family="Liberation Sans" font-size="14" font-weight="bold">2.702</text>
<line x1="1406.0" y1="772.9" x2="1414.0" y2="772.9" stroke="#000" stroke-width="1.6"/>
<text x="1419.5" y="777.9" font-family="Liberation Sans" font-size="14" font-weight="bold">2.316</text>
<line x1="1406.0" y1="806.5" x2="1414.0" y2="806.5" stroke="#000" stroke-width="1.6"/>
<text x="1419.5" y="811.5" font-family="Liberation Sans" font-size="14" font-weight="bold">1.930</text>
<line x1="1406.0" y1="840.0" x2="1414.0" y2="840.0" stroke="#000" stroke-width="1.6"/>
<text x="1419.5" y="845.0" font-family="Liberation Sans" font-size="14" font-weight="bold">1.544</text>
<line x1="1406.0" y1="873.6" x2="1414.0" y2="873.6" stroke="#000" stroke-width="1.6"/>
<text x="1419.5" y="878.6" font-family="Liberation Sans" font-size="14" font-weight="bold">1.158</text>
<line x1="1406.0" y1="907.1" x2="1414.0" y2="907.1" stroke="#000" stroke-width="1.6"/>
<text x="1419.5" y="912.1" font-family="Liberation Sans" font-size="14" font-weight="bold">0.7720</text>
<line x1="1406.0" y1="940.7" x2="1414.0" y2="940.7" stroke="#000" stroke-width="1.6"/>
<text x="1419.5" y="945.7" font-family="Liberation Sans" font-size="14" font-weight="bold">0.3860</text>
<line x1="1406.0" y1="974.2" x2="1414.0" y2="974.2" stroke="#000" stroke-width="1.6"/>
<text x="1419.5" y="979.2" font-family="Liberation Sans" font-size="14" font-weight="bold">0.000</text>
<text x="1324" y="619.5" font-family="Liberation Sans" font-size="22.5" font-weight="bold">ZT color bar</text>
<text transform="translate(770.7,852.7) rotate(87.1) scale(1.13,1)" font-family="Liberation Sans" font-size="19" font-weight="bold" text-anchor="middle" dominant-baseline="central">Electronic ZT</text>
<text x="1116.3" y="1174" font-family="Liberation Sans" font-size="22" font-weight="bold" text-anchor="middle">(d)</text>
<text transform="matrix(1.050 0.391 -0.784 0.442 906.9 1088.8)" font-family="Liberation Sans" font-size="16" font-weight="bold" font-style="normal" text-anchor="middle" fill="#000" dy="0">Fermi level (eV)</text>
<text transform="matrix(0.834 -0.455 0.751 0.661 1300.0 1084.5)" font-family="Liberation Sans" font-size="16" font-weight="bold" font-style="normal" text-anchor="middle" fill="#000" dy="0">Power factor (W/K2 m)</text>
</svg></body></html>
